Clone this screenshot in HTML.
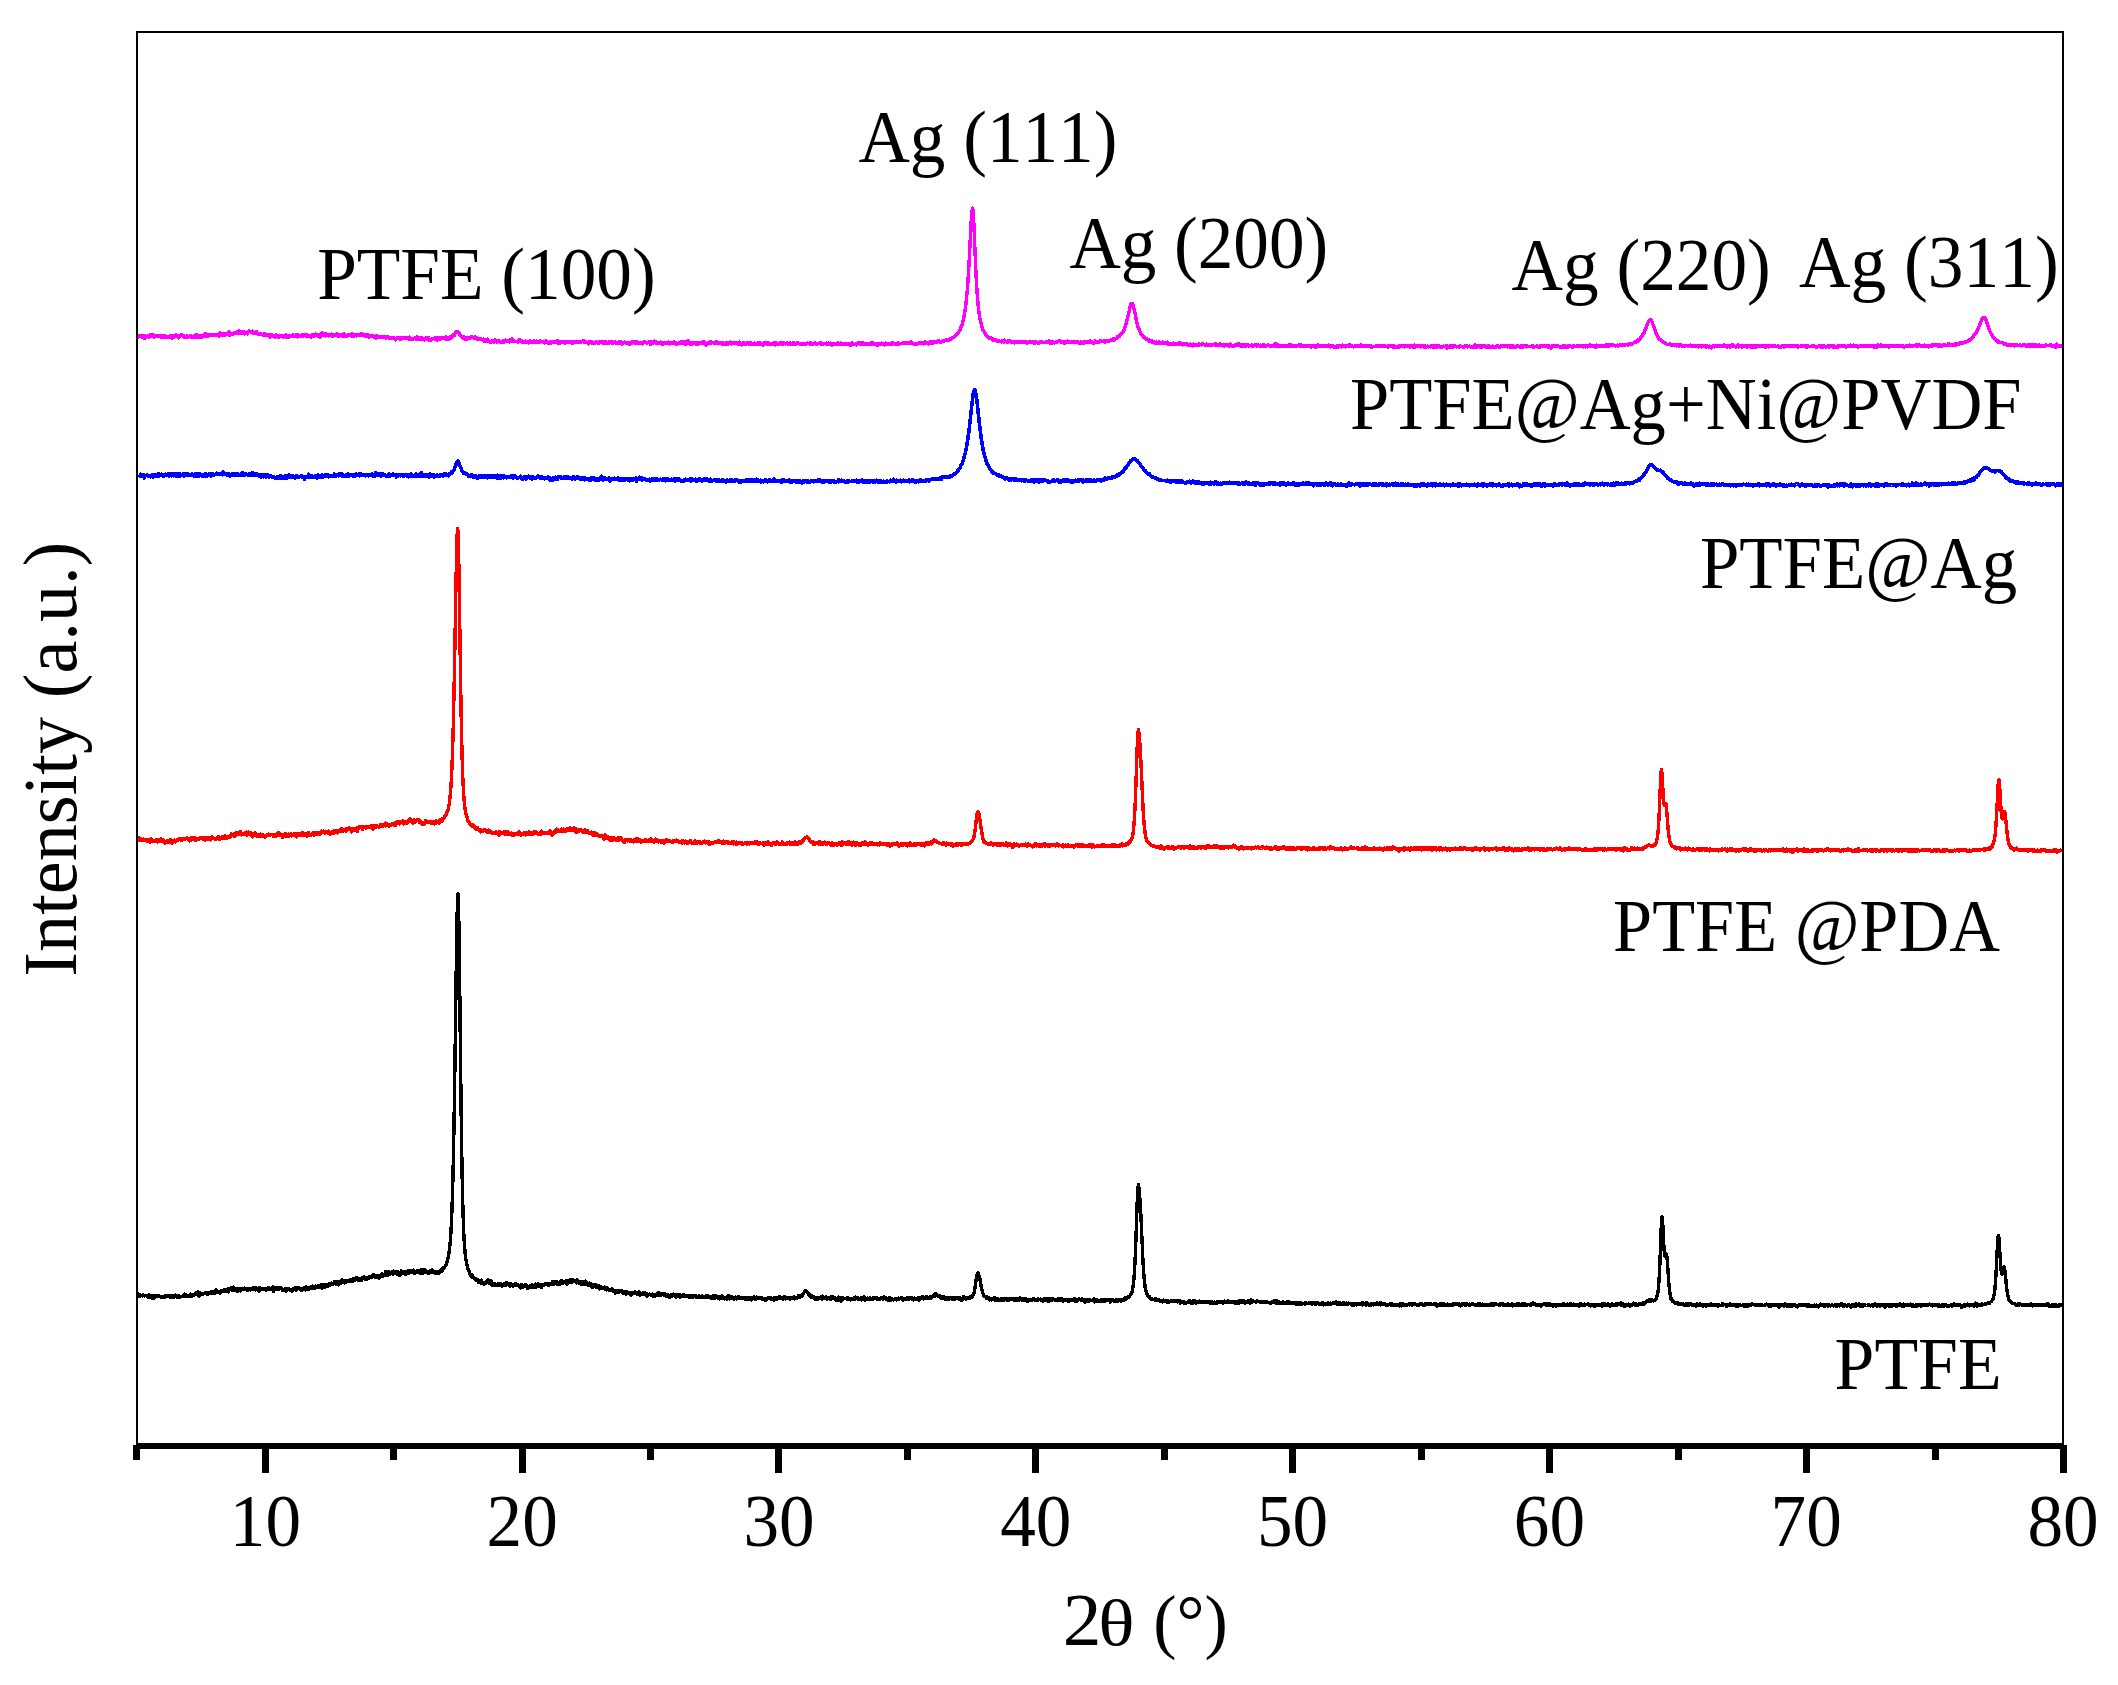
<!DOCTYPE html>
<html lang="en">
<head>
<meta charset="utf-8">
<title>XRD patterns</title>
<style>
html,body{margin:0;padding:0;background:#ffffff;}
body{width:2118px;height:1685px;overflow:hidden;}
svg{display:block;}
</style>
</head>
<body>
<svg width="2118" height="1685" viewBox="0 0 2118 1685">
<rect x="0" y="0" width="2118" height="1685" fill="#ffffff"/>
<polyline fill="none" stroke="#000000" stroke-width="3.4" stroke-linejoin="round" shape-rendering="crispEdges" stroke-linecap="butt" points="137.0,1295.6 137.5,1295.9 138.0,1295.6 138.5,1294.2 139.0,1295.9 139.5,1295.4 140.0,1295.0 140.5,1295.9 141.0,1295.6 141.5,1295.7 142.0,1295.6 142.5,1295.9 143.0,1295.0 143.5,1295.5 144.0,1295.2 144.5,1295.9 145.0,1295.6 145.5,1295.4 146.0,1295.3 146.5,1295.8 147.0,1296.1 147.5,1295.9 148.0,1297.4 148.5,1297.3 149.0,1294.5 149.5,1295.3 150.0,1296.5 150.5,1296.2 151.0,1296.6 151.5,1296.8 152.0,1298.4 152.5,1295.8 153.0,1296.5 153.5,1298.6 154.0,1297.4 154.5,1297.4 155.0,1296.3 155.5,1295.3 156.0,1296.5 156.5,1296.5 157.0,1295.6 157.5,1295.8 158.0,1296.3 158.5,1295.8 159.0,1296.6 159.5,1296.8 160.0,1296.8 160.5,1296.7 161.0,1297.4 161.5,1297.7 162.0,1297.2 162.5,1296.3 163.0,1297.4 163.5,1296.3 164.0,1297.4 164.5,1296.1 165.0,1297.3 165.5,1296.6 166.0,1295.6 166.5,1296.3 167.0,1296.6 167.5,1296.6 168.0,1295.7 168.5,1295.7 169.0,1296.6 169.5,1296.3 170.0,1296.9 170.5,1297.2 171.0,1295.2 171.5,1296.5 172.0,1297.4 172.5,1296.1 173.0,1295.7 173.5,1297.0 174.0,1296.5 174.5,1296.8 175.0,1295.6 175.5,1294.9 176.0,1296.1 176.5,1295.9 177.0,1297.1 177.5,1296.6 178.0,1295.2 178.5,1295.6 179.0,1297.3 179.5,1297.3 180.0,1296.2 180.5,1296.6 181.0,1296.7 181.5,1296.8 182.0,1296.8 182.5,1296.1 183.0,1295.8 183.5,1295.6 184.0,1296.6 184.5,1294.0 185.0,1295.6 185.5,1295.8 186.0,1294.6 186.5,1295.8 187.0,1295.2 187.5,1296.6 188.0,1295.8 188.5,1296.3 189.0,1296.7 189.5,1296.0 190.0,1294.9 190.5,1294.1 191.0,1296.9 191.5,1295.3 192.0,1294.7 192.5,1295.2 193.0,1294.9 193.5,1295.4 194.0,1294.6 194.5,1294.2 195.0,1293.8 195.5,1294.2 196.0,1292.8 196.5,1294.2 197.0,1294.8 197.5,1292.3 198.0,1291.8 198.5,1294.4 199.0,1296.2 199.5,1293.3 200.0,1292.9 200.5,1294.7 201.0,1293.5 201.5,1293.9 202.0,1293.8 202.5,1294.3 203.0,1293.3 203.5,1294.0 204.0,1293.5 204.5,1293.3 205.0,1293.6 205.5,1292.8 206.0,1293.2 206.5,1292.3 207.0,1292.5 207.5,1294.5 208.0,1292.8 208.5,1292.7 209.0,1293.1 209.5,1292.5 210.0,1292.7 210.5,1293.5 211.0,1293.1 211.5,1291.7 212.0,1293.3 212.5,1292.2 213.0,1291.6 213.5,1291.6 214.0,1291.9 214.5,1293.3 215.0,1290.8 215.5,1292.0 216.0,1290.1 216.5,1292.0 217.0,1292.5 217.5,1291.8 218.0,1291.3 218.5,1291.8 219.0,1292.1 219.5,1292.0 220.0,1293.1 220.5,1291.7 221.0,1290.9 221.5,1291.4 222.0,1291.1 222.5,1291.4 223.0,1291.3 223.5,1291.2 224.0,1289.7 224.5,1291.6 225.0,1290.0 225.5,1289.3 226.0,1290.7 226.5,1291.5 227.0,1290.4 227.5,1289.7 228.0,1288.8 228.5,1291.9 229.0,1290.3 229.5,1288.4 230.0,1288.6 230.5,1289.2 231.0,1287.6 231.5,1289.1 232.0,1288.9 232.5,1290.7 233.0,1290.3 233.5,1287.0 234.0,1289.5 234.5,1288.0 235.0,1290.6 235.5,1289.8 236.0,1290.2 236.5,1288.4 237.0,1290.8 237.5,1291.2 238.0,1288.4 238.5,1289.6 239.0,1288.8 239.5,1289.5 240.0,1288.3 240.5,1291.0 241.0,1288.4 241.5,1289.1 242.0,1289.6 242.5,1288.6 243.0,1289.0 243.5,1288.9 244.0,1289.3 244.5,1288.2 245.0,1289.1 245.5,1289.4 246.0,1289.1 246.5,1289.6 247.0,1289.3 247.5,1290.3 248.0,1289.0 248.5,1289.2 249.0,1288.9 249.5,1289.0 250.0,1288.4 250.5,1290.0 251.0,1288.4 251.5,1288.8 252.0,1289.7 252.5,1289.6 253.0,1288.8 253.5,1287.4 254.0,1289.5 254.5,1289.2 255.0,1287.9 255.5,1289.9 256.0,1288.8 256.5,1288.3 257.0,1289.7 257.5,1289.4 258.0,1289.6 258.5,1288.0 259.0,1291.2 259.5,1289.1 260.0,1288.1 260.5,1289.5 261.0,1288.9 261.5,1289.3 262.0,1288.9 262.5,1289.5 263.0,1289.6 263.5,1288.6 264.0,1289.8 264.5,1288.9 265.0,1288.7 265.5,1289.4 266.0,1289.9 266.5,1289.1 267.0,1288.3 267.5,1289.6 268.0,1287.4 268.5,1288.1 269.0,1289.1 269.5,1288.1 270.0,1289.2 270.5,1288.9 271.0,1289.8 271.5,1288.2 272.0,1288.5 272.5,1289.7 273.0,1287.0 273.5,1291.8 274.0,1288.1 274.5,1288.2 275.0,1289.8 275.5,1288.9 276.0,1287.4 276.5,1289.5 277.0,1289.3 277.5,1288.2 278.0,1288.3 278.5,1289.0 279.0,1287.9 279.5,1288.9 280.0,1288.9 280.5,1288.1 281.0,1287.5 281.5,1288.7 282.0,1288.3 282.5,1290.1 283.0,1289.4 283.5,1290.1 284.0,1289.7 284.5,1289.7 285.0,1288.7 285.5,1290.0 286.0,1290.9 286.5,1289.1 287.0,1288.9 287.5,1289.3 288.0,1288.8 288.5,1288.6 289.0,1289.4 289.5,1289.1 290.0,1290.7 290.5,1289.5 291.0,1290.0 291.5,1290.3 292.0,1289.5 292.5,1291.1 293.0,1289.1 293.5,1288.9 294.0,1289.0 294.5,1289.1 295.0,1287.7 295.5,1288.8 296.0,1287.4 296.5,1290.1 297.0,1288.6 297.5,1288.3 298.0,1287.9 298.5,1288.5 299.0,1288.6 299.5,1288.1 300.0,1288.4 300.5,1289.3 301.0,1288.9 301.5,1290.2 302.0,1290.3 302.5,1289.4 303.0,1289.6 303.5,1288.1 304.0,1289.7 304.5,1288.8 305.0,1289.0 305.5,1289.9 306.0,1286.6 306.5,1288.9 307.0,1287.7 307.5,1289.2 308.0,1287.3 308.5,1288.0 309.0,1288.5 309.5,1288.9 310.0,1288.2 310.5,1287.2 311.0,1287.3 311.5,1288.2 312.0,1287.4 312.5,1286.0 313.0,1288.1 313.5,1287.7 314.0,1288.1 314.5,1287.0 315.0,1288.0 315.5,1286.1 316.0,1287.8 316.5,1286.5 317.0,1287.2 317.5,1287.6 318.0,1285.7 318.5,1286.4 319.0,1286.4 319.5,1287.4 320.0,1287.1 320.5,1285.1 321.0,1286.7 321.5,1287.1 322.0,1288.2 322.5,1284.9 323.0,1285.8 323.5,1287.4 324.0,1284.9 324.5,1284.8 325.0,1286.5 325.5,1286.9 326.0,1285.1 326.5,1286.0 327.0,1285.3 327.5,1286.4 328.0,1284.9 328.5,1285.3 329.0,1283.3 329.5,1283.9 330.0,1283.9 330.5,1284.9 331.0,1284.2 331.5,1283.2 332.0,1284.3 332.5,1284.2 333.0,1283.6 333.5,1283.2 334.0,1283.2 334.5,1281.5 335.0,1283.5 335.5,1283.9 336.0,1282.4 336.5,1284.0 337.0,1282.0 337.5,1282.5 338.0,1282.8 338.5,1285.0 339.0,1281.5 339.5,1283.3 340.0,1283.2 340.5,1282.8 341.0,1283.6 341.5,1281.3 342.0,1279.9 342.5,1282.7 343.0,1280.7 343.5,1281.5 344.0,1280.7 344.5,1282.8 345.0,1282.5 345.5,1280.7 346.0,1282.2 346.5,1281.4 347.0,1281.2 347.5,1281.4 348.0,1281.1 348.5,1281.6 349.0,1281.1 349.5,1280.2 350.0,1281.6 350.5,1279.6 351.0,1280.6 351.5,1280.6 352.0,1281.4 352.5,1279.2 353.0,1281.6 353.5,1280.1 354.0,1279.4 354.5,1278.7 355.0,1280.0 355.5,1279.2 356.0,1277.8 356.5,1277.9 357.0,1278.4 357.5,1278.1 358.0,1279.9 358.5,1280.4 359.0,1279.8 359.5,1279.3 360.0,1278.2 360.5,1278.5 361.0,1279.2 361.5,1280.4 362.0,1278.9 362.5,1277.5 363.0,1277.9 363.5,1277.3 364.0,1276.9 364.5,1277.5 365.0,1278.0 365.5,1279.7 366.0,1277.7 366.5,1279.2 367.0,1279.4 367.5,1277.3 368.0,1278.8 368.5,1277.8 369.0,1276.9 369.5,1277.7 370.0,1277.2 370.5,1277.0 371.0,1276.8 371.5,1277.0 372.0,1277.4 372.5,1275.6 373.0,1276.7 373.5,1274.8 374.0,1276.4 374.5,1276.8 375.0,1276.6 375.5,1276.8 376.0,1277.3 376.5,1275.8 377.0,1276.3 377.5,1277.0 378.0,1277.1 378.5,1276.5 379.0,1278.6 379.5,1275.3 380.0,1276.4 380.5,1276.3 381.0,1275.0 381.5,1274.4 382.0,1273.8 382.5,1275.4 383.0,1276.0 383.5,1275.1 384.0,1274.6 384.5,1274.1 385.0,1275.0 385.5,1271.6 386.0,1274.0 386.5,1273.6 387.0,1272.0 387.5,1275.6 388.0,1271.6 388.5,1272.2 389.0,1271.9 389.5,1274.3 390.0,1272.3 390.5,1273.9 391.0,1273.7 391.5,1273.3 392.0,1271.4 392.5,1272.1 393.0,1274.4 393.5,1271.2 394.0,1271.7 394.5,1272.6 395.0,1273.3 395.5,1272.9 396.0,1273.1 396.5,1271.8 397.0,1274.1 397.5,1273.8 398.0,1271.6 398.5,1274.9 399.0,1275.4 399.5,1272.4 400.0,1273.4 400.5,1275.2 401.0,1271.8 401.5,1270.9 402.0,1271.9 402.5,1272.5 403.0,1272.4 403.5,1273.5 404.0,1273.1 404.5,1271.3 405.0,1272.9 405.5,1274.4 406.0,1273.7 406.5,1273.2 407.0,1272.2 407.5,1273.0 408.0,1271.1 408.5,1273.0 409.0,1271.9 409.5,1273.1 410.0,1272.1 410.5,1270.5 411.0,1271.6 411.5,1272.7 412.0,1270.5 412.5,1270.8 413.0,1270.6 413.5,1270.0 414.0,1272.6 414.5,1273.3 415.0,1272.7 415.5,1272.0 416.0,1271.7 416.5,1271.8 417.0,1271.0 417.5,1272.4 418.0,1272.5 418.5,1272.6 419.0,1270.8 419.5,1271.4 420.0,1271.3 420.5,1273.3 421.0,1271.5 421.5,1269.4 422.0,1271.7 422.5,1273.4 423.0,1272.0 423.5,1272.2 424.0,1271.4 424.5,1269.6 425.0,1269.7 425.5,1270.6 426.0,1271.6 426.5,1272.3 427.0,1272.4 427.5,1271.7 428.0,1273.3 428.5,1272.2 429.0,1271.7 429.5,1273.0 430.0,1271.7 430.5,1270.4 431.0,1271.6 431.5,1272.7 432.0,1270.0 432.5,1272.1 433.0,1272.3 433.5,1271.6 434.0,1271.8 434.5,1272.3 435.0,1272.1 435.5,1273.6 436.0,1273.0 436.5,1271.5 437.0,1271.9 437.5,1272.9 438.0,1273.5 438.5,1272.3 439.0,1272.0 439.5,1272.8 440.0,1271.3 440.5,1270.8 441.0,1269.8 441.5,1270.0 442.0,1271.1 442.5,1268.7 443.0,1269.1 443.5,1267.9 444.0,1268.3 444.5,1267.8 445.0,1266.4 445.5,1265.9 446.0,1264.8 446.5,1263.6 447.0,1262.4 447.5,1260.4 448.0,1258.0 448.5,1255.4 449.0,1252.4 449.5,1249.2 450.0,1244.4 450.5,1239.1 451.0,1231.3 451.5,1221.3 452.0,1209.0 452.5,1194.0 453.0,1174.6 453.5,1152.0 454.0,1125.2 454.5,1094.1 455.0,1059.8 455.5,1023.1 456.0,985.8 456.5,950.7 457.0,921.1 457.5,900.8 458.0,893.6 458.5,904.3 459.0,930.2 459.5,968.0 460.0,1012.3 460.5,1057.5 461.0,1099.8 461.5,1136.9 462.0,1167.8 462.5,1192.6 463.0,1211.9 463.5,1226.7 464.0,1237.7 464.5,1245.8 465.0,1251.6 465.5,1256.4 466.0,1260.3 466.5,1262.1 467.0,1265.0 467.5,1266.4 468.0,1269.0 468.5,1270.1 469.0,1270.5 469.5,1272.6 470.0,1274.5 470.5,1274.5 471.0,1276.0 471.5,1275.9 472.0,1275.1 472.5,1277.2 473.0,1277.2 473.5,1277.0 474.0,1278.7 474.5,1278.6 475.0,1278.5 475.5,1279.6 476.0,1278.8 476.5,1280.1 477.0,1279.3 477.5,1280.6 478.0,1279.9 478.5,1282.2 479.0,1281.6 479.5,1282.6 480.0,1281.2 480.5,1281.7 481.0,1282.9 481.5,1280.1 482.0,1281.9 482.5,1283.6 483.0,1283.2 483.5,1284.0 484.0,1283.2 484.5,1283.9 485.0,1282.6 485.5,1282.4 486.0,1282.1 486.5,1282.9 487.0,1282.7 487.5,1282.5 488.0,1280.0 488.5,1281.1 489.0,1282.4 489.5,1283.3 490.0,1282.5 490.5,1282.3 491.0,1281.0 491.5,1285.1 492.0,1282.7 492.5,1285.4 493.0,1285.5 493.5,1284.5 494.0,1283.9 494.5,1284.6 495.0,1283.7 495.5,1285.2 496.0,1284.8 496.5,1285.1 497.0,1285.1 497.5,1285.7 498.0,1284.1 498.5,1285.4 499.0,1283.8 499.5,1283.7 500.0,1284.0 500.5,1283.6 501.0,1285.5 501.5,1285.8 502.0,1286.3 502.5,1285.2 503.0,1285.4 503.5,1284.4 504.0,1283.8 504.5,1285.3 505.0,1285.2 505.5,1283.7 506.0,1285.0 506.5,1282.7 507.0,1284.0 507.5,1283.6 508.0,1283.8 508.5,1283.6 509.0,1285.4 509.5,1285.3 510.0,1286.0 510.5,1285.0 511.0,1284.0 511.5,1285.0 512.0,1284.3 512.5,1285.9 513.0,1286.1 513.5,1285.4 514.0,1284.5 514.5,1284.6 515.0,1285.4 515.5,1283.8 516.0,1285.2 516.5,1285.6 517.0,1284.9 517.5,1285.5 518.0,1285.8 518.5,1284.9 519.0,1285.2 519.5,1286.9 520.0,1286.6 520.5,1287.8 521.0,1285.2 521.5,1284.7 522.0,1287.3 522.5,1287.3 523.0,1285.9 523.5,1285.4 524.0,1286.6 524.5,1285.1 525.0,1286.5 525.5,1284.8 526.0,1286.5 526.5,1285.0 527.0,1287.0 527.5,1288.7 528.0,1287.0 528.5,1287.9 529.0,1286.4 529.5,1286.2 530.0,1285.4 530.5,1287.7 531.0,1286.5 531.5,1287.6 532.0,1284.8 532.5,1285.5 533.0,1285.9 533.5,1287.2 534.0,1287.5 534.5,1285.5 535.0,1284.8 535.5,1284.2 536.0,1287.0 536.5,1285.7 537.0,1285.2 537.5,1285.9 538.0,1283.4 538.5,1284.0 539.0,1286.4 539.5,1286.1 540.0,1285.8 540.5,1284.9 541.0,1286.5 541.5,1287.6 542.0,1284.2 542.5,1285.4 543.0,1285.1 543.5,1285.5 544.0,1284.9 544.5,1284.8 545.0,1284.0 545.5,1284.4 546.0,1283.8 546.5,1284.5 547.0,1284.3 547.5,1284.9 548.0,1283.6 548.5,1283.7 549.0,1284.9 549.5,1283.4 550.0,1283.2 550.5,1284.2 551.0,1283.4 551.5,1283.2 552.0,1283.3 552.5,1281.9 553.0,1283.6 553.5,1284.3 554.0,1283.5 554.5,1281.5 555.0,1283.3 555.5,1282.3 556.0,1282.9 556.5,1283.3 557.0,1282.1 557.5,1284.3 558.0,1283.1 558.5,1284.3 559.0,1284.2 559.5,1284.5 560.0,1284.3 560.5,1281.7 561.0,1283.0 561.5,1280.4 562.0,1282.1 562.5,1283.0 563.0,1282.7 563.5,1282.9 564.0,1281.5 564.5,1281.8 565.0,1281.5 565.5,1282.4 566.0,1282.8 566.5,1280.7 567.0,1284.7 567.5,1280.9 568.0,1280.5 568.5,1281.4 569.0,1281.5 569.5,1281.2 570.0,1280.0 570.5,1282.2 571.0,1281.0 571.5,1282.5 572.0,1282.5 572.5,1279.8 573.0,1280.1 573.5,1280.1 574.0,1281.5 574.5,1281.5 575.0,1281.6 575.5,1280.4 576.0,1281.9 576.5,1282.8 577.0,1279.9 577.5,1281.2 578.0,1281.8 578.5,1281.2 579.0,1281.3 579.5,1283.6 580.0,1283.1 580.5,1282.7 581.0,1281.4 581.5,1284.7 582.0,1282.8 582.5,1281.9 583.0,1282.2 583.5,1282.1 584.0,1284.9 584.5,1283.4 585.0,1283.4 585.5,1281.2 586.0,1284.1 586.5,1282.6 587.0,1282.6 587.5,1284.5 588.0,1283.6 588.5,1285.4 589.0,1285.6 589.5,1283.0 590.0,1284.8 590.5,1283.8 591.0,1285.4 591.5,1286.7 592.0,1284.7 592.5,1287.6 593.0,1285.4 593.5,1284.5 594.0,1285.7 594.5,1286.6 595.0,1284.5 595.5,1286.1 596.0,1284.9 596.5,1287.2 597.0,1286.3 597.5,1286.1 598.0,1287.7 598.5,1285.4 599.0,1286.5 599.5,1288.8 600.0,1287.0 600.5,1288.7 601.0,1287.7 601.5,1287.0 602.0,1287.5 602.5,1288.0 603.0,1287.9 603.5,1287.5 604.0,1287.4 604.5,1287.1 605.0,1288.5 605.5,1289.0 606.0,1289.7 606.5,1287.5 607.0,1289.9 607.5,1289.3 608.0,1288.3 608.5,1289.5 609.0,1290.1 609.5,1289.9 610.0,1290.4 610.5,1290.5 611.0,1290.7 611.5,1290.0 612.0,1288.5 612.5,1289.8 613.0,1291.2 613.5,1290.7 614.0,1291.9 614.5,1292.0 615.0,1291.5 615.5,1293.2 616.0,1290.8 616.5,1292.5 617.0,1291.2 617.5,1290.9 618.0,1292.0 618.5,1291.0 619.0,1292.4 619.5,1290.7 620.0,1291.8 620.5,1291.1 621.0,1291.5 621.5,1291.5 622.0,1291.1 622.5,1292.8 623.0,1291.3 623.5,1291.6 624.0,1293.2 624.5,1293.3 625.0,1293.0 625.5,1292.8 626.0,1294.5 626.5,1291.6 627.0,1292.0 627.5,1292.0 628.0,1293.5 628.5,1293.1 629.0,1293.8 629.5,1293.8 630.0,1293.0 630.5,1292.6 631.0,1292.6 631.5,1295.1 632.0,1294.1 632.5,1293.9 633.0,1293.1 633.5,1293.4 634.0,1293.3 634.5,1293.4 635.0,1291.6 635.5,1293.3 636.0,1293.0 636.5,1293.5 637.0,1293.6 637.5,1294.3 638.0,1293.6 638.5,1294.3 639.0,1291.6 639.5,1292.9 640.0,1295.4 640.5,1293.1 641.0,1293.9 641.5,1294.5 642.0,1293.3 642.5,1294.5 643.0,1292.8 643.5,1292.6 644.0,1293.1 644.5,1292.9 645.0,1294.3 645.5,1294.3 646.0,1295.0 646.5,1293.8 647.0,1296.7 647.5,1294.7 648.0,1294.7 648.5,1295.1 649.0,1294.6 649.5,1294.2 650.0,1294.5 650.5,1295.1 651.0,1294.9 651.5,1295.3 652.0,1294.2 652.5,1294.1 653.0,1296.2 653.5,1294.6 654.0,1295.5 654.5,1296.1 655.0,1296.5 655.5,1294.6 656.0,1295.1 656.5,1295.0 657.0,1295.2 657.5,1293.6 658.0,1295.2 658.5,1292.8 659.0,1295.1 659.5,1295.3 660.0,1295.2 660.5,1293.7 661.0,1295.5 661.5,1294.0 662.0,1293.9 662.5,1294.0 663.0,1294.2 663.5,1294.9 664.0,1295.6 664.5,1293.7 665.0,1294.9 665.5,1296.0 666.0,1295.7 666.5,1295.9 667.0,1294.6 667.5,1296.7 668.0,1294.9 668.5,1296.3 669.0,1296.7 669.5,1297.3 670.0,1296.2 670.5,1296.4 671.0,1295.0 671.5,1294.7 672.0,1296.0 672.5,1295.1 673.0,1295.2 673.5,1294.2 674.0,1295.5 674.5,1295.8 675.0,1294.9 675.5,1295.1 676.0,1297.1 676.5,1296.0 677.0,1295.5 677.5,1294.6 678.0,1295.2 678.5,1295.4 679.0,1296.8 679.5,1295.1 680.0,1297.2 680.5,1295.1 681.0,1295.6 681.5,1296.7 682.0,1295.9 682.5,1295.3 683.0,1295.9 683.5,1296.5 684.0,1294.7 684.5,1295.9 685.0,1295.8 685.5,1295.6 686.0,1296.6 686.5,1295.6 687.0,1295.7 687.5,1296.1 688.0,1296.5 688.5,1295.9 689.0,1297.2 689.5,1295.5 690.0,1297.1 690.5,1295.4 691.0,1295.8 691.5,1296.5 692.0,1297.6 692.5,1296.8 693.0,1295.7 693.5,1297.0 694.0,1295.9 694.5,1295.6 695.0,1296.5 695.5,1296.4 696.0,1297.1 696.5,1295.9 697.0,1296.6 697.5,1297.1 698.0,1297.0 698.5,1296.6 699.0,1295.9 699.5,1297.3 700.0,1296.7 700.5,1297.0 701.0,1296.4 701.5,1296.8 702.0,1296.0 702.5,1296.9 703.0,1297.5 703.5,1297.0 704.0,1297.4 704.5,1296.9 705.0,1297.5 705.5,1296.5 706.0,1295.3 706.5,1296.8 707.0,1296.1 707.5,1295.7 708.0,1297.0 708.5,1297.0 709.0,1297.3 709.5,1296.9 710.0,1297.3 710.5,1297.4 711.0,1298.5 711.5,1296.6 712.0,1297.1 712.5,1297.4 713.0,1295.9 713.5,1295.9 714.0,1298.9 714.5,1295.8 715.0,1297.5 715.5,1296.8 716.0,1297.0 716.5,1296.0 717.0,1296.7 717.5,1298.0 718.0,1296.6 718.5,1297.9 719.0,1297.8 719.5,1298.9 720.0,1296.8 720.5,1298.3 721.0,1297.9 721.5,1297.3 722.0,1296.1 722.5,1298.5 723.0,1296.4 723.5,1297.2 724.0,1298.6 724.5,1298.8 725.0,1297.3 725.5,1298.1 726.0,1297.8 726.5,1298.8 727.0,1299.6 727.5,1296.5 728.0,1298.5 728.5,1295.4 729.0,1297.3 729.5,1296.5 730.0,1298.9 730.5,1297.5 731.0,1296.9 731.5,1297.0 732.0,1297.1 732.5,1297.8 733.0,1297.8 733.5,1298.6 734.0,1299.2 734.5,1298.5 735.0,1297.2 735.5,1296.9 736.0,1297.5 736.5,1298.8 737.0,1297.6 737.5,1297.2 738.0,1297.8 738.5,1296.7 739.0,1296.9 739.5,1298.3 740.0,1297.7 740.5,1297.7 741.0,1298.1 741.5,1297.4 742.0,1297.7 742.5,1298.0 743.0,1298.8 743.5,1298.2 744.0,1297.2 744.5,1297.9 745.0,1298.6 745.5,1299.6 746.0,1297.4 746.5,1298.2 747.0,1297.7 747.5,1298.7 748.0,1298.5 748.5,1299.2 749.0,1298.5 749.5,1297.8 750.0,1297.7 750.5,1298.4 751.0,1298.5 751.5,1299.8 752.0,1299.4 752.5,1297.3 753.0,1298.3 753.5,1297.2 754.0,1297.1 754.5,1298.8 755.0,1298.6 755.5,1297.3 756.0,1299.2 756.5,1297.1 757.0,1297.1 757.5,1298.6 758.0,1298.2 758.5,1297.8 759.0,1297.9 759.5,1298.3 760.0,1298.1 760.5,1298.4 761.0,1297.2 761.5,1297.7 762.0,1299.0 762.5,1298.1 763.0,1299.1 763.5,1299.6 764.0,1298.6 764.5,1299.2 765.0,1300.3 765.5,1299.2 766.0,1299.9 766.5,1299.6 767.0,1299.0 767.5,1298.1 768.0,1297.6 768.5,1297.4 769.0,1298.3 769.5,1298.5 770.0,1298.1 770.5,1298.8 771.0,1297.7 771.5,1298.9 772.0,1298.5 772.5,1298.4 773.0,1298.5 773.5,1298.5 774.0,1300.3 774.5,1297.5 775.0,1298.8 775.5,1299.6 776.0,1299.2 776.5,1298.2 777.0,1299.6 777.5,1297.3 778.0,1297.2 778.5,1298.5 779.0,1297.0 779.5,1296.5 780.0,1298.8 780.5,1298.6 781.0,1298.7 781.5,1297.8 782.0,1298.3 782.5,1297.4 783.0,1299.3 783.5,1298.5 784.0,1298.3 784.5,1296.5 785.0,1298.4 785.5,1298.8 786.0,1298.6 786.5,1298.3 787.0,1297.7 787.5,1297.5 788.0,1298.4 788.5,1298.2 789.0,1298.2 789.5,1297.9 790.0,1299.4 790.5,1297.3 791.0,1298.1 791.5,1297.7 792.0,1298.7 792.5,1298.7 793.0,1298.5 793.5,1298.0 794.0,1296.5 794.5,1299.0 795.0,1298.0 795.5,1297.7 796.0,1297.5 796.5,1297.3 797.0,1298.0 797.5,1297.9 798.0,1297.4 798.5,1295.7 799.0,1297.0 799.5,1297.2 800.0,1296.9 800.5,1296.3 801.0,1296.5 801.5,1296.4 802.0,1295.1 802.5,1295.8 803.0,1293.4 803.5,1293.2 804.0,1292.5 804.5,1291.1 805.0,1291.1 805.5,1291.5 806.0,1291.4 806.5,1291.1 807.0,1292.3 807.5,1292.6 808.0,1293.2 808.5,1294.4 809.0,1294.8 809.5,1296.0 810.0,1295.0 810.5,1296.7 811.0,1296.3 811.5,1297.4 812.0,1295.9 812.5,1296.7 813.0,1297.3 813.5,1298.1 814.0,1296.8 814.5,1298.8 815.0,1298.2 815.5,1297.7 816.0,1299.0 816.5,1298.4 817.0,1299.1 817.5,1299.6 818.0,1298.7 818.5,1297.7 819.0,1297.8 819.5,1298.4 820.0,1298.1 820.5,1297.2 821.0,1297.4 821.5,1298.4 822.0,1299.7 822.5,1296.2 823.0,1298.6 823.5,1297.9 824.0,1298.6 824.5,1298.6 825.0,1298.1 825.5,1297.2 826.0,1297.1 826.5,1297.0 827.0,1299.2 827.5,1298.1 828.0,1297.8 828.5,1298.1 829.0,1297.3 829.5,1298.2 830.0,1299.1 830.5,1299.0 831.0,1297.1 831.5,1298.9 832.0,1297.4 832.5,1296.8 833.0,1297.3 833.5,1297.8 834.0,1298.8 834.5,1298.0 835.0,1297.7 835.5,1298.5 836.0,1300.2 836.5,1298.5 837.0,1299.2 837.5,1298.9 838.0,1300.7 838.5,1297.2 839.0,1299.5 839.5,1297.7 840.0,1298.3 840.5,1298.8 841.0,1301.1 841.5,1298.5 842.0,1297.6 842.5,1299.8 843.0,1298.1 843.5,1298.4 844.0,1298.5 844.5,1298.7 845.0,1298.6 845.5,1298.7 846.0,1298.6 846.5,1299.0 847.0,1298.0 847.5,1298.0 848.0,1297.9 848.5,1299.1 849.0,1298.5 849.5,1299.1 850.0,1299.2 850.5,1300.0 851.0,1299.1 851.5,1299.6 852.0,1298.3 852.5,1298.4 853.0,1298.9 853.5,1298.3 854.0,1299.5 854.5,1298.3 855.0,1299.2 855.5,1297.2 856.0,1298.1 856.5,1298.7 857.0,1298.5 857.5,1297.5 858.0,1298.8 858.5,1299.4 859.0,1299.0 859.5,1298.4 860.0,1298.4 860.5,1298.0 861.0,1299.2 861.5,1299.8 862.0,1298.4 862.5,1297.6 863.0,1298.9 863.5,1299.2 864.0,1296.5 864.5,1298.7 865.0,1300.2 865.5,1299.4 866.0,1299.2 866.5,1299.0 867.0,1299.5 867.5,1298.0 868.0,1298.2 868.5,1299.2 869.0,1298.4 869.5,1298.8 870.0,1297.4 870.5,1299.3 871.0,1299.2 871.5,1298.6 872.0,1298.8 872.5,1299.7 873.0,1297.7 873.5,1297.7 874.0,1297.8 874.5,1298.1 875.0,1297.7 875.5,1298.7 876.0,1298.2 876.5,1297.6 877.0,1297.6 877.5,1299.6 878.0,1298.8 878.5,1298.7 879.0,1298.8 879.5,1298.7 880.0,1299.1 880.5,1299.1 881.0,1298.2 881.5,1297.8 882.0,1297.6 882.5,1297.4 883.0,1299.3 883.5,1297.8 884.0,1297.0 884.5,1298.0 885.0,1298.1 885.5,1298.9 886.0,1298.0 886.5,1299.1 887.0,1299.0 887.5,1299.5 888.0,1300.0 888.5,1300.5 889.0,1299.2 889.5,1297.3 890.0,1298.1 890.5,1298.7 891.0,1300.1 891.5,1299.2 892.0,1299.7 892.5,1299.0 893.0,1299.6 893.5,1299.9 894.0,1299.2 894.5,1299.7 895.0,1299.8 895.5,1298.9 896.0,1299.7 896.5,1300.0 897.0,1298.8 897.5,1298.8 898.0,1298.5 898.5,1298.2 899.0,1299.0 899.5,1298.8 900.0,1298.7 900.5,1298.4 901.0,1297.9 901.5,1298.4 902.0,1299.2 902.5,1298.2 903.0,1298.4 903.5,1300.1 904.0,1299.5 904.5,1298.3 905.0,1299.2 905.5,1298.4 906.0,1299.8 906.5,1298.1 907.0,1298.6 907.5,1299.6 908.0,1297.8 908.5,1299.3 909.0,1297.7 909.5,1298.5 910.0,1297.9 910.5,1298.4 911.0,1298.6 911.5,1298.6 912.0,1297.9 912.5,1299.4 913.0,1299.4 913.5,1299.9 914.0,1299.8 914.5,1298.0 915.0,1299.5 915.5,1299.6 916.0,1298.2 916.5,1299.2 917.0,1299.5 917.5,1298.0 918.0,1297.4 918.5,1298.2 919.0,1300.4 919.5,1298.7 920.0,1297.6 920.5,1298.3 921.0,1297.6 921.5,1298.1 922.0,1298.6 922.5,1296.6 923.0,1298.6 923.5,1299.1 924.0,1297.6 924.5,1297.4 925.0,1298.6 925.5,1297.1 926.0,1297.0 926.5,1296.8 927.0,1297.8 927.5,1298.2 928.0,1297.9 928.5,1298.5 929.0,1298.7 929.5,1298.2 930.0,1297.1 930.5,1297.3 931.0,1298.2 931.5,1296.6 932.0,1296.9 932.5,1296.6 933.0,1296.4 933.5,1295.4 934.0,1294.8 934.5,1296.6 935.0,1295.1 935.5,1293.9 936.0,1294.0 936.5,1294.6 937.0,1294.4 937.5,1295.5 938.0,1295.4 938.5,1296.1 939.0,1296.7 939.5,1296.9 940.0,1296.0 940.5,1297.7 941.0,1298.0 941.5,1298.3 942.0,1297.2 942.5,1298.1 943.0,1297.9 943.5,1296.7 944.0,1296.5 944.5,1298.2 945.0,1297.5 945.5,1298.9 946.0,1299.7 946.5,1297.8 947.0,1297.9 947.5,1298.3 948.0,1298.9 948.5,1297.6 949.0,1299.3 949.5,1299.0 950.0,1298.7 950.5,1297.8 951.0,1298.9 951.5,1298.8 952.0,1297.4 952.5,1299.6 953.0,1297.9 953.5,1298.4 954.0,1297.9 954.5,1298.3 955.0,1298.9 955.5,1297.6 956.0,1297.2 956.5,1298.1 957.0,1297.3 957.5,1297.8 958.0,1298.3 958.5,1298.5 959.0,1299.6 959.5,1297.9 960.0,1299.0 960.5,1298.2 961.0,1299.3 961.5,1300.3 962.0,1298.6 962.5,1299.5 963.0,1297.7 963.5,1296.9 964.0,1297.3 964.5,1297.0 965.0,1297.5 965.5,1298.1 966.0,1298.9 966.5,1298.6 967.0,1298.3 967.5,1297.8 968.0,1297.6 968.5,1298.1 969.0,1298.1 969.5,1297.9 970.0,1297.9 970.5,1297.6 971.0,1296.2 971.5,1296.7 972.0,1296.3 972.5,1297.1 973.0,1295.2 973.5,1294.6 974.0,1293.3 974.5,1290.7 975.0,1287.8 975.5,1284.7 976.0,1280.9 976.5,1277.7 977.0,1275.0 977.5,1273.1 978.0,1272.8 978.5,1273.7 979.0,1275.5 979.5,1276.9 980.0,1279.5 980.5,1282.5 981.0,1285.7 981.5,1287.1 982.0,1290.1 982.5,1292.2 983.0,1293.3 983.5,1295.7 984.0,1296.2 984.5,1296.5 985.0,1296.2 985.5,1296.4 986.0,1296.9 986.5,1298.2 987.0,1297.3 987.5,1297.0 988.0,1297.3 988.5,1298.2 989.0,1299.5 989.5,1300.1 990.0,1298.4 990.5,1299.3 991.0,1299.8 991.5,1300.0 992.0,1299.1 992.5,1298.3 993.0,1298.6 993.5,1297.9 994.0,1299.5 994.5,1299.9 995.0,1298.0 995.5,1299.3 996.0,1299.4 996.5,1300.2 997.0,1300.2 997.5,1300.0 998.0,1298.9 998.5,1299.2 999.0,1300.4 999.5,1299.3 1000.0,1299.3 1000.5,1300.5 1001.0,1299.3 1001.5,1298.5 1002.0,1299.1 1002.5,1299.8 1003.0,1299.0 1003.5,1299.7 1004.0,1300.0 1004.5,1299.0 1005.0,1299.1 1005.5,1299.5 1006.0,1298.7 1006.5,1299.7 1007.0,1299.2 1007.5,1300.1 1008.0,1299.2 1008.5,1298.8 1009.0,1300.6 1009.5,1298.7 1010.0,1298.8 1010.5,1298.6 1011.0,1298.8 1011.5,1298.6 1012.0,1299.1 1012.5,1298.9 1013.0,1299.1 1013.5,1299.6 1014.0,1299.9 1014.5,1299.9 1015.0,1299.1 1015.5,1300.0 1016.0,1299.8 1016.5,1299.8 1017.0,1298.5 1017.5,1300.1 1018.0,1299.3 1018.5,1300.6 1019.0,1299.8 1019.5,1298.4 1020.0,1298.1 1020.5,1299.7 1021.0,1298.3 1021.5,1299.3 1022.0,1298.7 1022.5,1300.4 1023.0,1299.1 1023.5,1300.2 1024.0,1300.3 1024.5,1299.3 1025.0,1299.1 1025.5,1300.5 1026.0,1299.5 1026.5,1299.1 1027.0,1300.6 1027.5,1301.5 1028.0,1299.7 1028.5,1300.7 1029.0,1299.5 1029.5,1300.7 1030.0,1299.6 1030.5,1300.7 1031.0,1299.9 1031.5,1299.5 1032.0,1299.9 1032.5,1299.2 1033.0,1298.9 1033.5,1299.1 1034.0,1299.8 1034.5,1299.0 1035.0,1300.0 1035.5,1300.2 1036.0,1300.2 1036.5,1299.3 1037.0,1299.6 1037.5,1299.6 1038.0,1300.3 1038.5,1298.9 1039.0,1299.3 1039.5,1299.4 1040.0,1299.6 1040.5,1299.2 1041.0,1299.3 1041.5,1300.5 1042.0,1299.3 1042.5,1300.5 1043.0,1301.3 1043.5,1300.8 1044.0,1298.6 1044.5,1300.5 1045.0,1300.2 1045.5,1300.3 1046.0,1298.9 1046.5,1300.6 1047.0,1299.1 1047.5,1300.7 1048.0,1300.6 1048.5,1301.7 1049.0,1299.4 1049.5,1298.6 1050.0,1300.3 1050.5,1300.2 1051.0,1299.3 1051.5,1300.7 1052.0,1300.2 1052.5,1298.8 1053.0,1299.5 1053.5,1299.4 1054.0,1299.7 1054.5,1300.1 1055.0,1299.4 1055.5,1299.7 1056.0,1300.2 1056.5,1299.9 1057.0,1299.7 1057.5,1299.7 1058.0,1300.1 1058.5,1298.8 1059.0,1299.9 1059.5,1299.0 1060.0,1299.7 1060.5,1298.6 1061.0,1300.3 1061.5,1299.7 1062.0,1298.7 1062.5,1299.9 1063.0,1299.2 1063.5,1301.1 1064.0,1300.3 1064.5,1299.3 1065.0,1300.0 1065.5,1299.8 1066.0,1300.8 1066.5,1300.2 1067.0,1300.3 1067.5,1299.3 1068.0,1300.6 1068.5,1301.5 1069.0,1300.8 1069.5,1300.3 1070.0,1300.6 1070.5,1299.8 1071.0,1300.3 1071.5,1299.4 1072.0,1300.1 1072.5,1299.8 1073.0,1299.4 1073.5,1300.3 1074.0,1299.0 1074.5,1300.0 1075.0,1299.1 1075.5,1301.3 1076.0,1301.2 1076.5,1300.5 1077.0,1301.3 1077.5,1300.7 1078.0,1300.5 1078.5,1299.7 1079.0,1299.1 1079.5,1299.7 1080.0,1299.4 1080.5,1299.4 1081.0,1300.2 1081.5,1299.7 1082.0,1298.5 1082.5,1299.7 1083.0,1299.6 1083.5,1300.2 1084.0,1299.7 1084.5,1301.2 1085.0,1302.0 1085.5,1300.2 1086.0,1301.1 1086.5,1301.1 1087.0,1299.7 1087.5,1300.4 1088.0,1301.3 1088.5,1300.8 1089.0,1301.3 1089.5,1299.5 1090.0,1299.7 1090.5,1300.6 1091.0,1300.8 1091.5,1300.7 1092.0,1300.4 1092.5,1300.4 1093.0,1300.3 1093.5,1301.1 1094.0,1298.9 1094.5,1301.8 1095.0,1300.3 1095.5,1299.7 1096.0,1300.9 1096.5,1299.7 1097.0,1300.7 1097.5,1300.3 1098.0,1300.9 1098.5,1301.1 1099.0,1301.4 1099.5,1300.4 1100.0,1300.7 1100.5,1301.1 1101.0,1300.1 1101.5,1301.6 1102.0,1301.1 1102.5,1300.0 1103.0,1301.8 1103.5,1301.6 1104.0,1299.9 1104.5,1301.0 1105.0,1301.3 1105.5,1300.9 1106.0,1299.5 1106.5,1299.4 1107.0,1300.3 1107.5,1300.0 1108.0,1300.3 1108.5,1300.1 1109.0,1300.4 1109.5,1299.5 1110.0,1300.1 1110.5,1302.1 1111.0,1300.1 1111.5,1300.6 1112.0,1300.4 1112.5,1300.5 1113.0,1299.8 1113.5,1300.7 1114.0,1300.5 1114.5,1300.9 1115.0,1301.7 1115.5,1300.4 1116.0,1300.8 1116.5,1299.6 1117.0,1300.2 1117.5,1301.2 1118.0,1300.3 1118.5,1300.0 1119.0,1300.4 1119.5,1300.1 1120.0,1300.2 1120.5,1300.0 1121.0,1301.3 1121.5,1299.5 1122.0,1299.5 1122.5,1299.3 1123.0,1300.2 1123.5,1299.2 1124.0,1299.9 1124.5,1299.1 1125.0,1298.9 1125.5,1297.9 1126.0,1299.2 1126.5,1298.5 1127.0,1298.4 1127.5,1297.9 1128.0,1297.3 1128.5,1296.7 1129.0,1297.3 1129.5,1296.4 1130.0,1295.5 1130.5,1294.7 1131.0,1294.2 1131.5,1293.0 1132.0,1292.3 1132.5,1290.0 1133.0,1286.8 1133.5,1283.0 1134.0,1278.0 1134.5,1270.9 1135.0,1261.9 1135.5,1250.6 1136.0,1237.1 1136.5,1222.1 1137.0,1207.1 1137.5,1194.6 1138.0,1186.6 1138.5,1184.8 1139.0,1188.0 1139.5,1193.9 1140.0,1200.8 1140.5,1208.6 1141.0,1217.7 1141.5,1228.6 1142.0,1239.7 1142.5,1251.0 1143.0,1261.3 1143.5,1269.7 1144.0,1276.6 1144.5,1281.6 1145.0,1286.0 1145.5,1289.8 1146.0,1291.0 1146.5,1293.0 1147.0,1294.0 1147.5,1295.0 1148.0,1295.9 1148.5,1297.0 1149.0,1296.5 1149.5,1296.7 1150.0,1297.8 1150.5,1298.3 1151.0,1299.1 1151.5,1299.0 1152.0,1298.6 1152.5,1299.4 1153.0,1299.8 1153.5,1299.5 1154.0,1299.3 1154.5,1300.0 1155.0,1299.5 1155.5,1298.6 1156.0,1300.4 1156.5,1299.1 1157.0,1299.8 1157.5,1300.0 1158.0,1300.0 1158.5,1300.1 1159.0,1299.6 1159.5,1300.8 1160.0,1300.6 1160.5,1300.7 1161.0,1301.3 1161.5,1301.3 1162.0,1301.3 1162.5,1301.8 1163.0,1301.1 1163.5,1300.0 1164.0,1301.0 1164.5,1300.9 1165.0,1301.2 1165.5,1300.9 1166.0,1300.8 1166.5,1302.0 1167.0,1302.1 1167.5,1300.8 1168.0,1301.9 1168.5,1301.6 1169.0,1301.5 1169.5,1302.0 1170.0,1301.5 1170.5,1301.1 1171.0,1301.4 1171.5,1300.3 1172.0,1301.2 1172.5,1301.2 1173.0,1300.6 1173.5,1301.5 1174.0,1301.5 1174.5,1300.9 1175.0,1301.3 1175.5,1301.7 1176.0,1301.7 1176.5,1300.6 1177.0,1301.2 1177.5,1301.7 1178.0,1301.1 1178.5,1300.9 1179.0,1301.0 1179.5,1301.4 1180.0,1301.0 1180.5,1303.1 1181.0,1301.5 1181.5,1302.2 1182.0,1302.3 1182.5,1302.7 1183.0,1302.0 1183.5,1301.5 1184.0,1303.2 1184.5,1302.4 1185.0,1302.4 1185.5,1302.5 1186.0,1303.1 1186.5,1302.6 1187.0,1302.9 1187.5,1302.6 1188.0,1302.1 1188.5,1302.1 1189.0,1301.5 1189.5,1300.7 1190.0,1301.8 1190.5,1301.3 1191.0,1303.5 1191.5,1302.8 1192.0,1302.7 1192.5,1301.5 1193.0,1303.2 1193.5,1300.8 1194.0,1301.0 1194.5,1301.2 1195.0,1301.1 1195.5,1301.9 1196.0,1302.0 1196.5,1303.1 1197.0,1302.5 1197.5,1302.6 1198.0,1302.2 1198.5,1301.8 1199.0,1301.6 1199.5,1301.1 1200.0,1301.6 1200.5,1301.9 1201.0,1302.7 1201.5,1301.4 1202.0,1301.6 1202.5,1302.5 1203.0,1301.9 1203.5,1302.5 1204.0,1302.0 1204.5,1301.8 1205.0,1301.2 1205.5,1302.0 1206.0,1301.5 1206.5,1301.8 1207.0,1301.9 1207.5,1302.5 1208.0,1302.7 1208.5,1301.5 1209.0,1302.5 1209.5,1302.9 1210.0,1303.2 1210.5,1303.0 1211.0,1302.5 1211.5,1301.7 1212.0,1302.1 1212.5,1303.2 1213.0,1302.2 1213.5,1303.2 1214.0,1303.4 1214.5,1302.0 1215.0,1302.8 1215.5,1302.6 1216.0,1303.8 1216.5,1302.8 1217.0,1301.9 1217.5,1302.5 1218.0,1301.6 1218.5,1302.0 1219.0,1302.4 1219.5,1302.4 1220.0,1302.5 1220.5,1301.8 1221.0,1301.2 1221.5,1302.2 1222.0,1301.9 1222.5,1301.9 1223.0,1303.7 1223.5,1302.9 1224.0,1302.0 1224.5,1301.1 1225.0,1301.1 1225.5,1302.1 1226.0,1302.5 1226.5,1301.7 1227.0,1302.1 1227.5,1302.2 1228.0,1302.8 1228.5,1300.9 1229.0,1302.2 1229.5,1302.5 1230.0,1302.8 1230.5,1302.5 1231.0,1301.6 1231.5,1302.0 1232.0,1301.3 1232.5,1302.4 1233.0,1302.5 1233.5,1302.6 1234.0,1301.6 1234.5,1301.6 1235.0,1303.2 1235.5,1302.4 1236.0,1303.3 1236.5,1302.5 1237.0,1301.4 1237.5,1302.8 1238.0,1303.3 1238.5,1302.1 1239.0,1301.1 1239.5,1302.8 1240.0,1302.2 1240.5,1302.2 1241.0,1300.3 1241.5,1302.2 1242.0,1300.2 1242.5,1301.0 1243.0,1302.4 1243.5,1300.7 1244.0,1300.6 1244.5,1301.5 1245.0,1302.9 1245.5,1302.7 1246.0,1301.4 1246.5,1302.3 1247.0,1302.1 1247.5,1301.6 1248.0,1301.5 1248.5,1300.7 1249.0,1301.8 1249.5,1302.1 1250.0,1303.3 1250.5,1302.1 1251.0,1300.0 1251.5,1300.7 1252.0,1301.9 1252.5,1301.8 1253.0,1300.7 1253.5,1301.5 1254.0,1301.4 1254.5,1301.4 1255.0,1301.3 1255.5,1301.8 1256.0,1302.2 1256.5,1301.7 1257.0,1300.6 1257.5,1300.9 1258.0,1301.3 1258.5,1301.7 1259.0,1301.5 1259.5,1301.6 1260.0,1301.2 1260.5,1302.5 1261.0,1302.5 1261.5,1302.5 1262.0,1301.8 1262.5,1302.1 1263.0,1301.3 1263.5,1301.3 1264.0,1301.7 1264.5,1302.5 1265.0,1302.1 1265.5,1301.4 1266.0,1302.3 1266.5,1302.6 1267.0,1302.4 1267.5,1302.0 1268.0,1302.6 1268.5,1302.4 1269.0,1302.4 1269.5,1302.4 1270.0,1303.0 1270.5,1303.7 1271.0,1303.3 1271.5,1302.8 1272.0,1302.1 1272.5,1301.9 1273.0,1301.8 1273.5,1302.6 1274.0,1300.3 1274.5,1302.2 1275.0,1300.9 1275.5,1302.3 1276.0,1303.1 1276.5,1301.8 1277.0,1301.0 1277.5,1303.4 1278.0,1303.5 1278.5,1303.0 1279.0,1303.3 1279.5,1301.9 1280.0,1303.2 1280.5,1303.5 1281.0,1302.7 1281.5,1302.5 1282.0,1302.9 1282.5,1303.0 1283.0,1301.7 1283.5,1303.3 1284.0,1302.9 1284.5,1302.5 1285.0,1303.1 1285.5,1303.0 1286.0,1302.9 1286.5,1302.3 1287.0,1303.3 1287.5,1302.1 1288.0,1302.6 1288.5,1301.6 1289.0,1301.6 1289.5,1303.1 1290.0,1303.0 1290.5,1303.2 1291.0,1303.4 1291.5,1303.2 1292.0,1302.7 1292.5,1303.2 1293.0,1303.2 1293.5,1302.9 1294.0,1303.1 1294.5,1302.9 1295.0,1302.7 1295.5,1302.9 1296.0,1303.2 1296.5,1304.1 1297.0,1302.5 1297.5,1303.4 1298.0,1302.2 1298.5,1304.2 1299.0,1303.1 1299.5,1303.4 1300.0,1304.3 1300.5,1304.0 1301.0,1302.6 1301.5,1303.9 1302.0,1303.3 1302.5,1303.8 1303.0,1303.5 1303.5,1303.8 1304.0,1303.6 1304.5,1303.4 1305.0,1304.3 1305.5,1302.7 1306.0,1303.5 1306.5,1303.2 1307.0,1303.7 1307.5,1303.5 1308.0,1303.8 1308.5,1303.4 1309.0,1303.3 1309.5,1302.7 1310.0,1303.6 1310.5,1303.7 1311.0,1303.1 1311.5,1302.8 1312.0,1302.8 1312.5,1304.1 1313.0,1303.3 1313.5,1303.4 1314.0,1303.0 1314.5,1302.9 1315.0,1302.7 1315.5,1304.1 1316.0,1302.5 1316.5,1303.9 1317.0,1303.8 1317.5,1303.6 1318.0,1302.8 1318.5,1303.1 1319.0,1304.6 1319.5,1303.4 1320.0,1304.4 1320.5,1304.2 1321.0,1304.1 1321.5,1304.2 1322.0,1303.1 1322.5,1303.4 1323.0,1304.2 1323.5,1302.9 1324.0,1304.9 1324.5,1303.7 1325.0,1304.1 1325.5,1303.4 1326.0,1304.1 1326.5,1303.4 1327.0,1303.7 1327.5,1303.1 1328.0,1304.5 1328.5,1302.9 1329.0,1304.1 1329.5,1303.8 1330.0,1304.0 1330.5,1303.1 1331.0,1304.2 1331.5,1304.1 1332.0,1303.5 1332.5,1303.5 1333.0,1303.1 1333.5,1303.7 1334.0,1302.8 1334.5,1303.5 1335.0,1303.4 1335.5,1302.6 1336.0,1302.0 1336.5,1303.6 1337.0,1303.5 1337.5,1304.4 1338.0,1303.8 1338.5,1303.3 1339.0,1302.9 1339.5,1303.9 1340.0,1303.4 1340.5,1303.0 1341.0,1303.5 1341.5,1304.2 1342.0,1303.9 1342.5,1303.1 1343.0,1304.1 1343.5,1303.2 1344.0,1302.9 1344.5,1304.1 1345.0,1303.4 1345.5,1304.5 1346.0,1303.9 1346.5,1303.1 1347.0,1303.7 1347.5,1304.3 1348.0,1303.4 1348.5,1302.9 1349.0,1303.3 1349.5,1303.5 1350.0,1303.3 1350.5,1303.4 1351.0,1304.6 1351.5,1304.9 1352.0,1304.0 1352.5,1304.9 1353.0,1305.0 1353.5,1305.4 1354.0,1304.1 1354.5,1303.9 1355.0,1304.4 1355.5,1304.2 1356.0,1304.4 1356.5,1304.8 1357.0,1303.9 1357.5,1304.3 1358.0,1303.5 1358.5,1304.2 1359.0,1303.9 1359.5,1303.8 1360.0,1304.2 1360.5,1304.0 1361.0,1304.5 1361.5,1304.5 1362.0,1303.1 1362.5,1304.9 1363.0,1302.8 1363.5,1304.2 1364.0,1304.6 1364.5,1303.7 1365.0,1304.1 1365.5,1303.8 1366.0,1305.0 1366.5,1302.7 1367.0,1303.7 1367.5,1303.1 1368.0,1304.5 1368.5,1305.1 1369.0,1305.0 1369.5,1304.6 1370.0,1304.6 1370.5,1303.9 1371.0,1305.1 1371.5,1304.7 1372.0,1304.0 1372.5,1303.6 1373.0,1303.9 1373.5,1304.8 1374.0,1304.8 1374.5,1304.7 1375.0,1303.2 1375.5,1303.4 1376.0,1304.5 1376.5,1303.8 1377.0,1304.1 1377.5,1302.9 1378.0,1303.5 1378.5,1303.9 1379.0,1303.7 1379.5,1303.6 1380.0,1303.0 1380.5,1304.9 1381.0,1303.9 1381.5,1303.0 1382.0,1304.6 1382.5,1304.0 1383.0,1304.3 1383.5,1304.0 1384.0,1303.8 1384.5,1303.7 1385.0,1304.4 1385.5,1304.8 1386.0,1304.6 1386.5,1304.8 1387.0,1305.1 1387.5,1304.6 1388.0,1305.0 1388.5,1304.9 1389.0,1304.5 1389.5,1304.4 1390.0,1304.1 1390.5,1303.8 1391.0,1303.6 1391.5,1305.2 1392.0,1304.5 1392.5,1304.1 1393.0,1305.5 1393.5,1305.3 1394.0,1304.7 1394.5,1305.3 1395.0,1304.5 1395.5,1304.8 1396.0,1305.7 1396.5,1305.3 1397.0,1304.7 1397.5,1305.1 1398.0,1305.3 1398.5,1304.5 1399.0,1304.3 1399.5,1305.8 1400.0,1304.4 1400.5,1303.7 1401.0,1304.6 1401.5,1305.9 1402.0,1304.9 1402.5,1305.1 1403.0,1303.3 1403.5,1304.4 1404.0,1305.5 1404.5,1304.6 1405.0,1305.7 1405.5,1305.2 1406.0,1305.1 1406.5,1305.7 1407.0,1304.4 1407.5,1304.5 1408.0,1304.6 1408.5,1304.6 1409.0,1303.4 1409.5,1305.0 1410.0,1304.3 1410.5,1304.0 1411.0,1304.5 1411.5,1304.0 1412.0,1304.9 1412.5,1304.3 1413.0,1304.6 1413.5,1303.7 1414.0,1304.1 1414.5,1304.6 1415.0,1303.9 1415.5,1304.0 1416.0,1304.2 1416.5,1305.0 1417.0,1304.6 1417.5,1304.9 1418.0,1304.4 1418.5,1304.7 1419.0,1305.1 1419.5,1304.3 1420.0,1304.5 1420.5,1304.7 1421.0,1303.2 1421.5,1304.5 1422.0,1304.8 1422.5,1304.9 1423.0,1304.4 1423.5,1305.2 1424.0,1304.2 1424.5,1304.5 1425.0,1305.7 1425.5,1303.8 1426.0,1304.6 1426.5,1304.4 1427.0,1304.6 1427.5,1304.1 1428.0,1304.8 1428.5,1304.0 1429.0,1303.8 1429.5,1304.7 1430.0,1303.9 1430.5,1304.7 1431.0,1304.5 1431.5,1304.0 1432.0,1304.2 1432.5,1304.2 1433.0,1304.4 1433.5,1303.9 1434.0,1304.3 1434.5,1303.6 1435.0,1304.3 1435.5,1303.4 1436.0,1304.6 1436.5,1304.6 1437.0,1306.2 1437.5,1305.7 1438.0,1304.8 1438.5,1305.5 1439.0,1305.1 1439.5,1304.5 1440.0,1303.6 1440.5,1305.6 1441.0,1305.1 1441.5,1303.7 1442.0,1305.3 1442.5,1305.4 1443.0,1304.4 1443.5,1305.3 1444.0,1303.7 1444.5,1304.6 1445.0,1304.9 1445.5,1305.3 1446.0,1305.0 1446.5,1304.8 1447.0,1304.8 1447.5,1304.1 1448.0,1305.2 1448.5,1304.3 1449.0,1305.0 1449.5,1304.4 1450.0,1304.3 1450.5,1305.0 1451.0,1304.9 1451.5,1305.4 1452.0,1305.3 1452.5,1304.2 1453.0,1304.9 1453.5,1304.6 1454.0,1304.0 1454.5,1303.8 1455.0,1304.7 1455.5,1304.2 1456.0,1303.8 1456.5,1304.5 1457.0,1304.8 1457.5,1304.6 1458.0,1303.9 1458.5,1304.4 1459.0,1305.5 1459.5,1304.1 1460.0,1304.4 1460.5,1305.9 1461.0,1304.9 1461.5,1304.3 1462.0,1303.5 1462.5,1304.8 1463.0,1303.8 1463.5,1304.5 1464.0,1304.0 1464.5,1303.4 1465.0,1305.5 1465.5,1304.5 1466.0,1305.3 1466.5,1305.1 1467.0,1304.1 1467.5,1304.6 1468.0,1304.4 1468.5,1305.1 1469.0,1304.9 1469.5,1304.3 1470.0,1305.2 1470.5,1304.6 1471.0,1304.6 1471.5,1304.0 1472.0,1304.8 1472.5,1303.7 1473.0,1304.8 1473.5,1304.2 1474.0,1304.9 1474.5,1304.9 1475.0,1305.0 1475.5,1305.2 1476.0,1305.0 1476.5,1305.0 1477.0,1304.2 1477.5,1304.0 1478.0,1305.6 1478.5,1305.1 1479.0,1303.8 1479.5,1305.7 1480.0,1304.1 1480.5,1304.8 1481.0,1304.8 1481.5,1304.7 1482.0,1305.1 1482.5,1304.2 1483.0,1305.1 1483.5,1305.1 1484.0,1305.2 1484.5,1305.0 1485.0,1304.8 1485.5,1304.8 1486.0,1305.6 1486.5,1304.4 1487.0,1305.0 1487.5,1305.0 1488.0,1304.7 1488.5,1305.0 1489.0,1305.2 1489.5,1304.4 1490.0,1304.9 1490.5,1305.7 1491.0,1303.9 1491.5,1304.3 1492.0,1304.1 1492.5,1305.6 1493.0,1303.7 1493.5,1304.4 1494.0,1305.0 1494.5,1303.9 1495.0,1304.4 1495.5,1304.2 1496.0,1304.0 1496.5,1304.4 1497.0,1304.8 1497.5,1304.4 1498.0,1304.6 1498.5,1305.0 1499.0,1305.4 1499.5,1304.0 1500.0,1305.0 1500.5,1304.2 1501.0,1303.6 1501.5,1304.1 1502.0,1304.8 1502.5,1304.8 1503.0,1303.9 1503.5,1305.5 1504.0,1304.9 1504.5,1304.7 1505.0,1304.5 1505.5,1305.1 1506.0,1304.7 1506.5,1305.5 1507.0,1305.1 1507.5,1305.4 1508.0,1304.7 1508.5,1303.9 1509.0,1305.1 1509.5,1304.3 1510.0,1304.8 1510.5,1305.1 1511.0,1304.7 1511.5,1305.6 1512.0,1304.1 1512.5,1305.8 1513.0,1304.8 1513.5,1305.6 1514.0,1305.8 1514.5,1304.5 1515.0,1304.4 1515.5,1305.5 1516.0,1304.9 1516.5,1304.9 1517.0,1303.8 1517.5,1303.8 1518.0,1304.8 1518.5,1305.3 1519.0,1304.1 1519.5,1304.2 1520.0,1304.7 1520.5,1305.0 1521.0,1305.1 1521.5,1304.5 1522.0,1303.7 1522.5,1305.6 1523.0,1304.6 1523.5,1305.6 1524.0,1303.7 1524.5,1304.9 1525.0,1304.5 1525.5,1304.1 1526.0,1305.3 1526.5,1305.5 1527.0,1304.5 1527.5,1305.1 1528.0,1304.2 1528.5,1304.4 1529.0,1304.7 1529.5,1304.4 1530.0,1305.1 1530.5,1304.1 1531.0,1305.3 1531.5,1305.1 1532.0,1304.4 1532.5,1303.7 1533.0,1303.1 1533.5,1304.5 1534.0,1304.3 1534.5,1304.6 1535.0,1304.0 1535.5,1304.8 1536.0,1304.9 1536.5,1305.1 1537.0,1305.4 1537.5,1305.4 1538.0,1305.7 1538.5,1304.8 1539.0,1305.6 1539.5,1305.3 1540.0,1305.0 1540.5,1304.6 1541.0,1305.9 1541.5,1305.1 1542.0,1304.7 1542.5,1304.9 1543.0,1304.6 1543.5,1304.3 1544.0,1303.8 1544.5,1304.6 1545.0,1304.4 1545.5,1304.4 1546.0,1305.1 1546.5,1303.7 1547.0,1304.2 1547.5,1305.0 1548.0,1305.3 1548.5,1305.3 1549.0,1305.4 1549.5,1303.8 1550.0,1305.2 1550.5,1305.3 1551.0,1305.5 1551.5,1304.6 1552.0,1305.3 1552.5,1305.7 1553.0,1306.1 1553.5,1305.2 1554.0,1304.2 1554.5,1305.1 1555.0,1305.3 1555.5,1305.2 1556.0,1305.9 1556.5,1304.8 1557.0,1304.3 1557.5,1304.5 1558.0,1305.3 1558.5,1304.6 1559.0,1304.2 1559.5,1304.5 1560.0,1305.8 1560.5,1305.2 1561.0,1304.7 1561.5,1305.4 1562.0,1305.1 1562.5,1304.1 1563.0,1305.2 1563.5,1305.1 1564.0,1303.8 1564.5,1304.3 1565.0,1304.9 1565.5,1305.2 1566.0,1304.7 1566.5,1304.5 1567.0,1305.3 1567.5,1304.2 1568.0,1305.5 1568.5,1304.9 1569.0,1305.1 1569.5,1304.8 1570.0,1305.6 1570.5,1303.8 1571.0,1304.5 1571.5,1305.2 1572.0,1304.4 1572.5,1305.5 1573.0,1304.9 1573.5,1304.2 1574.0,1305.2 1574.5,1304.5 1575.0,1305.0 1575.5,1304.4 1576.0,1304.5 1576.5,1305.3 1577.0,1305.1 1577.5,1304.7 1578.0,1304.5 1578.5,1305.4 1579.0,1306.1 1579.5,1304.5 1580.0,1305.4 1580.5,1303.3 1581.0,1304.1 1581.5,1305.2 1582.0,1305.6 1582.5,1304.7 1583.0,1305.1 1583.5,1304.9 1584.0,1305.2 1584.5,1304.1 1585.0,1305.0 1585.5,1304.3 1586.0,1304.3 1586.5,1304.6 1587.0,1304.6 1587.5,1304.2 1588.0,1304.5 1588.5,1304.2 1589.0,1305.4 1589.5,1305.0 1590.0,1304.5 1590.5,1305.8 1591.0,1305.4 1591.5,1304.8 1592.0,1304.4 1592.5,1304.8 1593.0,1305.2 1593.5,1305.7 1594.0,1304.9 1594.5,1304.8 1595.0,1306.2 1595.5,1305.8 1596.0,1305.3 1596.5,1304.6 1597.0,1305.4 1597.5,1305.5 1598.0,1305.3 1598.5,1305.2 1599.0,1304.7 1599.5,1305.3 1600.0,1304.5 1600.5,1304.5 1601.0,1304.4 1601.5,1304.3 1602.0,1305.9 1602.5,1303.6 1603.0,1304.6 1603.5,1303.9 1604.0,1303.7 1604.5,1304.5 1605.0,1303.6 1605.5,1304.5 1606.0,1305.8 1606.5,1304.4 1607.0,1304.9 1607.5,1304.2 1608.0,1305.0 1608.5,1303.9 1609.0,1304.8 1609.5,1304.7 1610.0,1306.0 1610.5,1304.7 1611.0,1304.4 1611.5,1304.4 1612.0,1304.1 1612.5,1305.2 1613.0,1305.5 1613.5,1304.6 1614.0,1305.2 1614.5,1304.5 1615.0,1304.9 1615.5,1304.9 1616.0,1303.9 1616.5,1304.2 1617.0,1305.1 1617.5,1303.6 1618.0,1304.6 1618.5,1304.4 1619.0,1304.1 1619.5,1304.6 1620.0,1304.8 1620.5,1304.8 1621.0,1303.0 1621.5,1305.5 1622.0,1304.4 1622.5,1305.3 1623.0,1304.6 1623.5,1304.2 1624.0,1304.6 1624.5,1306.4 1625.0,1305.5 1625.5,1304.6 1626.0,1304.8 1626.5,1305.3 1627.0,1305.1 1627.5,1304.7 1628.0,1304.8 1628.5,1304.3 1629.0,1305.3 1629.5,1305.4 1630.0,1305.9 1630.5,1304.4 1631.0,1304.9 1631.5,1304.5 1632.0,1305.1 1632.5,1304.3 1633.0,1303.9 1633.5,1303.3 1634.0,1304.7 1634.5,1304.4 1635.0,1305.0 1635.5,1304.2 1636.0,1305.7 1636.5,1304.0 1637.0,1304.7 1637.5,1304.6 1638.0,1305.0 1638.5,1304.2 1639.0,1303.8 1639.5,1303.8 1640.0,1304.6 1640.5,1304.2 1641.0,1304.2 1641.5,1303.6 1642.0,1304.1 1642.5,1304.0 1643.0,1304.1 1643.5,1302.7 1644.0,1302.9 1644.5,1303.8 1645.0,1302.6 1645.5,1302.5 1646.0,1302.1 1646.5,1301.2 1647.0,1301.0 1647.5,1301.5 1648.0,1300.8 1648.5,1301.6 1649.0,1299.9 1649.5,1299.6 1650.0,1300.2 1650.5,1299.8 1651.0,1300.9 1651.5,1300.4 1652.0,1300.7 1652.5,1300.0 1653.0,1300.9 1653.5,1300.9 1654.0,1300.9 1654.5,1300.3 1655.0,1299.9 1655.5,1299.3 1656.0,1298.9 1656.5,1297.4 1657.0,1296.5 1657.5,1294.3 1658.0,1291.8 1658.5,1287.2 1659.0,1280.7 1659.5,1271.9 1660.0,1260.8 1660.5,1247.0 1661.0,1233.1 1661.5,1221.7 1662.0,1216.4 1662.5,1219.5 1663.0,1228.5 1663.5,1239.4 1664.0,1248.2 1664.5,1254.1 1665.0,1256.3 1665.5,1255.8 1666.0,1254.3 1666.5,1254.0 1667.0,1257.5 1667.5,1263.9 1668.0,1271.1 1668.5,1278.8 1669.0,1285.2 1669.5,1290.1 1670.0,1293.8 1670.5,1295.6 1671.0,1298.7 1671.5,1299.4 1672.0,1300.3 1672.5,1301.5 1673.0,1300.5 1673.5,1301.8 1674.0,1302.4 1674.5,1302.6 1675.0,1302.9 1675.5,1303.7 1676.0,1303.1 1676.5,1303.5 1677.0,1303.6 1677.5,1302.7 1678.0,1303.3 1678.5,1304.7 1679.0,1303.8 1679.5,1303.9 1680.0,1303.2 1680.5,1303.8 1681.0,1303.5 1681.5,1303.8 1682.0,1304.3 1682.5,1303.5 1683.0,1303.8 1683.5,1304.9 1684.0,1304.6 1684.5,1304.7 1685.0,1305.0 1685.5,1304.1 1686.0,1304.3 1686.5,1303.4 1687.0,1304.9 1687.5,1304.5 1688.0,1304.7 1688.5,1304.2 1689.0,1305.0 1689.5,1305.0 1690.0,1304.8 1690.5,1303.8 1691.0,1304.3 1691.5,1304.8 1692.0,1304.4 1692.5,1304.9 1693.0,1305.2 1693.5,1304.4 1694.0,1304.7 1694.5,1304.3 1695.0,1305.3 1695.5,1305.1 1696.0,1306.1 1696.5,1304.5 1697.0,1304.1 1697.5,1304.9 1698.0,1304.7 1698.5,1305.0 1699.0,1305.6 1699.5,1304.8 1700.0,1305.4 1700.5,1303.9 1701.0,1305.8 1701.5,1305.2 1702.0,1305.1 1702.5,1304.8 1703.0,1306.0 1703.5,1304.7 1704.0,1305.6 1704.5,1304.6 1705.0,1304.9 1705.5,1305.0 1706.0,1305.9 1706.5,1304.9 1707.0,1304.8 1707.5,1304.5 1708.0,1304.7 1708.5,1304.5 1709.0,1305.8 1709.5,1305.7 1710.0,1304.5 1710.5,1305.0 1711.0,1304.1 1711.5,1305.4 1712.0,1305.4 1712.5,1305.1 1713.0,1304.7 1713.5,1305.5 1714.0,1305.4 1714.5,1304.9 1715.0,1305.4 1715.5,1304.3 1716.0,1304.7 1716.5,1304.7 1717.0,1305.2 1717.5,1306.0 1718.0,1305.2 1718.5,1305.8 1719.0,1305.1 1719.5,1304.9 1720.0,1305.7 1720.5,1305.5 1721.0,1305.8 1721.5,1305.5 1722.0,1304.5 1722.5,1303.4 1723.0,1305.0 1723.5,1304.2 1724.0,1304.2 1724.5,1304.3 1725.0,1304.7 1725.5,1304.9 1726.0,1305.2 1726.5,1306.3 1727.0,1304.5 1727.5,1305.2 1728.0,1304.5 1728.5,1304.5 1729.0,1304.9 1729.5,1305.1 1730.0,1304.1 1730.5,1305.4 1731.0,1304.2 1731.5,1305.2 1732.0,1304.7 1732.5,1305.3 1733.0,1305.2 1733.5,1304.8 1734.0,1305.2 1734.5,1304.3 1735.0,1304.5 1735.5,1305.1 1736.0,1306.2 1736.5,1304.8 1737.0,1304.9 1737.5,1306.3 1738.0,1305.4 1738.5,1305.3 1739.0,1304.6 1739.5,1305.1 1740.0,1305.4 1740.5,1305.0 1741.0,1305.6 1741.5,1305.3 1742.0,1305.5 1742.5,1305.5 1743.0,1305.0 1743.5,1305.6 1744.0,1306.1 1744.5,1305.2 1745.0,1304.3 1745.5,1305.1 1746.0,1305.1 1746.5,1306.6 1747.0,1305.5 1747.5,1304.5 1748.0,1305.0 1748.5,1305.9 1749.0,1304.6 1749.5,1304.9 1750.0,1305.1 1750.5,1304.8 1751.0,1304.6 1751.5,1304.9 1752.0,1304.0 1752.5,1304.5 1753.0,1304.5 1753.5,1304.6 1754.0,1304.7 1754.5,1305.0 1755.0,1304.7 1755.5,1304.7 1756.0,1305.4 1756.5,1305.6 1757.0,1305.7 1757.5,1304.6 1758.0,1305.5 1758.5,1305.5 1759.0,1305.0 1759.5,1305.7 1760.0,1305.2 1760.5,1305.6 1761.0,1304.6 1761.5,1305.5 1762.0,1305.1 1762.5,1304.9 1763.0,1305.2 1763.5,1305.7 1764.0,1305.6 1764.5,1305.3 1765.0,1305.4 1765.5,1304.6 1766.0,1304.3 1766.5,1303.9 1767.0,1304.9 1767.5,1304.9 1768.0,1305.3 1768.5,1305.2 1769.0,1305.9 1769.5,1304.8 1770.0,1305.1 1770.5,1306.4 1771.0,1305.8 1771.5,1305.2 1772.0,1304.2 1772.5,1304.9 1773.0,1305.2 1773.5,1305.3 1774.0,1305.5 1774.5,1305.1 1775.0,1305.7 1775.5,1304.5 1776.0,1305.1 1776.5,1304.9 1777.0,1305.6 1777.5,1305.2 1778.0,1305.6 1778.5,1305.2 1779.0,1307.3 1779.5,1305.7 1780.0,1304.7 1780.5,1304.9 1781.0,1304.6 1781.5,1305.2 1782.0,1305.5 1782.5,1305.1 1783.0,1304.7 1783.5,1304.6 1784.0,1305.9 1784.5,1305.7 1785.0,1303.7 1785.5,1305.5 1786.0,1305.1 1786.5,1305.2 1787.0,1306.3 1787.5,1304.8 1788.0,1304.7 1788.5,1306.7 1789.0,1305.1 1789.5,1305.3 1790.0,1306.0 1790.5,1305.0 1791.0,1305.1 1791.5,1305.3 1792.0,1305.9 1792.5,1304.4 1793.0,1304.8 1793.5,1305.2 1794.0,1305.8 1794.5,1304.9 1795.0,1305.4 1795.5,1305.1 1796.0,1305.2 1796.5,1306.2 1797.0,1305.2 1797.5,1307.0 1798.0,1305.4 1798.5,1305.8 1799.0,1305.5 1799.5,1304.3 1800.0,1304.3 1800.5,1305.3 1801.0,1304.4 1801.5,1304.6 1802.0,1304.7 1802.5,1304.5 1803.0,1305.7 1803.5,1305.5 1804.0,1305.1 1804.5,1305.4 1805.0,1304.5 1805.5,1305.4 1806.0,1304.6 1806.5,1306.0 1807.0,1304.7 1807.5,1304.9 1808.0,1306.0 1808.5,1305.6 1809.0,1304.6 1809.5,1305.8 1810.0,1305.6 1810.5,1305.8 1811.0,1306.0 1811.5,1306.1 1812.0,1306.1 1812.5,1305.7 1813.0,1305.8 1813.5,1305.6 1814.0,1306.4 1814.5,1305.0 1815.0,1306.4 1815.5,1306.6 1816.0,1306.6 1816.5,1305.2 1817.0,1306.4 1817.5,1306.0 1818.0,1305.9 1818.5,1307.0 1819.0,1305.4 1819.5,1305.7 1820.0,1304.6 1820.5,1304.0 1821.0,1305.6 1821.5,1305.7 1822.0,1305.7 1822.5,1305.6 1823.0,1304.3 1823.5,1305.6 1824.0,1305.9 1824.5,1306.2 1825.0,1304.9 1825.5,1304.9 1826.0,1305.1 1826.5,1305.1 1827.0,1304.6 1827.5,1305.2 1828.0,1306.5 1828.5,1305.0 1829.0,1304.6 1829.5,1305.5 1830.0,1305.6 1830.5,1306.1 1831.0,1305.4 1831.5,1305.4 1832.0,1304.9 1832.5,1305.0 1833.0,1305.8 1833.5,1305.8 1834.0,1305.5 1834.5,1305.6 1835.0,1304.9 1835.5,1305.4 1836.0,1305.7 1836.5,1306.3 1837.0,1304.5 1837.5,1305.3 1838.0,1305.7 1838.5,1305.1 1839.0,1305.4 1839.5,1305.8 1840.0,1305.5 1840.5,1304.4 1841.0,1304.6 1841.5,1303.6 1842.0,1305.5 1842.5,1305.2 1843.0,1306.0 1843.5,1305.4 1844.0,1304.7 1844.5,1306.1 1845.0,1304.7 1845.5,1305.4 1846.0,1305.3 1846.5,1305.8 1847.0,1306.0 1847.5,1305.2 1848.0,1305.0 1848.5,1305.4 1849.0,1305.0 1849.5,1306.0 1850.0,1305.7 1850.5,1306.4 1851.0,1307.2 1851.5,1305.1 1852.0,1305.1 1852.5,1305.6 1853.0,1305.6 1853.5,1305.1 1854.0,1304.3 1854.5,1306.6 1855.0,1305.0 1855.5,1304.4 1856.0,1303.7 1856.5,1306.1 1857.0,1305.6 1857.5,1305.3 1858.0,1304.8 1858.5,1305.1 1859.0,1304.9 1859.5,1303.9 1860.0,1306.8 1860.5,1305.5 1861.0,1305.0 1861.5,1304.5 1862.0,1304.8 1862.5,1306.5 1863.0,1305.4 1863.5,1304.6 1864.0,1305.8 1864.5,1305.6 1865.0,1305.5 1865.5,1305.1 1866.0,1305.2 1866.5,1305.5 1867.0,1305.5 1867.5,1304.9 1868.0,1305.1 1868.5,1305.6 1869.0,1304.6 1869.5,1305.6 1870.0,1305.5 1870.5,1306.0 1871.0,1305.6 1871.5,1305.1 1872.0,1305.3 1872.5,1305.6 1873.0,1305.9 1873.5,1304.8 1874.0,1304.5 1874.5,1304.9 1875.0,1304.1 1875.5,1304.8 1876.0,1305.8 1876.5,1305.7 1877.0,1306.0 1877.5,1305.2 1878.0,1305.1 1878.5,1304.7 1879.0,1304.9 1879.5,1305.4 1880.0,1306.0 1880.5,1305.7 1881.0,1304.2 1881.5,1305.7 1882.0,1305.4 1882.5,1305.2 1883.0,1305.6 1883.5,1306.0 1884.0,1305.4 1884.5,1304.7 1885.0,1307.0 1885.5,1304.9 1886.0,1305.5 1886.5,1306.1 1887.0,1304.8 1887.5,1305.5 1888.0,1304.8 1888.5,1305.2 1889.0,1304.9 1889.5,1306.3 1890.0,1304.7 1890.5,1305.7 1891.0,1305.4 1891.5,1304.3 1892.0,1306.6 1892.5,1305.1 1893.0,1305.4 1893.5,1305.7 1894.0,1305.1 1894.5,1305.1 1895.0,1305.6 1895.5,1305.1 1896.0,1305.7 1896.5,1306.2 1897.0,1305.0 1897.5,1304.5 1898.0,1305.4 1898.5,1305.5 1899.0,1305.8 1899.5,1304.8 1900.0,1304.0 1900.5,1305.7 1901.0,1305.6 1901.5,1306.0 1902.0,1304.7 1902.5,1305.4 1903.0,1305.9 1903.5,1304.2 1904.0,1305.7 1904.5,1305.9 1905.0,1305.5 1905.5,1305.4 1906.0,1305.5 1906.5,1304.8 1907.0,1304.2 1907.5,1304.4 1908.0,1305.0 1908.5,1304.6 1909.0,1305.7 1909.5,1304.8 1910.0,1305.0 1910.5,1304.2 1911.0,1305.4 1911.5,1304.9 1912.0,1306.2 1912.5,1304.3 1913.0,1305.5 1913.5,1305.1 1914.0,1305.2 1914.5,1306.3 1915.0,1306.1 1915.5,1305.2 1916.0,1306.4 1916.5,1305.3 1917.0,1306.1 1917.5,1304.7 1918.0,1305.5 1918.5,1305.6 1919.0,1305.6 1919.5,1304.9 1920.0,1304.8 1920.5,1305.8 1921.0,1305.9 1921.5,1305.7 1922.0,1305.3 1922.5,1304.6 1923.0,1305.3 1923.5,1305.3 1924.0,1305.0 1924.5,1305.4 1925.0,1305.5 1925.5,1305.7 1926.0,1305.2 1926.5,1304.8 1927.0,1305.2 1927.5,1305.1 1928.0,1304.2 1928.5,1305.0 1929.0,1304.2 1929.5,1304.0 1930.0,1304.5 1930.5,1304.6 1931.0,1305.6 1931.5,1305.0 1932.0,1305.4 1932.5,1305.8 1933.0,1305.0 1933.5,1305.3 1934.0,1304.7 1934.5,1305.6 1935.0,1305.3 1935.5,1305.4 1936.0,1304.6 1936.5,1304.8 1937.0,1305.2 1937.5,1305.6 1938.0,1306.1 1938.5,1304.7 1939.0,1305.4 1939.5,1305.3 1940.0,1306.7 1940.5,1305.4 1941.0,1305.2 1941.5,1305.8 1942.0,1304.8 1942.5,1305.7 1943.0,1304.5 1943.5,1306.4 1944.0,1305.3 1944.5,1305.0 1945.0,1304.5 1945.5,1305.2 1946.0,1305.4 1946.5,1305.1 1947.0,1306.3 1947.5,1305.4 1948.0,1305.6 1948.5,1305.6 1949.0,1306.3 1949.5,1305.3 1950.0,1305.6 1950.5,1305.6 1951.0,1305.7 1951.5,1304.3 1952.0,1305.9 1952.5,1305.2 1953.0,1304.8 1953.5,1305.2 1954.0,1304.0 1954.5,1304.5 1955.0,1305.1 1955.5,1305.6 1956.0,1304.8 1956.5,1304.9 1957.0,1304.6 1957.5,1305.4 1958.0,1304.6 1958.5,1305.2 1959.0,1305.0 1959.5,1304.6 1960.0,1304.7 1960.5,1305.0 1961.0,1306.2 1961.5,1307.3 1962.0,1305.5 1962.5,1305.3 1963.0,1305.8 1963.5,1305.6 1964.0,1305.0 1964.5,1306.3 1965.0,1305.6 1965.5,1305.6 1966.0,1305.1 1966.5,1305.0 1967.0,1305.4 1967.5,1304.2 1968.0,1304.4 1968.5,1304.9 1969.0,1304.2 1969.5,1305.8 1970.0,1304.5 1970.5,1304.5 1971.0,1304.9 1971.5,1305.5 1972.0,1304.6 1972.5,1304.3 1973.0,1304.3 1973.5,1304.7 1974.0,1304.5 1974.5,1306.1 1975.0,1305.4 1975.5,1303.2 1976.0,1304.4 1976.5,1305.1 1977.0,1306.3 1977.5,1303.9 1978.0,1304.9 1978.5,1305.5 1979.0,1304.5 1979.5,1304.9 1980.0,1304.6 1980.5,1305.2 1981.0,1304.3 1981.5,1304.8 1982.0,1303.7 1982.5,1305.0 1983.0,1304.8 1983.5,1304.5 1984.0,1304.5 1984.5,1304.3 1985.0,1304.0 1985.5,1304.0 1986.0,1303.9 1986.5,1303.7 1987.0,1303.3 1987.5,1303.1 1988.0,1302.9 1988.5,1303.2 1989.0,1302.8 1989.5,1303.5 1990.0,1302.4 1990.5,1302.1 1991.0,1301.5 1991.5,1301.4 1992.0,1300.7 1992.5,1299.7 1993.0,1299.1 1993.5,1298.1 1994.0,1295.2 1994.5,1292.1 1995.0,1287.8 1995.5,1281.8 1996.0,1274.2 1996.5,1264.7 1997.0,1254.5 1997.5,1244.7 1998.0,1237.6 1998.5,1235.5 1999.0,1238.8 1999.5,1246.3 2000.0,1255.1 2000.5,1263.0 2001.0,1269.2 2001.5,1273.2 2002.0,1274.2 2002.5,1273.6 2003.0,1270.6 2003.5,1268.3 2004.0,1266.6 2004.5,1267.6 2005.0,1271.1 2005.5,1276.1 2006.0,1281.2 2006.5,1286.5 2007.0,1290.3 2007.5,1294.0 2008.0,1296.5 2008.5,1297.8 2009.0,1300.2 2009.5,1300.6 2010.0,1301.7 2010.5,1301.8 2011.0,1302.5 2011.5,1303.1 2012.0,1303.1 2012.5,1303.1 2013.0,1303.8 2013.5,1303.7 2014.0,1303.5 2014.5,1304.0 2015.0,1304.0 2015.5,1304.0 2016.0,1304.7 2016.5,1305.3 2017.0,1304.3 2017.5,1304.4 2018.0,1303.9 2018.5,1303.6 2019.0,1305.0 2019.5,1304.2 2020.0,1304.8 2020.5,1304.0 2021.0,1304.3 2021.5,1304.8 2022.0,1305.0 2022.5,1304.9 2023.0,1305.1 2023.5,1304.9 2024.0,1305.3 2024.5,1305.7 2025.0,1305.0 2025.5,1304.7 2026.0,1304.3 2026.5,1304.7 2027.0,1304.8 2027.5,1305.7 2028.0,1304.3 2028.5,1304.8 2029.0,1304.6 2029.5,1305.7 2030.0,1305.0 2030.5,1304.5 2031.0,1304.1 2031.5,1305.5 2032.0,1304.5 2032.5,1305.9 2033.0,1305.7 2033.5,1304.7 2034.0,1305.1 2034.5,1305.2 2035.0,1304.4 2035.5,1304.7 2036.0,1305.0 2036.5,1305.4 2037.0,1305.4 2037.5,1304.3 2038.0,1305.3 2038.5,1305.1 2039.0,1305.0 2039.5,1305.0 2040.0,1305.7 2040.5,1305.8 2041.0,1304.6 2041.5,1305.0 2042.0,1304.2 2042.5,1305.0 2043.0,1305.7 2043.5,1305.2 2044.0,1305.4 2044.5,1305.2 2045.0,1305.4 2045.5,1305.6 2046.0,1305.7 2046.5,1304.4 2047.0,1305.0 2047.5,1303.5 2048.0,1305.3 2048.5,1305.0 2049.0,1304.9 2049.5,1306.1 2050.0,1305.4 2050.5,1305.8 2051.0,1305.6 2051.5,1306.2 2052.0,1305.0 2052.5,1304.8 2053.0,1304.9 2053.5,1306.2 2054.0,1304.8 2054.5,1305.2 2055.0,1306.0 2055.5,1305.7 2056.0,1305.1 2056.5,1306.4 2057.0,1305.8 2057.5,1306.4 2058.0,1305.8 2058.5,1305.8 2059.0,1304.9 2059.5,1305.9 2060.0,1304.9 2060.5,1305.2 2061.0,1305.8 2061.5,1304.9 2062.0,1305.3 2062.5,1305.3 2063.0,1305.3"/>
<polyline fill="none" stroke="#ff0000" stroke-width="3.4" stroke-linejoin="round" shape-rendering="crispEdges" stroke-linecap="butt" points="137.0,839.6 137.5,839.1 138.0,839.1 138.5,837.4 139.0,840.9 139.5,840.4 140.0,839.1 140.5,840.3 141.0,839.9 141.5,839.3 142.0,840.5 142.5,839.5 143.0,839.7 143.5,839.2 144.0,840.5 144.5,840.3 145.0,840.5 145.5,839.5 146.0,840.1 146.5,839.4 147.0,841.0 147.5,840.3 148.0,840.5 148.5,840.5 149.0,839.4 149.5,841.1 150.0,842.2 150.5,839.4 151.0,839.1 151.5,839.2 152.0,841.2 152.5,840.7 153.0,841.4 153.5,841.1 154.0,840.5 154.5,840.6 155.0,840.5 155.5,841.4 156.0,839.7 156.5,840.2 157.0,840.6 157.5,842.0 158.0,839.9 158.5,840.0 159.0,840.4 159.5,841.2 160.0,840.2 160.5,841.5 161.0,838.9 161.5,841.4 162.0,841.1 162.5,839.7 163.0,840.8 163.5,841.6 164.0,840.9 164.5,842.1 165.0,843.2 165.5,841.7 166.0,841.4 166.5,841.0 167.0,841.9 167.5,841.1 168.0,841.3 168.5,841.5 169.0,841.9 169.5,840.6 170.0,840.1 170.5,839.5 171.0,842.5 171.5,841.6 172.0,842.9 172.5,841.5 173.0,840.7 173.5,841.6 174.0,841.0 174.5,840.1 175.0,840.2 175.5,841.9 176.0,840.7 176.5,840.5 177.0,839.7 177.5,839.4 178.0,840.4 178.5,839.6 179.0,839.1 179.5,839.3 180.0,838.8 180.5,839.5 181.0,840.1 181.5,838.7 182.0,840.5 182.5,838.8 183.0,839.3 183.5,838.4 184.0,839.1 184.5,839.2 185.0,839.0 185.5,838.7 186.0,838.6 186.5,838.5 187.0,837.9 187.5,838.9 188.0,839.3 188.5,839.6 189.0,839.3 189.5,840.8 190.0,839.1 190.5,838.4 191.0,840.2 191.5,837.6 192.0,839.4 192.5,838.0 193.0,839.0 193.5,837.3 194.0,839.5 194.5,838.8 195.0,838.1 195.5,840.2 196.0,839.7 196.5,839.0 197.0,838.5 197.5,839.0 198.0,838.8 198.5,839.5 199.0,839.4 199.5,838.2 200.0,838.5 200.5,838.3 201.0,837.5 201.5,837.8 202.0,838.3 202.5,839.1 203.0,839.4 203.5,837.7 204.0,838.9 204.5,837.9 205.0,840.1 205.5,838.6 206.0,839.1 206.5,837.8 207.0,838.0 207.5,839.1 208.0,838.6 208.5,839.0 209.0,837.4 209.5,839.0 210.0,837.8 210.5,839.9 211.0,838.1 211.5,839.1 212.0,837.1 212.5,838.7 213.0,837.6 213.5,838.1 214.0,838.4 214.5,838.3 215.0,838.7 215.5,839.5 216.0,839.4 216.5,838.7 217.0,837.5 217.5,837.9 218.0,838.4 218.5,836.8 219.0,839.1 219.5,838.3 220.0,838.0 220.5,838.8 221.0,838.4 221.5,838.0 222.0,837.1 222.5,838.0 223.0,838.0 223.5,836.9 224.0,838.6 224.5,838.1 225.0,836.1 225.5,837.6 226.0,836.2 226.5,838.2 227.0,837.8 227.5,836.3 228.0,836.4 228.5,836.7 229.0,836.3 229.5,837.4 230.0,836.8 230.5,835.9 231.0,836.5 231.5,833.9 232.0,835.5 232.5,835.7 233.0,834.7 233.5,834.1 234.0,835.3 234.5,836.3 235.0,834.7 235.5,833.4 236.0,835.4 236.5,832.3 237.0,834.4 237.5,833.5 238.0,834.8 238.5,832.9 239.0,834.7 239.5,833.6 240.0,831.8 240.5,831.8 241.0,833.4 241.5,834.8 242.0,833.4 242.5,833.3 243.0,833.2 243.5,834.1 244.0,833.7 244.5,833.5 245.0,832.3 245.5,834.3 246.0,834.6 246.5,832.2 247.0,835.5 247.5,834.4 248.0,833.2 248.5,832.1 249.0,834.6 249.5,834.5 250.0,833.4 250.5,832.5 251.0,835.5 251.5,833.9 252.0,833.9 252.5,837.0 253.0,836.3 253.5,835.4 254.0,834.3 254.5,835.4 255.0,832.7 255.5,834.8 256.0,834.4 256.5,834.0 257.0,834.1 257.5,836.2 258.0,835.7 258.5,835.9 259.0,836.6 259.5,835.3 260.0,834.6 260.5,834.1 261.0,835.5 261.5,836.3 262.0,835.4 262.5,836.4 263.0,834.8 263.5,835.7 264.0,835.5 264.5,835.3 265.0,837.7 265.5,836.6 266.0,835.2 266.5,835.2 267.0,835.5 267.5,834.3 268.0,835.6 268.5,834.2 269.0,834.9 269.5,834.6 270.0,835.0 270.5,834.3 271.0,834.2 271.5,834.6 272.0,834.7 272.5,835.0 273.0,835.1 273.5,836.4 274.0,835.9 274.5,834.9 275.0,835.8 275.5,834.4 276.0,836.4 276.5,835.6 277.0,833.9 277.5,835.6 278.0,835.8 278.5,832.8 279.0,834.6 279.5,834.9 280.0,833.6 280.5,834.5 281.0,834.6 281.5,835.9 282.0,835.9 282.5,837.7 283.0,835.0 283.5,836.3 284.0,835.2 284.5,835.4 285.0,834.1 285.5,833.6 286.0,834.7 286.5,836.1 287.0,836.8 287.5,835.7 288.0,835.4 288.5,834.2 289.0,836.2 289.5,835.9 290.0,834.5 290.5,834.7 291.0,833.6 291.5,835.8 292.0,834.9 292.5,834.5 293.0,835.1 293.5,835.3 294.0,834.5 294.5,833.6 295.0,833.7 295.5,833.4 296.0,835.4 296.5,837.0 297.0,833.6 297.5,835.1 298.0,835.2 298.5,833.9 299.0,834.9 299.5,833.6 300.0,835.5 300.5,834.0 301.0,834.4 301.5,834.8 302.0,833.9 302.5,832.7 303.0,834.0 303.5,835.3 304.0,834.3 304.5,834.7 305.0,833.3 305.5,834.3 306.0,835.0 306.5,834.3 307.0,835.9 307.5,833.9 308.0,833.0 308.5,832.7 309.0,835.0 309.5,834.1 310.0,835.0 310.5,834.3 311.0,835.5 311.5,835.1 312.0,833.6 312.5,834.1 313.0,834.6 313.5,832.7 314.0,835.0 314.5,834.9 315.0,834.8 315.5,833.5 316.0,834.1 316.5,832.7 317.0,833.9 317.5,833.4 318.0,833.9 318.5,833.4 319.0,833.8 319.5,834.6 320.0,832.2 320.5,834.1 321.0,831.3 321.5,831.0 322.0,832.8 322.5,832.7 323.0,832.8 323.5,831.0 324.0,832.5 324.5,832.6 325.0,833.5 325.5,832.1 326.0,832.7 326.5,831.3 327.0,832.0 327.5,831.8 328.0,832.9 328.5,831.2 329.0,831.4 329.5,832.9 330.0,834.1 330.5,832.7 331.0,832.4 331.5,832.0 332.0,833.3 332.5,832.7 333.0,833.8 333.5,832.3 334.0,830.8 334.5,831.1 335.0,830.7 335.5,830.5 336.0,832.6 336.5,832.1 337.0,830.3 337.5,832.9 338.0,831.4 338.5,830.3 339.0,831.6 339.5,831.0 340.0,830.3 340.5,829.1 341.0,831.0 341.5,831.1 342.0,828.5 342.5,831.3 343.0,831.6 343.5,830.5 344.0,830.8 344.5,830.2 345.0,829.5 345.5,829.7 346.0,831.0 346.5,828.3 347.0,829.6 347.5,829.2 348.0,828.2 348.5,828.7 349.0,827.9 349.5,828.4 350.0,829.5 350.5,829.7 351.0,828.4 351.5,832.1 352.0,828.8 352.5,829.5 353.0,829.1 353.5,828.5 354.0,830.3 354.5,828.5 355.0,830.2 355.5,830.1 356.0,828.2 356.5,830.1 357.0,828.1 357.5,831.3 358.0,828.4 358.5,827.8 359.0,826.4 359.5,827.1 360.0,827.6 360.5,826.9 361.0,826.4 361.5,827.1 362.0,827.7 362.5,829.4 363.0,826.6 363.5,827.9 364.0,827.2 364.5,826.6 365.0,826.9 365.5,827.0 366.0,828.6 366.5,827.3 367.0,826.7 367.5,827.6 368.0,827.1 368.5,826.6 369.0,827.2 369.5,826.3 370.0,827.7 370.5,827.3 371.0,826.4 371.5,825.7 372.0,828.2 372.5,826.9 373.0,829.7 373.5,825.9 374.0,827.2 374.5,825.9 375.0,826.8 375.5,827.3 376.0,825.5 376.5,826.0 377.0,826.1 377.5,826.3 378.0,826.7 378.5,827.1 379.0,826.9 379.5,826.3 380.0,825.6 380.5,824.8 381.0,825.4 381.5,825.4 382.0,826.6 382.5,825.5 383.0,824.2 383.5,826.1 384.0,824.6 384.5,824.7 385.0,825.2 385.5,825.9 386.0,823.1 386.5,824.2 387.0,825.5 387.5,825.1 388.0,824.8 388.5,824.9 389.0,826.7 389.5,824.8 390.0,825.5 390.5,825.6 391.0,824.2 391.5,825.1 392.0,824.0 392.5,823.5 393.0,823.2 393.5,825.0 394.0,823.7 394.5,823.7 395.0,823.0 395.5,825.6 396.0,824.2 396.5,823.4 397.0,822.9 397.5,821.7 398.0,823.6 398.5,823.5 399.0,821.3 399.5,823.9 400.0,823.6 400.5,821.7 401.0,822.2 401.5,822.0 402.0,822.5 402.5,821.9 403.0,820.5 403.5,823.9 404.0,822.7 404.5,823.6 405.0,823.7 405.5,821.9 406.0,822.6 406.5,822.9 407.0,823.1 407.5,821.9 408.0,821.1 408.5,821.5 409.0,820.7 409.5,820.7 410.0,819.1 410.5,821.0 411.0,820.3 411.5,820.5 412.0,820.8 412.5,821.5 413.0,823.0 413.5,821.5 414.0,820.0 414.5,821.7 415.0,821.0 415.5,821.9 416.0,820.6 416.5,820.6 417.0,820.4 417.5,820.5 418.0,819.2 418.5,820.4 419.0,821.2 419.5,822.5 420.0,821.0 420.5,821.5 421.0,822.5 421.5,823.0 422.0,824.1 422.5,823.3 423.0,822.9 423.5,823.9 424.0,824.0 424.5,822.0 425.0,822.4 425.5,820.6 426.0,821.8 426.5,821.3 427.0,821.9 427.5,821.6 428.0,821.9 428.5,822.0 429.0,822.5 429.5,822.4 430.0,822.0 430.5,821.3 431.0,823.4 431.5,823.6 432.0,822.0 432.5,822.9 433.0,821.3 433.5,821.5 434.0,822.6 434.5,823.8 435.0,822.0 435.5,822.0 436.0,823.6 436.5,820.9 437.0,822.7 437.5,822.4 438.0,821.6 438.5,821.6 439.0,823.2 439.5,820.1 440.0,820.6 440.5,820.7 441.0,820.0 441.5,819.4 442.0,820.9 442.5,819.7 443.0,818.2 443.5,818.2 444.0,818.2 444.5,817.6 445.0,815.8 445.5,815.8 446.0,814.9 446.5,813.9 447.0,812.4 447.5,810.1 448.0,810.0 448.5,807.4 449.0,805.3 449.5,802.3 450.0,797.3 450.5,791.8 451.0,785.5 451.5,776.7 452.0,765.7 452.5,752.1 453.0,735.9 453.5,716.0 454.0,693.2 454.5,667.6 455.0,639.6 455.5,610.7 456.0,582.5 456.5,557.5 457.0,538.6 457.5,528.3 458.0,531.2 458.5,546.9 459.0,573.0 459.5,605.9 460.0,641.2 460.5,675.3 461.0,705.7 461.5,731.7 462.0,752.9 462.5,769.6 463.0,782.5 463.5,791.8 464.0,798.9 464.5,804.3 465.0,808.1 465.5,811.3 466.0,814.0 466.5,815.6 467.0,817.0 467.5,818.3 468.0,820.9 468.5,821.6 469.0,821.5 469.5,822.5 470.0,824.7 470.5,825.0 471.0,824.9 471.5,826.0 472.0,824.8 472.5,826.0 473.0,826.7 473.5,825.2 474.0,826.2 474.5,827.6 475.0,828.2 475.5,827.1 476.0,827.9 476.5,829.2 477.0,828.0 477.5,827.6 478.0,829.1 478.5,829.0 479.0,830.5 479.5,829.7 480.0,829.2 480.5,831.9 481.0,829.9 481.5,830.5 482.0,830.9 482.5,831.0 483.0,830.7 483.5,831.0 484.0,830.5 484.5,829.4 485.0,830.5 485.5,830.7 486.0,831.1 486.5,831.4 487.0,830.7 487.5,832.3 488.0,832.8 488.5,830.1 489.0,832.2 489.5,831.8 490.0,830.2 490.5,832.5 491.0,831.6 491.5,832.1 492.0,832.1 492.5,833.5 493.0,833.7 493.5,832.8 494.0,833.1 494.5,832.5 495.0,832.9 495.5,832.3 496.0,832.8 496.5,832.3 497.0,833.3 497.5,833.5 498.0,833.2 498.5,833.9 499.0,835.3 499.5,831.6 500.0,833.3 500.5,833.0 501.0,833.1 501.5,832.5 502.0,833.7 502.5,833.3 503.0,833.1 503.5,833.4 504.0,832.9 504.5,831.6 505.0,834.3 505.5,833.1 506.0,832.6 506.5,833.8 507.0,833.1 507.5,831.8 508.0,834.5 508.5,832.1 509.0,833.1 509.5,833.6 510.0,834.8 510.5,834.4 511.0,833.6 511.5,832.9 512.0,833.3 512.5,834.8 513.0,835.7 513.5,834.8 514.0,833.6 514.5,835.1 515.0,833.9 515.5,833.6 516.0,833.8 516.5,834.6 517.0,834.2 517.5,834.7 518.0,834.8 518.5,834.0 519.0,831.4 519.5,832.3 520.0,834.0 520.5,833.7 521.0,835.5 521.5,833.6 522.0,833.2 522.5,834.6 523.0,834.8 523.5,833.5 524.0,833.9 524.5,832.6 525.0,832.8 525.5,834.8 526.0,832.3 526.5,834.5 527.0,834.1 527.5,834.1 528.0,834.7 528.5,834.2 529.0,831.8 529.5,832.7 530.0,832.8 530.5,834.3 531.0,832.6 531.5,832.8 532.0,833.1 532.5,834.3 533.0,832.2 533.5,832.2 534.0,833.9 534.5,831.6 535.0,833.5 535.5,832.8 536.0,832.0 536.5,833.2 537.0,832.7 537.5,833.5 538.0,833.5 538.5,834.6 539.0,833.4 539.5,833.4 540.0,832.8 540.5,833.2 541.0,833.9 541.5,831.1 542.0,833.5 542.5,832.6 543.0,833.1 543.5,833.0 544.0,833.8 544.5,833.0 545.0,832.6 545.5,833.4 546.0,833.3 546.5,832.8 547.0,833.1 547.5,833.5 548.0,833.1 548.5,832.9 549.0,831.7 549.5,832.5 550.0,830.8 550.5,833.1 551.0,831.9 551.5,833.9 552.0,835.6 552.5,832.3 553.0,833.9 553.5,832.7 554.0,831.7 554.5,831.2 555.0,832.4 555.5,832.4 556.0,831.0 556.5,829.0 557.0,829.3 557.5,829.8 558.0,831.4 558.5,830.4 559.0,830.6 559.5,831.5 560.0,830.5 560.5,830.9 561.0,830.8 561.5,829.0 562.0,831.2 562.5,831.3 563.0,831.7 563.5,829.2 564.0,829.4 564.5,831.2 565.0,830.5 565.5,831.5 566.0,829.3 566.5,830.0 567.0,829.1 567.5,829.9 568.0,829.4 568.5,830.2 569.0,830.4 569.5,830.0 570.0,827.5 570.5,830.3 571.0,829.9 571.5,828.2 572.0,828.2 572.5,829.1 573.0,829.9 573.5,829.0 574.0,828.0 574.5,829.9 575.0,829.7 575.5,831.9 576.0,828.4 576.5,832.4 577.0,831.9 577.5,830.3 578.0,831.7 578.5,830.0 579.0,831.0 579.5,829.6 580.0,830.5 580.5,829.8 581.0,829.3 581.5,830.5 582.0,830.5 582.5,831.5 583.0,832.5 583.5,831.2 584.0,831.6 584.5,831.9 585.0,830.1 585.5,832.2 586.0,832.2 586.5,832.0 587.0,831.2 587.5,830.4 588.0,832.2 588.5,832.5 589.0,833.4 589.5,833.3 590.0,833.5 590.5,832.4 591.0,833.3 591.5,832.1 592.0,833.3 592.5,833.8 593.0,835.7 593.5,833.7 594.0,832.5 594.5,835.0 595.0,833.1 595.5,834.0 596.0,834.3 596.5,833.8 597.0,835.8 597.5,835.3 598.0,834.6 598.5,835.5 599.0,835.3 599.5,836.4 600.0,835.7 600.5,835.4 601.0,835.5 601.5,835.8 602.0,836.7 602.5,836.0 603.0,836.6 603.5,837.2 604.0,839.1 604.5,838.0 605.0,835.0 605.5,837.1 606.0,837.2 606.5,837.8 607.0,838.8 607.5,838.6 608.0,836.6 608.5,838.5 609.0,838.5 609.5,838.8 610.0,840.0 610.5,838.2 611.0,840.2 611.5,837.8 612.0,839.2 612.5,839.2 613.0,840.8 613.5,838.5 614.0,837.7 614.5,839.4 615.0,838.4 615.5,840.0 616.0,838.5 616.5,838.3 617.0,840.0 617.5,839.2 618.0,839.7 618.5,837.7 619.0,840.2 619.5,838.5 620.0,839.7 620.5,838.3 621.0,838.0 621.5,839.1 622.0,839.6 622.5,841.0 623.0,840.3 623.5,840.5 624.0,840.5 624.5,842.5 625.0,839.2 625.5,840.9 626.0,839.9 626.5,840.4 627.0,839.7 627.5,841.0 628.0,839.2 628.5,839.3 629.0,840.2 629.5,839.7 630.0,841.4 630.5,841.6 631.0,840.1 631.5,841.3 632.0,840.2 632.5,840.6 633.0,840.7 633.5,842.0 634.0,840.5 634.5,839.5 635.0,839.3 635.5,841.2 636.0,838.9 636.5,840.0 637.0,840.0 637.5,838.4 638.0,840.0 638.5,841.2 639.0,840.6 639.5,839.8 640.0,840.9 640.5,841.1 641.0,842.2 641.5,840.5 642.0,840.9 642.5,841.2 643.0,841.1 643.5,841.3 644.0,841.4 644.5,841.0 645.0,840.1 645.5,840.8 646.0,840.0 646.5,840.5 647.0,840.8 647.5,841.4 648.0,841.6 648.5,840.1 649.0,841.2 649.5,841.6 650.0,841.1 650.5,839.8 651.0,839.0 651.5,841.3 652.0,841.5 652.5,841.1 653.0,840.2 653.5,841.9 654.0,842.0 654.5,840.8 655.0,840.7 655.5,839.2 656.0,841.2 656.5,839.5 657.0,841.2 657.5,841.0 658.0,840.9 658.5,842.0 659.0,840.5 659.5,841.1 660.0,841.4 660.5,840.9 661.0,840.7 661.5,842.2 662.0,841.7 662.5,840.9 663.0,840.8 663.5,841.3 664.0,843.0 664.5,841.5 665.0,841.4 665.5,840.7 666.0,840.4 666.5,839.8 667.0,841.5 667.5,841.4 668.0,840.5 668.5,840.3 669.0,841.0 669.5,840.9 670.0,840.3 670.5,841.6 671.0,841.4 671.5,841.3 672.0,841.9 672.5,841.0 673.0,842.4 673.5,840.7 674.0,841.7 674.5,841.6 675.0,840.8 675.5,841.3 676.0,840.2 676.5,840.0 677.0,840.9 677.5,840.7 678.0,841.7 678.5,841.3 679.0,842.1 679.5,841.8 680.0,841.8 680.5,841.8 681.0,841.4 681.5,841.4 682.0,843.2 682.5,840.4 683.0,841.8 683.5,842.5 684.0,842.3 684.5,843.0 685.0,842.5 685.5,841.2 686.0,842.0 686.5,841.4 687.0,843.0 687.5,843.3 688.0,841.9 688.5,842.5 689.0,842.0 689.5,841.0 690.0,841.7 690.5,840.8 691.0,841.5 691.5,842.2 692.0,842.7 692.5,843.3 693.0,842.4 693.5,842.7 694.0,843.1 694.5,843.2 695.0,840.6 695.5,842.3 696.0,843.3 696.5,841.8 697.0,842.8 697.5,843.1 698.0,841.2 698.5,842.4 699.0,842.7 699.5,842.8 700.0,841.7 700.5,843.1 701.0,842.4 701.5,843.2 702.0,842.9 702.5,842.1 703.0,842.5 703.5,841.8 704.0,841.8 704.5,841.1 705.0,842.1 705.5,842.9 706.0,842.5 706.5,842.5 707.0,841.8 707.5,842.0 708.0,843.2 708.5,841.4 709.0,844.0 709.5,842.5 710.0,844.2 710.5,843.4 711.0,842.2 711.5,843.1 712.0,842.9 712.5,843.0 713.0,843.3 713.5,842.3 714.0,842.2 714.5,842.3 715.0,841.5 715.5,842.2 716.0,842.7 716.5,842.4 717.0,842.3 717.5,841.7 718.0,842.5 718.5,840.4 719.0,841.6 719.5,841.7 720.0,842.7 720.5,842.5 721.0,842.8 721.5,842.2 722.0,843.0 722.5,841.6 723.0,842.5 723.5,841.0 724.0,843.8 724.5,843.6 725.0,842.1 725.5,842.0 726.0,841.2 726.5,841.6 727.0,842.9 727.5,842.8 728.0,841.7 728.5,842.5 729.0,842.7 729.5,843.5 730.0,843.7 730.5,842.9 731.0,843.4 731.5,843.4 732.0,841.7 732.5,843.5 733.0,843.2 733.5,843.7 734.0,841.8 734.5,843.7 735.0,842.8 735.5,843.3 736.0,844.0 736.5,842.1 737.0,842.2 737.5,843.8 738.0,842.3 738.5,842.4 739.0,843.4 739.5,842.7 740.0,843.5 740.5,843.1 741.0,842.9 741.5,843.5 742.0,844.4 742.5,842.9 743.0,844.3 743.5,844.1 744.0,843.3 744.5,843.6 745.0,842.8 745.5,843.1 746.0,843.8 746.5,843.7 747.0,844.5 747.5,842.5 748.0,843.3 748.5,843.0 749.0,843.5 749.5,844.0 750.0,842.3 750.5,843.6 751.0,842.4 751.5,842.6 752.0,843.6 752.5,842.7 753.0,843.4 753.5,842.9 754.0,842.9 754.5,842.7 755.0,841.7 755.5,842.6 756.0,843.3 756.5,843.3 757.0,842.1 757.5,843.9 758.0,843.6 758.5,842.3 759.0,842.7 759.5,844.1 760.0,842.4 760.5,843.0 761.0,843.5 761.5,843.3 762.0,843.3 762.5,843.8 763.0,842.9 763.5,843.1 764.0,845.0 764.5,842.4 765.0,843.4 765.5,843.9 766.0,843.4 766.5,844.7 767.0,843.7 767.5,844.3 768.0,841.9 768.5,844.5 769.0,844.4 769.5,843.1 770.0,844.6 770.5,844.0 771.0,844.5 771.5,845.2 772.0,843.8 772.5,843.0 773.0,843.6 773.5,842.8 774.0,843.0 774.5,843.0 775.0,843.0 775.5,844.3 776.0,843.9 776.5,842.5 777.0,843.7 777.5,841.9 778.0,842.8 778.5,843.1 779.0,844.0 779.5,843.5 780.0,843.5 780.5,844.2 781.0,843.8 781.5,844.5 782.0,842.7 782.5,841.9 783.0,842.9 783.5,843.9 784.0,843.6 784.5,844.0 785.0,844.1 785.5,844.0 786.0,844.0 786.5,843.0 787.0,844.1 787.5,842.5 788.0,843.1 788.5,842.3 789.0,843.8 789.5,842.1 790.0,844.2 790.5,842.5 791.0,843.5 791.5,843.4 792.0,843.0 792.5,844.4 793.0,843.1 793.5,844.5 794.0,842.7 794.5,843.0 795.0,842.0 795.5,843.7 796.0,844.1 796.5,843.6 797.0,843.3 797.5,842.7 798.0,844.7 798.5,843.8 799.0,841.7 799.5,842.7 800.0,841.2 800.5,843.6 801.0,843.6 801.5,842.9 802.0,841.8 802.5,841.1 803.0,840.1 803.5,840.7 804.0,839.5 804.5,838.8 805.0,838.0 805.5,837.3 806.0,837.3 806.5,837.5 807.0,837.0 807.5,837.5 808.0,837.7 808.5,838.2 809.0,839.2 809.5,840.8 810.0,841.2 810.5,842.1 811.0,842.2 811.5,841.9 812.0,841.6 812.5,842.4 813.0,842.0 813.5,844.2 814.0,843.1 814.5,842.7 815.0,844.4 815.5,842.8 816.0,843.4 816.5,843.0 817.0,843.3 817.5,842.8 818.0,843.4 818.5,844.1 819.0,842.3 819.5,841.5 820.0,844.1 820.5,843.3 821.0,843.7 821.5,842.9 822.0,844.3 822.5,844.5 823.0,842.5 823.5,843.8 824.0,842.8 824.5,842.3 825.0,843.3 825.5,844.0 826.0,842.7 826.5,842.7 827.0,844.5 827.5,843.5 828.0,843.8 828.5,842.9 829.0,843.0 829.5,843.7 830.0,843.7 830.5,843.9 831.0,845.0 831.5,844.1 832.0,843.1 832.5,843.5 833.0,844.3 833.5,845.5 834.0,843.9 834.5,844.2 835.0,844.1 835.5,843.6 836.0,843.5 836.5,843.9 837.0,844.9 837.5,844.3 838.0,843.6 838.5,844.0 839.0,842.8 839.5,844.5 840.0,844.4 840.5,844.3 841.0,842.7 841.5,845.3 842.0,841.7 842.5,843.1 843.0,843.2 843.5,844.1 844.0,842.7 844.5,843.6 845.0,843.1 845.5,843.1 846.0,843.9 846.5,844.3 847.0,843.5 847.5,843.2 848.0,841.9 848.5,844.3 849.0,843.2 849.5,842.1 850.0,843.7 850.5,844.7 851.0,843.5 851.5,842.8 852.0,845.0 852.5,843.9 853.0,843.9 853.5,844.4 854.0,842.1 854.5,843.5 855.0,843.4 855.5,845.2 856.0,843.3 856.5,843.3 857.0,842.9 857.5,843.2 858.0,843.9 858.5,844.2 859.0,843.8 859.5,845.4 860.0,844.3 860.5,844.4 861.0,844.9 861.5,844.1 862.0,843.2 862.5,842.3 863.0,843.6 863.5,842.8 864.0,844.4 864.5,842.9 865.0,841.8 865.5,843.5 866.0,844.2 866.5,843.4 867.0,843.8 867.5,843.7 868.0,844.9 868.5,844.0 869.0,843.6 869.5,843.2 870.0,842.5 870.5,844.7 871.0,844.5 871.5,842.8 872.0,844.1 872.5,844.0 873.0,843.4 873.5,843.7 874.0,844.5 874.5,843.4 875.0,844.0 875.5,844.3 876.0,844.3 876.5,844.1 877.0,844.5 877.5,844.9 878.0,843.8 878.5,844.2 879.0,843.5 879.5,845.0 880.0,843.0 880.5,844.0 881.0,844.7 881.5,843.9 882.0,843.9 882.5,843.7 883.0,844.5 883.5,843.6 884.0,844.4 884.5,844.5 885.0,843.5 885.5,844.7 886.0,844.1 886.5,844.7 887.0,845.1 887.5,844.9 888.0,843.8 888.5,844.8 889.0,843.6 889.5,844.1 890.0,845.9 890.5,844.6 891.0,845.8 891.5,844.4 892.0,844.4 892.5,843.4 893.0,844.8 893.5,843.8 894.0,844.4 894.5,844.3 895.0,844.6 895.5,844.3 896.0,844.1 896.5,844.2 897.0,843.9 897.5,842.9 898.0,844.6 898.5,846.0 899.0,845.2 899.5,846.1 900.0,845.0 900.5,844.0 901.0,843.9 901.5,845.0 902.0,844.8 902.5,844.5 903.0,844.9 903.5,843.6 904.0,844.6 904.5,843.9 905.0,844.2 905.5,844.9 906.0,844.0 906.5,845.0 907.0,845.1 907.5,843.6 908.0,845.9 908.5,843.5 909.0,844.5 909.5,845.1 910.0,843.1 910.5,845.6 911.0,845.5 911.5,844.7 912.0,845.0 912.5,844.8 913.0,844.4 913.5,845.2 914.0,844.1 914.5,844.4 915.0,844.5 915.5,845.0 916.0,845.3 916.5,843.4 917.0,843.2 917.5,844.4 918.0,844.3 918.5,843.5 919.0,844.2 919.5,844.6 920.0,844.1 920.5,844.9 921.0,843.3 921.5,844.1 922.0,845.4 922.5,844.6 923.0,843.3 923.5,844.3 924.0,845.0 924.5,845.8 925.0,844.7 925.5,844.8 926.0,843.1 926.5,843.7 927.0,844.7 927.5,843.4 928.0,843.8 928.5,842.3 929.0,844.3 929.5,843.2 930.0,843.4 930.5,842.1 931.0,842.0 931.5,843.8 932.0,842.0 932.5,841.7 933.0,842.1 933.5,842.0 934.0,840.1 934.5,840.4 935.0,840.6 935.5,840.6 936.0,841.0 936.5,841.1 937.0,841.5 937.5,842.3 938.0,842.2 938.5,842.5 939.0,843.0 939.5,843.6 940.0,843.6 940.5,843.5 941.0,843.7 941.5,843.9 942.0,844.1 942.5,844.1 943.0,842.9 943.5,844.5 944.0,842.8 944.5,844.4 945.0,843.5 945.5,844.5 946.0,844.9 946.5,843.0 947.0,844.7 947.5,844.5 948.0,843.9 948.5,844.5 949.0,844.1 949.5,844.5 950.0,843.7 950.5,845.0 951.0,844.8 951.5,845.0 952.0,844.1 952.5,845.8 953.0,846.0 953.5,844.4 954.0,844.3 954.5,844.3 955.0,845.1 955.5,845.3 956.0,844.1 956.5,843.4 957.0,845.2 957.5,844.6 958.0,844.8 958.5,844.9 959.0,843.6 959.5,844.3 960.0,844.0 960.5,844.3 961.0,844.9 961.5,844.0 962.0,843.7 962.5,845.1 963.0,844.7 963.5,844.2 964.0,843.2 964.5,844.0 965.0,844.7 965.5,844.8 966.0,844.1 966.5,844.5 967.0,843.6 967.5,843.5 968.0,844.0 968.5,843.5 969.0,843.4 969.5,843.6 970.0,843.4 970.5,842.0 971.0,842.0 971.5,841.1 972.0,840.8 972.5,841.1 973.0,839.6 973.5,837.7 974.0,836.8 974.5,833.7 975.0,830.6 975.5,826.8 976.0,822.3 976.5,817.8 977.0,813.7 977.5,812.0 978.0,811.5 978.5,812.4 979.0,814.2 979.5,817.4 980.0,820.2 980.5,823.7 981.0,827.5 981.5,830.8 982.0,833.5 982.5,836.7 983.0,838.8 983.5,840.1 984.0,841.7 984.5,842.7 985.0,841.7 985.5,842.3 986.0,843.4 986.5,843.0 987.0,843.2 987.5,843.9 988.0,844.1 988.5,843.7 989.0,844.3 989.5,843.9 990.0,844.2 990.5,843.6 991.0,843.1 991.5,844.2 992.0,844.1 992.5,845.1 993.0,845.4 993.5,844.1 994.0,844.2 994.5,843.7 995.0,843.6 995.5,844.0 996.0,844.1 996.5,844.5 997.0,844.4 997.5,845.3 998.0,844.3 998.5,843.5 999.0,844.7 999.5,844.1 1000.0,844.7 1000.5,845.2 1001.0,843.9 1001.5,844.0 1002.0,844.7 1002.5,843.6 1003.0,844.3 1003.5,844.7 1004.0,844.9 1004.5,845.1 1005.0,844.9 1005.5,844.8 1006.0,843.9 1006.5,842.9 1007.0,844.2 1007.5,845.9 1008.0,845.1 1008.5,843.6 1009.0,844.9 1009.5,845.4 1010.0,843.9 1010.5,845.6 1011.0,844.6 1011.5,846.0 1012.0,845.3 1012.5,847.2 1013.0,844.2 1013.5,845.2 1014.0,844.1 1014.5,845.9 1015.0,845.2 1015.5,845.6 1016.0,845.1 1016.5,844.2 1017.0,844.6 1017.5,844.3 1018.0,844.6 1018.5,845.4 1019.0,846.0 1019.5,845.8 1020.0,845.5 1020.5,844.9 1021.0,845.6 1021.5,844.7 1022.0,845.3 1022.5,845.5 1023.0,844.9 1023.5,844.8 1024.0,844.7 1024.5,845.6 1025.0,844.8 1025.5,844.1 1026.0,844.7 1026.5,844.4 1027.0,846.1 1027.5,845.0 1028.0,844.1 1028.5,845.3 1029.0,845.6 1029.5,845.3 1030.0,844.9 1030.5,845.6 1031.0,845.6 1031.5,846.0 1032.0,845.6 1032.5,846.8 1033.0,845.2 1033.5,846.2 1034.0,845.3 1034.5,844.0 1035.0,844.2 1035.5,843.8 1036.0,844.0 1036.5,846.0 1037.0,844.7 1037.5,845.5 1038.0,844.6 1038.5,845.3 1039.0,844.7 1039.5,846.1 1040.0,845.1 1040.5,845.1 1041.0,845.0 1041.5,846.6 1042.0,845.4 1042.5,845.6 1043.0,844.4 1043.5,844.7 1044.0,845.2 1044.5,843.8 1045.0,846.0 1045.5,845.5 1046.0,845.3 1046.5,845.2 1047.0,845.0 1047.5,844.7 1048.0,846.1 1048.5,845.6 1049.0,846.1 1049.5,844.9 1050.0,844.4 1050.5,846.0 1051.0,844.2 1051.5,844.6 1052.0,845.4 1052.5,845.6 1053.0,844.2 1053.5,844.8 1054.0,845.3 1054.5,845.2 1055.0,844.6 1055.5,845.9 1056.0,845.3 1056.5,845.4 1057.0,844.0 1057.5,845.4 1058.0,844.3 1058.5,846.0 1059.0,845.7 1059.5,845.2 1060.0,845.6 1060.5,845.6 1061.0,845.7 1061.5,846.0 1062.0,845.6 1062.5,845.3 1063.0,845.1 1063.5,846.8 1064.0,845.7 1064.5,845.5 1065.0,845.9 1065.5,845.0 1066.0,845.2 1066.5,846.1 1067.0,846.4 1067.5,846.1 1068.0,844.8 1068.5,846.2 1069.0,846.1 1069.5,846.4 1070.0,845.6 1070.5,845.6 1071.0,846.1 1071.5,845.6 1072.0,845.5 1072.5,846.1 1073.0,846.5 1073.5,846.1 1074.0,846.9 1074.5,845.5 1075.0,846.6 1075.5,845.9 1076.0,845.1 1076.5,845.3 1077.0,845.1 1077.5,845.7 1078.0,845.2 1078.5,846.3 1079.0,845.4 1079.5,844.4 1080.0,845.4 1080.5,846.0 1081.0,845.5 1081.5,846.2 1082.0,845.1 1082.5,844.9 1083.0,846.5 1083.5,845.3 1084.0,845.8 1084.5,845.8 1085.0,845.8 1085.5,845.6 1086.0,845.6 1086.5,846.3 1087.0,845.4 1087.5,845.8 1088.0,846.4 1088.5,845.7 1089.0,845.0 1089.5,846.3 1090.0,846.5 1090.5,846.0 1091.0,844.8 1091.5,846.5 1092.0,847.5 1092.5,845.3 1093.0,844.7 1093.5,846.1 1094.0,846.2 1094.5,846.9 1095.0,846.8 1095.5,846.3 1096.0,846.5 1096.5,846.3 1097.0,846.0 1097.5,845.8 1098.0,845.7 1098.5,846.2 1099.0,846.0 1099.5,845.6 1100.0,846.6 1100.5,845.4 1101.0,845.7 1101.5,845.8 1102.0,844.5 1102.5,845.5 1103.0,846.3 1103.5,846.3 1104.0,845.1 1104.5,845.3 1105.0,845.2 1105.5,845.9 1106.0,846.3 1106.5,845.6 1107.0,846.8 1107.5,846.6 1108.0,846.5 1108.5,846.1 1109.0,846.3 1109.5,845.4 1110.0,846.5 1110.5,846.2 1111.0,845.8 1111.5,845.2 1112.0,846.7 1112.5,846.6 1113.0,844.6 1113.5,846.2 1114.0,846.0 1114.5,844.5 1115.0,846.5 1115.5,846.6 1116.0,846.7 1116.5,846.3 1117.0,845.8 1117.5,845.9 1118.0,846.4 1118.5,846.7 1119.0,845.7 1119.5,845.8 1120.0,846.1 1120.5,844.3 1121.0,845.7 1121.5,845.2 1122.0,844.1 1122.5,845.8 1123.0,844.8 1123.5,845.6 1124.0,845.8 1124.5,844.3 1125.0,844.6 1125.5,845.1 1126.0,844.0 1126.5,845.1 1127.0,844.5 1127.5,844.6 1128.0,842.8 1128.5,843.5 1129.0,843.2 1129.5,841.5 1130.0,842.2 1130.5,840.6 1131.0,840.3 1131.5,838.8 1132.0,838.1 1132.5,836.5 1133.0,833.2 1133.5,829.4 1134.0,824.4 1134.5,816.9 1135.0,807.7 1135.5,796.3 1136.0,782.5 1136.5,767.5 1137.0,752.3 1137.5,739.6 1138.0,731.5 1138.5,729.7 1139.0,732.8 1139.5,738.8 1140.0,746.0 1140.5,754.1 1141.0,763.1 1141.5,773.9 1142.0,785.6 1142.5,796.8 1143.0,807.1 1143.5,815.8 1144.0,822.6 1144.5,828.1 1145.0,832.1 1145.5,835.5 1146.0,838.1 1146.5,839.4 1147.0,841.6 1147.5,840.9 1148.0,842.0 1148.5,843.0 1149.0,842.7 1149.5,844.0 1150.0,844.5 1150.5,844.5 1151.0,844.6 1151.5,845.4 1152.0,845.5 1152.5,845.9 1153.0,846.1 1153.5,845.7 1154.0,845.5 1154.5,846.1 1155.0,846.6 1155.5,846.4 1156.0,847.0 1156.5,846.6 1157.0,847.0 1157.5,846.6 1158.0,846.3 1158.5,847.1 1159.0,847.0 1159.5,846.3 1160.0,846.7 1160.5,848.6 1161.0,845.3 1161.5,848.1 1162.0,847.6 1162.5,847.6 1163.0,847.5 1163.5,847.3 1164.0,848.9 1164.5,847.3 1165.0,847.3 1165.5,847.9 1166.0,847.6 1166.5,847.2 1167.0,847.2 1167.5,846.8 1168.0,848.2 1168.5,847.1 1169.0,846.4 1169.5,848.6 1170.0,848.6 1170.5,848.2 1171.0,847.6 1171.5,848.7 1172.0,847.3 1172.5,846.6 1173.0,847.9 1173.5,848.3 1174.0,848.2 1174.5,849.1 1175.0,848.2 1175.5,847.7 1176.0,847.6 1176.5,848.1 1177.0,847.7 1177.5,847.8 1178.0,846.6 1178.5,847.2 1179.0,846.5 1179.5,847.5 1180.0,847.4 1180.5,847.7 1181.0,848.3 1181.5,846.9 1182.0,847.8 1182.5,846.4 1183.0,847.3 1183.5,847.7 1184.0,848.6 1184.5,846.7 1185.0,847.4 1185.5,847.7 1186.0,847.6 1186.5,847.1 1187.0,846.5 1187.5,846.8 1188.0,847.5 1188.5,846.6 1189.0,848.4 1189.5,848.0 1190.0,846.1 1190.5,846.9 1191.0,848.1 1191.5,848.2 1192.0,847.9 1192.5,846.4 1193.0,847.1 1193.5,848.2 1194.0,847.5 1194.5,847.2 1195.0,848.0 1195.5,848.3 1196.0,847.9 1196.5,847.9 1197.0,848.4 1197.5,847.4 1198.0,847.1 1198.5,848.1 1199.0,846.8 1199.5,847.7 1200.0,846.9 1200.5,847.9 1201.0,846.6 1201.5,848.0 1202.0,847.5 1202.5,847.3 1203.0,846.8 1203.5,847.2 1204.0,846.7 1204.5,846.5 1205.0,847.9 1205.5,847.5 1206.0,848.0 1206.5,846.2 1207.0,845.6 1207.5,845.9 1208.0,847.2 1208.5,847.3 1209.0,845.6 1209.5,847.6 1210.0,846.9 1210.5,846.4 1211.0,847.2 1211.5,847.6 1212.0,847.2 1212.5,847.3 1213.0,846.9 1213.5,846.3 1214.0,846.9 1214.5,846.0 1215.0,847.3 1215.5,846.6 1216.0,847.7 1216.5,845.7 1217.0,847.5 1217.5,846.2 1218.0,846.5 1218.5,847.2 1219.0,847.5 1219.5,847.0 1220.0,846.6 1220.5,848.4 1221.0,847.6 1221.5,846.5 1222.0,846.9 1222.5,847.9 1223.0,847.2 1223.5,847.5 1224.0,848.2 1224.5,846.4 1225.0,847.0 1225.5,846.5 1226.0,846.9 1226.5,847.5 1227.0,846.5 1227.5,847.2 1228.0,847.2 1228.5,847.8 1229.0,847.0 1229.5,846.6 1230.0,847.3 1230.5,846.4 1231.0,846.9 1231.5,847.2 1232.0,846.4 1232.5,846.8 1233.0,846.2 1233.5,845.0 1234.0,845.8 1234.5,845.6 1235.0,847.2 1235.5,846.7 1236.0,847.3 1236.5,847.6 1237.0,848.5 1237.5,847.6 1238.0,847.6 1238.5,848.4 1239.0,849.1 1239.5,848.0 1240.0,848.2 1240.5,847.7 1241.0,847.3 1241.5,846.8 1242.0,847.9 1242.5,847.5 1243.0,847.4 1243.5,848.8 1244.0,847.3 1244.5,847.6 1245.0,847.2 1245.5,848.2 1246.0,847.3 1246.5,848.5 1247.0,847.4 1247.5,848.0 1248.0,848.2 1248.5,847.6 1249.0,848.4 1249.5,848.0 1250.0,847.5 1250.5,847.4 1251.0,848.3 1251.5,849.1 1252.0,847.8 1252.5,848.6 1253.0,847.7 1253.5,848.5 1254.0,847.3 1254.5,847.5 1255.0,847.8 1255.5,847.1 1256.0,847.4 1256.5,848.1 1257.0,847.3 1257.5,847.0 1258.0,846.6 1258.5,847.2 1259.0,848.3 1259.5,847.7 1260.0,847.7 1260.5,848.3 1261.0,848.4 1261.5,848.5 1262.0,847.5 1262.5,846.9 1263.0,846.4 1263.5,847.2 1264.0,847.3 1264.5,848.0 1265.0,847.7 1265.5,847.3 1266.0,848.2 1266.5,847.1 1267.0,847.5 1267.5,847.4 1268.0,847.7 1268.5,848.4 1269.0,848.0 1269.5,848.1 1270.0,849.4 1270.5,847.6 1271.0,847.9 1271.5,848.5 1272.0,848.9 1272.5,848.8 1273.0,848.2 1273.5,848.1 1274.0,848.1 1274.5,848.7 1275.0,847.6 1275.5,846.7 1276.0,848.4 1276.5,847.5 1277.0,848.2 1277.5,849.1 1278.0,848.4 1278.5,849.6 1279.0,847.6 1279.5,848.6 1280.0,848.7 1280.5,848.8 1281.0,847.9 1281.5,848.2 1282.0,848.2 1282.5,848.1 1283.0,847.1 1283.5,846.7 1284.0,848.1 1284.5,848.0 1285.0,848.1 1285.5,848.5 1286.0,849.0 1286.5,847.6 1287.0,848.8 1287.5,849.3 1288.0,849.2 1288.5,848.9 1289.0,849.0 1289.5,847.3 1290.0,847.9 1290.5,848.9 1291.0,849.0 1291.5,848.6 1292.0,847.9 1292.5,848.1 1293.0,848.6 1293.5,849.3 1294.0,848.8 1294.5,847.9 1295.0,848.4 1295.5,848.4 1296.0,849.6 1296.5,848.5 1297.0,848.0 1297.5,848.1 1298.0,847.4 1298.5,847.4 1299.0,847.9 1299.5,847.8 1300.0,848.4 1300.5,848.4 1301.0,848.9 1301.5,849.2 1302.0,848.6 1302.5,848.2 1303.0,847.2 1303.5,848.5 1304.0,848.7 1304.5,847.7 1305.0,848.1 1305.5,847.9 1306.0,849.1 1306.5,848.6 1307.0,849.0 1307.5,847.6 1308.0,849.9 1308.5,848.0 1309.0,847.9 1309.5,848.5 1310.0,848.2 1310.5,849.6 1311.0,848.3 1311.5,848.3 1312.0,849.3 1312.5,849.4 1313.0,847.9 1313.5,848.0 1314.0,847.9 1314.5,848.1 1315.0,849.1 1315.5,848.9 1316.0,848.8 1316.5,849.0 1317.0,848.4 1317.5,849.0 1318.0,848.6 1318.5,848.3 1319.0,849.6 1319.5,847.8 1320.0,848.9 1320.5,848.6 1321.0,847.9 1321.5,848.5 1322.0,848.8 1322.5,849.0 1323.0,848.1 1323.5,849.4 1324.0,848.9 1324.5,849.2 1325.0,847.5 1325.5,848.3 1326.0,848.2 1326.5,848.9 1327.0,848.1 1327.5,848.1 1328.0,847.6 1328.5,847.7 1329.0,847.8 1329.5,848.9 1330.0,847.6 1330.5,846.5 1331.0,848.2 1331.5,847.7 1332.0,848.7 1332.5,848.7 1333.0,848.1 1333.5,848.1 1334.0,848.1 1334.5,848.6 1335.0,848.4 1335.5,849.1 1336.0,849.8 1336.5,848.5 1337.0,848.5 1337.5,848.4 1338.0,849.0 1338.5,849.0 1339.0,849.3 1339.5,849.1 1340.0,848.8 1340.5,848.8 1341.0,847.7 1341.5,848.7 1342.0,848.5 1342.5,849.9 1343.0,849.5 1343.5,848.3 1344.0,848.3 1344.5,849.1 1345.0,847.5 1345.5,848.2 1346.0,849.2 1346.5,849.4 1347.0,849.1 1347.5,849.6 1348.0,848.6 1348.5,848.9 1349.0,848.6 1349.5,848.0 1350.0,848.7 1350.5,848.3 1351.0,848.6 1351.5,846.9 1352.0,848.4 1352.5,847.9 1353.0,847.8 1353.5,848.0 1354.0,847.8 1354.5,848.6 1355.0,848.7 1355.5,848.5 1356.0,848.7 1356.5,848.6 1357.0,848.4 1357.5,847.7 1358.0,848.5 1358.5,849.4 1359.0,849.1 1359.5,848.3 1360.0,848.8 1360.5,849.3 1361.0,848.5 1361.5,849.5 1362.0,848.1 1362.5,848.9 1363.0,848.9 1363.5,848.7 1364.0,848.8 1364.5,848.8 1365.0,847.1 1365.5,848.8 1366.0,849.3 1366.5,848.8 1367.0,849.4 1367.5,848.0 1368.0,848.7 1368.5,849.0 1369.0,848.8 1369.5,849.7 1370.0,849.2 1370.5,848.6 1371.0,849.4 1371.5,849.3 1372.0,848.5 1372.5,849.1 1373.0,848.9 1373.5,848.9 1374.0,848.1 1374.5,849.7 1375.0,849.2 1375.5,848.8 1376.0,849.1 1376.5,849.2 1377.0,848.9 1377.5,848.7 1378.0,849.1 1378.5,848.4 1379.0,848.4 1379.5,848.1 1380.0,848.7 1380.5,849.4 1381.0,849.0 1381.5,848.9 1382.0,848.6 1382.5,848.6 1383.0,848.2 1383.5,850.1 1384.0,848.7 1384.5,848.2 1385.0,849.3 1385.5,849.1 1386.0,848.6 1386.5,848.0 1387.0,848.0 1387.5,849.7 1388.0,848.5 1388.5,848.2 1389.0,849.5 1389.5,848.0 1390.0,847.8 1390.5,848.6 1391.0,848.6 1391.5,849.2 1392.0,847.2 1392.5,848.3 1393.0,847.1 1393.5,848.5 1394.0,847.9 1394.5,848.1 1395.0,848.0 1395.5,848.9 1396.0,849.6 1396.5,848.7 1397.0,848.7 1397.5,848.7 1398.0,849.4 1398.5,848.6 1399.0,851.3 1399.5,849.0 1400.0,850.3 1400.5,849.3 1401.0,848.4 1401.5,848.3 1402.0,849.0 1402.5,848.6 1403.0,848.9 1403.5,848.2 1404.0,850.2 1404.5,850.0 1405.0,847.4 1405.5,848.9 1406.0,849.1 1406.5,848.3 1407.0,848.4 1407.5,849.1 1408.0,848.9 1408.5,848.0 1409.0,849.5 1409.5,848.7 1410.0,849.9 1410.5,848.3 1411.0,847.4 1411.5,848.9 1412.0,849.5 1412.5,849.1 1413.0,848.9 1413.5,848.3 1414.0,849.4 1414.5,847.7 1415.0,849.4 1415.5,847.9 1416.0,848.2 1416.5,847.8 1417.0,848.2 1417.5,849.6 1418.0,847.7 1418.5,848.8 1419.0,848.3 1419.5,849.3 1420.0,848.1 1420.5,848.8 1421.0,849.3 1421.5,850.0 1422.0,847.9 1422.5,848.3 1423.0,848.6 1423.5,849.5 1424.0,848.0 1424.5,849.2 1425.0,848.3 1425.5,848.2 1426.0,847.8 1426.5,848.7 1427.0,849.1 1427.5,848.3 1428.0,847.2 1428.5,848.2 1429.0,849.0 1429.5,849.0 1430.0,848.7 1430.5,849.5 1431.0,848.0 1431.5,848.0 1432.0,850.3 1432.5,849.0 1433.0,848.5 1433.5,848.5 1434.0,847.2 1434.5,849.3 1435.0,847.6 1435.5,847.8 1436.0,848.9 1436.5,849.8 1437.0,848.7 1437.5,849.2 1438.0,848.6 1438.5,849.1 1439.0,847.8 1439.5,850.0 1440.0,848.1 1440.5,849.1 1441.0,847.4 1441.5,849.7 1442.0,848.8 1442.5,849.8 1443.0,848.3 1443.5,849.2 1444.0,848.5 1444.5,848.7 1445.0,849.5 1445.5,848.2 1446.0,849.3 1446.5,850.1 1447.0,850.0 1447.5,849.5 1448.0,849.3 1448.5,848.5 1449.0,849.8 1449.5,848.7 1450.0,849.9 1450.5,849.0 1451.0,849.1 1451.5,849.0 1452.0,849.4 1452.5,848.6 1453.0,848.9 1453.5,848.4 1454.0,849.0 1454.5,848.8 1455.0,848.9 1455.5,848.2 1456.0,848.9 1456.5,848.7 1457.0,849.0 1457.5,848.8 1458.0,848.2 1458.5,849.3 1459.0,848.5 1459.5,849.1 1460.0,847.6 1460.5,849.1 1461.0,849.2 1461.5,848.1 1462.0,848.9 1462.5,848.4 1463.0,849.4 1463.5,849.0 1464.0,847.7 1464.5,848.4 1465.0,847.7 1465.5,848.6 1466.0,849.1 1466.5,849.3 1467.0,848.8 1467.5,848.6 1468.0,848.9 1468.5,848.4 1469.0,849.0 1469.5,849.4 1470.0,849.0 1470.5,849.6 1471.0,848.6 1471.5,848.7 1472.0,849.3 1472.5,850.2 1473.0,849.5 1473.5,849.8 1474.0,848.8 1474.5,849.3 1475.0,847.5 1475.5,849.0 1476.0,847.5 1476.5,849.6 1477.0,849.3 1477.5,849.7 1478.0,849.3 1478.5,848.9 1479.0,848.7 1479.5,849.2 1480.0,849.9 1480.5,849.3 1481.0,848.5 1481.5,848.4 1482.0,848.3 1482.5,848.7 1483.0,848.8 1483.5,848.6 1484.0,848.9 1484.5,847.9 1485.0,849.9 1485.5,849.1 1486.0,849.8 1486.5,849.1 1487.0,848.9 1487.5,849.0 1488.0,849.1 1488.5,848.4 1489.0,848.7 1489.5,850.1 1490.0,849.6 1490.5,848.7 1491.0,849.3 1491.5,848.5 1492.0,849.8 1492.5,848.5 1493.0,849.7 1493.5,848.9 1494.0,848.9 1494.5,848.4 1495.0,848.6 1495.5,848.3 1496.0,848.1 1496.5,849.0 1497.0,850.1 1497.5,848.5 1498.0,849.5 1498.5,848.8 1499.0,848.3 1499.5,849.6 1500.0,849.3 1500.5,849.6 1501.0,849.1 1501.5,849.1 1502.0,848.4 1502.5,848.6 1503.0,849.8 1503.5,847.7 1504.0,849.4 1504.5,850.0 1505.0,849.6 1505.5,849.8 1506.0,849.1 1506.5,850.0 1507.0,850.2 1507.5,849.5 1508.0,850.4 1508.5,849.0 1509.0,848.0 1509.5,849.4 1510.0,849.3 1510.5,849.0 1511.0,849.3 1511.5,849.3 1512.0,848.6 1512.5,850.4 1513.0,849.6 1513.5,851.0 1514.0,849.5 1514.5,849.7 1515.0,848.6 1515.5,850.0 1516.0,848.7 1516.5,849.7 1517.0,849.9 1517.5,850.1 1518.0,849.1 1518.5,848.9 1519.0,849.9 1519.5,850.2 1520.0,850.2 1520.5,849.3 1521.0,849.2 1521.5,850.3 1522.0,849.0 1522.5,849.9 1523.0,849.3 1523.5,848.6 1524.0,848.6 1524.5,849.6 1525.0,849.4 1525.5,849.5 1526.0,848.9 1526.5,848.6 1527.0,849.0 1527.5,848.8 1528.0,848.0 1528.5,848.8 1529.0,850.0 1529.5,848.6 1530.0,849.6 1530.5,849.2 1531.0,849.9 1531.5,848.8 1532.0,848.5 1532.5,849.6 1533.0,848.8 1533.5,849.4 1534.0,849.1 1534.5,849.8 1535.0,849.3 1535.5,849.0 1536.0,848.6 1536.5,848.3 1537.0,848.8 1537.5,849.6 1538.0,849.4 1538.5,849.3 1539.0,848.7 1539.5,848.5 1540.0,850.0 1540.5,849.3 1541.0,849.5 1541.5,848.7 1542.0,849.1 1542.5,849.9 1543.0,850.3 1543.5,849.2 1544.0,849.9 1544.5,848.9 1545.0,850.2 1545.5,850.0 1546.0,850.8 1546.5,850.2 1547.0,848.8 1547.5,849.2 1548.0,848.7 1548.5,849.1 1549.0,849.6 1549.5,849.2 1550.0,849.1 1550.5,848.3 1551.0,849.4 1551.5,849.1 1552.0,849.5 1552.5,849.8 1553.0,849.2 1553.5,849.3 1554.0,848.5 1554.5,849.4 1555.0,848.8 1555.5,848.6 1556.0,848.8 1556.5,848.1 1557.0,848.5 1557.5,848.7 1558.0,849.3 1558.5,849.3 1559.0,849.0 1559.5,849.2 1560.0,848.1 1560.5,849.4 1561.0,849.7 1561.5,849.9 1562.0,850.0 1562.5,849.3 1563.0,849.3 1563.5,849.1 1564.0,849.0 1564.5,849.4 1565.0,850.0 1565.5,848.3 1566.0,848.9 1566.5,849.3 1567.0,848.4 1567.5,849.2 1568.0,848.2 1568.5,848.9 1569.0,848.0 1569.5,849.2 1570.0,848.6 1570.5,849.6 1571.0,849.1 1571.5,848.7 1572.0,849.0 1572.5,849.4 1573.0,849.3 1573.5,849.2 1574.0,849.0 1574.5,849.1 1575.0,849.6 1575.5,848.8 1576.0,849.5 1576.5,848.5 1577.0,849.9 1577.5,849.8 1578.0,849.5 1578.5,849.5 1579.0,848.8 1579.5,849.8 1580.0,849.8 1580.5,849.1 1581.0,849.6 1581.5,850.1 1582.0,849.6 1582.5,849.7 1583.0,849.3 1583.5,850.2 1584.0,849.6 1584.5,850.0 1585.0,850.8 1585.5,848.5 1586.0,849.4 1586.5,849.8 1587.0,849.3 1587.5,850.3 1588.0,849.4 1588.5,850.7 1589.0,850.1 1589.5,849.9 1590.0,849.6 1590.5,850.0 1591.0,850.0 1591.5,850.5 1592.0,849.7 1592.5,850.1 1593.0,849.8 1593.5,849.9 1594.0,848.9 1594.5,849.8 1595.0,850.0 1595.5,848.9 1596.0,848.8 1596.5,849.5 1597.0,849.9 1597.5,848.5 1598.0,849.5 1598.5,849.7 1599.0,849.0 1599.5,849.2 1600.0,849.3 1600.5,848.8 1601.0,849.6 1601.5,849.6 1602.0,848.8 1602.5,849.8 1603.0,850.1 1603.5,849.2 1604.0,850.4 1604.5,849.9 1605.0,849.1 1605.5,849.2 1606.0,849.3 1606.5,850.1 1607.0,849.5 1607.5,849.5 1608.0,848.8 1608.5,849.4 1609.0,848.7 1609.5,849.0 1610.0,849.7 1610.5,849.4 1611.0,848.7 1611.5,849.0 1612.0,849.3 1612.5,849.0 1613.0,849.7 1613.5,849.8 1614.0,849.0 1614.5,848.4 1615.0,849.1 1615.5,850.0 1616.0,849.8 1616.5,849.8 1617.0,849.6 1617.5,848.6 1618.0,848.9 1618.5,849.5 1619.0,848.9 1619.5,849.4 1620.0,848.4 1620.5,848.3 1621.0,850.3 1621.5,849.7 1622.0,849.6 1622.5,850.1 1623.0,850.5 1623.5,851.0 1624.0,847.8 1624.5,849.4 1625.0,849.7 1625.5,848.0 1626.0,848.1 1626.5,849.3 1627.0,850.6 1627.5,850.0 1628.0,850.8 1628.5,849.8 1629.0,850.2 1629.5,850.6 1630.0,849.9 1630.5,849.7 1631.0,849.7 1631.5,847.6 1632.0,849.8 1632.5,848.3 1633.0,848.9 1633.5,849.6 1634.0,849.4 1634.5,848.1 1635.0,849.4 1635.5,849.4 1636.0,848.9 1636.5,849.1 1637.0,849.2 1637.5,848.0 1638.0,849.0 1638.5,848.9 1639.0,848.4 1639.5,848.9 1640.0,848.6 1640.5,849.0 1641.0,848.5 1641.5,849.4 1642.0,849.8 1642.5,848.2 1643.0,848.3 1643.5,848.0 1644.0,848.1 1644.5,847.7 1645.0,846.3 1645.5,847.4 1646.0,846.9 1646.5,846.2 1647.0,846.2 1647.5,845.7 1648.0,845.8 1648.5,845.3 1649.0,845.1 1649.5,845.2 1650.0,845.2 1650.5,845.2 1651.0,845.9 1651.5,845.5 1652.0,845.2 1652.5,846.4 1653.0,845.6 1653.5,846.1 1654.0,844.8 1654.5,845.1 1655.0,845.1 1655.5,844.2 1656.0,842.9 1656.5,841.4 1657.0,839.4 1657.5,836.7 1658.0,832.3 1658.5,826.2 1659.0,817.7 1659.5,807.0 1660.0,794.7 1660.5,782.0 1661.0,772.6 1661.5,769.4 1662.0,773.4 1662.5,782.1 1663.0,791.8 1663.5,799.5 1664.0,804.3 1664.5,805.3 1665.0,804.7 1665.5,803.6 1666.0,803.9 1666.5,807.7 1667.0,813.9 1667.5,820.5 1668.0,827.4 1668.5,832.7 1669.0,836.8 1669.5,839.8 1670.0,841.9 1670.5,843.0 1671.0,844.3 1671.5,845.4 1672.0,846.1 1672.5,845.9 1673.0,846.8 1673.5,847.1 1674.0,846.2 1674.5,847.8 1675.0,847.2 1675.5,847.3 1676.0,848.4 1676.5,848.9 1677.0,847.6 1677.5,847.8 1678.0,847.8 1678.5,848.2 1679.0,848.3 1679.5,848.1 1680.0,847.8 1680.5,849.8 1681.0,848.6 1681.5,848.5 1682.0,849.3 1682.5,848.8 1683.0,849.4 1683.5,849.3 1684.0,849.5 1684.5,848.6 1685.0,849.2 1685.5,848.1 1686.0,848.1 1686.5,849.0 1687.0,848.9 1687.5,849.8 1688.0,849.0 1688.5,848.2 1689.0,849.4 1689.5,849.1 1690.0,849.6 1690.5,849.0 1691.0,849.2 1691.5,849.7 1692.0,850.1 1692.5,849.9 1693.0,850.0 1693.5,848.9 1694.0,849.6 1694.5,849.5 1695.0,849.9 1695.5,849.6 1696.0,849.3 1696.5,849.4 1697.0,849.5 1697.5,848.7 1698.0,849.5 1698.5,850.0 1699.0,850.0 1699.5,848.7 1700.0,849.7 1700.5,848.7 1701.0,850.5 1701.5,850.3 1702.0,850.3 1702.5,849.5 1703.0,848.7 1703.5,849.1 1704.0,849.4 1704.5,848.7 1705.0,849.1 1705.5,850.4 1706.0,848.6 1706.5,849.8 1707.0,848.4 1707.5,849.7 1708.0,850.2 1708.5,850.2 1709.0,850.7 1709.5,850.8 1710.0,849.1 1710.5,850.0 1711.0,850.0 1711.5,850.0 1712.0,850.8 1712.5,849.9 1713.0,850.4 1713.5,850.4 1714.0,849.9 1714.5,850.1 1715.0,849.4 1715.5,850.1 1716.0,850.0 1716.5,849.7 1717.0,849.7 1717.5,850.4 1718.0,849.8 1718.5,851.0 1719.0,850.4 1719.5,850.1 1720.0,849.3 1720.5,850.4 1721.0,849.9 1721.5,849.7 1722.0,849.0 1722.5,849.9 1723.0,849.7 1723.5,849.3 1724.0,849.2 1724.5,849.5 1725.0,848.8 1725.5,849.3 1726.0,850.5 1726.5,849.3 1727.0,851.0 1727.5,849.2 1728.0,850.6 1728.5,850.6 1729.0,850.7 1729.5,850.3 1730.0,849.1 1730.5,850.6 1731.0,850.7 1731.5,850.0 1732.0,848.6 1732.5,850.5 1733.0,849.2 1733.5,849.5 1734.0,850.5 1734.5,850.4 1735.0,849.9 1735.5,849.5 1736.0,850.9 1736.5,850.6 1737.0,849.9 1737.5,849.7 1738.0,850.3 1738.5,849.4 1739.0,851.3 1739.5,850.6 1740.0,850.1 1740.5,850.4 1741.0,849.2 1741.5,850.1 1742.0,849.6 1742.5,849.0 1743.0,849.5 1743.5,850.0 1744.0,849.1 1744.5,849.8 1745.0,849.2 1745.5,850.1 1746.0,849.1 1746.5,850.5 1747.0,850.4 1747.5,850.5 1748.0,851.1 1748.5,850.0 1749.0,850.0 1749.5,850.3 1750.0,849.6 1750.5,848.8 1751.0,849.4 1751.5,849.4 1752.0,850.1 1752.5,849.7 1753.0,849.9 1753.5,850.5 1754.0,850.2 1754.5,851.4 1755.0,850.2 1755.5,849.5 1756.0,850.9 1756.5,850.1 1757.0,850.1 1757.5,850.6 1758.0,850.2 1758.5,850.5 1759.0,849.7 1759.5,849.6 1760.0,850.3 1760.5,849.7 1761.0,849.7 1761.5,850.0 1762.0,851.0 1762.5,850.9 1763.0,850.2 1763.5,850.1 1764.0,849.9 1764.5,851.0 1765.0,850.4 1765.5,850.7 1766.0,849.4 1766.5,850.6 1767.0,850.2 1767.5,850.6 1768.0,850.9 1768.5,850.4 1769.0,850.1 1769.5,850.7 1770.0,849.6 1770.5,850.9 1771.0,850.3 1771.5,849.6 1772.0,850.8 1772.5,850.6 1773.0,850.8 1773.5,850.5 1774.0,850.2 1774.5,849.9 1775.0,849.4 1775.5,850.5 1776.0,850.3 1776.5,850.0 1777.0,850.5 1777.5,849.8 1778.0,850.8 1778.5,850.5 1779.0,850.4 1779.5,849.8 1780.0,850.6 1780.5,850.1 1781.0,849.6 1781.5,850.0 1782.0,849.6 1782.5,850.5 1783.0,848.9 1783.5,849.2 1784.0,851.1 1784.5,850.0 1785.0,850.5 1785.5,850.0 1786.0,850.4 1786.5,851.7 1787.0,849.1 1787.5,850.5 1788.0,850.3 1788.5,850.2 1789.0,849.7 1789.5,849.8 1790.0,851.1 1790.5,850.8 1791.0,849.9 1791.5,850.6 1792.0,850.0 1792.5,852.3 1793.0,850.8 1793.5,849.5 1794.0,851.0 1794.5,850.7 1795.0,850.6 1795.5,850.4 1796.0,850.0 1796.5,850.0 1797.0,849.1 1797.5,851.1 1798.0,851.5 1798.5,850.6 1799.0,850.7 1799.5,849.3 1800.0,850.0 1800.5,849.4 1801.0,849.5 1801.5,850.4 1802.0,850.8 1802.5,850.0 1803.0,851.5 1803.5,850.6 1804.0,849.0 1804.5,850.0 1805.0,851.0 1805.5,850.3 1806.0,850.9 1806.5,849.5 1807.0,851.2 1807.5,849.8 1808.0,850.7 1808.5,851.6 1809.0,850.7 1809.5,850.5 1810.0,851.1 1810.5,850.2 1811.0,850.2 1811.5,851.2 1812.0,849.7 1812.5,849.8 1813.0,851.4 1813.5,849.5 1814.0,850.3 1814.5,850.7 1815.0,850.0 1815.5,849.3 1816.0,850.3 1816.5,849.4 1817.0,851.1 1817.5,851.3 1818.0,849.6 1818.5,850.3 1819.0,849.8 1819.5,850.6 1820.0,850.3 1820.5,849.9 1821.0,850.7 1821.5,849.7 1822.0,850.6 1822.5,850.4 1823.0,850.2 1823.5,851.0 1824.0,850.4 1824.5,850.1 1825.0,850.1 1825.5,850.1 1826.0,850.6 1826.5,849.9 1827.0,848.5 1827.5,848.4 1828.0,849.4 1828.5,849.5 1829.0,850.1 1829.5,849.6 1830.0,849.9 1830.5,851.0 1831.0,849.5 1831.5,850.6 1832.0,850.0 1832.5,850.7 1833.0,850.3 1833.5,849.8 1834.0,850.3 1834.5,849.8 1835.0,849.2 1835.5,850.1 1836.0,850.2 1836.5,850.0 1837.0,850.4 1837.5,850.0 1838.0,850.4 1838.5,850.2 1839.0,849.6 1839.5,850.4 1840.0,851.4 1840.5,851.0 1841.0,851.4 1841.5,850.5 1842.0,850.2 1842.5,849.8 1843.0,850.4 1843.5,850.8 1844.0,850.4 1844.5,850.4 1845.0,849.7 1845.5,850.0 1846.0,849.2 1846.5,850.3 1847.0,850.2 1847.5,849.6 1848.0,850.1 1848.5,848.9 1849.0,850.4 1849.5,849.6 1850.0,849.8 1850.5,850.6 1851.0,850.6 1851.5,850.0 1852.0,851.3 1852.5,851.6 1853.0,851.0 1853.5,851.1 1854.0,850.6 1854.5,851.4 1855.0,850.1 1855.5,849.9 1856.0,850.4 1856.5,850.2 1857.0,849.6 1857.5,851.3 1858.0,849.3 1858.5,848.8 1859.0,849.7 1859.5,850.9 1860.0,850.4 1860.5,850.3 1861.0,850.4 1861.5,850.7 1862.0,850.6 1862.5,850.5 1863.0,850.4 1863.5,849.5 1864.0,850.8 1864.5,850.1 1865.0,850.6 1865.5,850.5 1866.0,850.8 1866.5,849.8 1867.0,850.8 1867.5,850.8 1868.0,850.3 1868.5,850.4 1869.0,850.7 1869.5,850.0 1870.0,850.5 1870.5,850.1 1871.0,851.3 1871.5,850.1 1872.0,850.0 1872.5,850.7 1873.0,851.0 1873.5,850.3 1874.0,849.8 1874.5,850.5 1875.0,850.8 1875.5,849.6 1876.0,851.0 1876.5,849.3 1877.0,850.7 1877.5,850.2 1878.0,850.3 1878.5,850.8 1879.0,851.1 1879.5,851.5 1880.0,850.9 1880.5,850.6 1881.0,849.6 1881.5,849.9 1882.0,850.2 1882.5,849.8 1883.0,850.5 1883.5,850.2 1884.0,851.3 1884.5,850.2 1885.0,849.4 1885.5,849.9 1886.0,849.7 1886.5,850.6 1887.0,851.0 1887.5,850.9 1888.0,850.8 1888.5,849.8 1889.0,849.5 1889.5,849.7 1890.0,850.2 1890.5,850.0 1891.0,850.3 1891.5,850.6 1892.0,850.1 1892.5,851.1 1893.0,849.8 1893.5,850.6 1894.0,850.3 1894.5,850.8 1895.0,850.4 1895.5,850.1 1896.0,850.3 1896.5,849.8 1897.0,849.6 1897.5,850.7 1898.0,849.9 1898.5,850.8 1899.0,851.7 1899.5,850.0 1900.0,850.7 1900.5,850.4 1901.0,849.4 1901.5,850.3 1902.0,851.2 1902.5,849.9 1903.0,850.5 1903.5,850.4 1904.0,849.9 1904.5,850.6 1905.0,850.4 1905.5,850.7 1906.0,850.6 1906.5,849.8 1907.0,850.6 1907.5,851.0 1908.0,850.5 1908.5,851.1 1909.0,851.2 1909.5,849.7 1910.0,851.2 1910.5,849.7 1911.0,850.0 1911.5,850.8 1912.0,850.2 1912.5,850.2 1913.0,851.2 1913.5,849.9 1914.0,851.0 1914.5,851.4 1915.0,851.0 1915.5,849.6 1916.0,849.2 1916.5,850.1 1917.0,851.3 1917.5,850.0 1918.0,849.8 1918.5,850.1 1919.0,850.6 1919.5,851.0 1920.0,850.4 1920.5,850.5 1921.0,850.8 1921.5,850.6 1922.0,850.3 1922.5,849.6 1923.0,850.4 1923.5,850.2 1924.0,850.3 1924.5,850.1 1925.0,849.6 1925.5,850.7 1926.0,850.8 1926.5,850.4 1927.0,849.7 1927.5,850.3 1928.0,850.4 1928.5,850.1 1929.0,850.6 1929.5,849.4 1930.0,849.9 1930.5,851.0 1931.0,850.8 1931.5,850.3 1932.0,850.5 1932.5,851.7 1933.0,851.2 1933.5,850.0 1934.0,850.7 1934.5,850.2 1935.0,850.1 1935.5,849.8 1936.0,850.8 1936.5,851.4 1937.0,850.6 1937.5,849.4 1938.0,850.5 1938.5,849.4 1939.0,850.3 1939.5,850.8 1940.0,851.0 1940.5,850.3 1941.0,850.6 1941.5,850.5 1942.0,850.3 1942.5,851.2 1943.0,849.8 1943.5,849.6 1944.0,851.4 1944.5,851.4 1945.0,849.3 1945.5,850.7 1946.0,850.7 1946.5,850.1 1947.0,849.7 1947.5,850.5 1948.0,850.2 1948.5,850.9 1949.0,850.4 1949.5,851.3 1950.0,850.2 1950.5,851.5 1951.0,851.1 1951.5,851.3 1952.0,850.3 1952.5,850.4 1953.0,850.4 1953.5,851.1 1954.0,850.3 1954.5,850.2 1955.0,850.6 1955.5,850.9 1956.0,850.6 1956.5,850.7 1957.0,849.8 1957.5,850.3 1958.0,850.0 1958.5,851.0 1959.0,850.6 1959.5,850.8 1960.0,849.8 1960.5,850.5 1961.0,850.8 1961.5,850.0 1962.0,850.1 1962.5,850.2 1963.0,850.5 1963.5,850.4 1964.0,849.5 1964.5,850.4 1965.0,850.5 1965.5,850.4 1966.0,849.9 1966.5,850.5 1967.0,851.2 1967.5,851.3 1968.0,850.3 1968.5,851.6 1969.0,850.5 1969.5,850.1 1970.0,851.3 1970.5,850.7 1971.0,851.6 1971.5,850.2 1972.0,850.2 1972.5,850.5 1973.0,850.3 1973.5,849.8 1974.0,850.1 1974.5,850.0 1975.0,850.1 1975.5,850.2 1976.0,849.2 1976.5,850.6 1977.0,849.8 1977.5,849.8 1978.0,849.7 1978.5,849.8 1979.0,850.4 1979.5,850.2 1980.0,849.7 1980.5,849.7 1981.0,849.3 1981.5,849.3 1982.0,849.7 1982.5,849.4 1983.0,849.2 1983.5,849.6 1984.0,849.0 1984.5,850.6 1985.0,849.8 1985.5,849.2 1986.0,849.6 1986.5,848.8 1987.0,849.0 1987.5,849.7 1988.0,849.6 1988.5,848.2 1989.0,848.0 1989.5,847.9 1990.0,848.9 1990.5,847.7 1991.0,847.5 1991.5,846.7 1992.0,847.0 1992.5,846.1 1993.0,844.3 1993.5,843.4 1994.0,841.6 1994.5,839.4 1995.0,836.0 1995.5,831.0 1996.0,824.8 1996.5,816.8 1997.0,807.3 1997.5,796.8 1998.0,787.3 1998.5,780.8 1999.0,780.1 1999.5,784.6 2000.0,792.4 2000.5,801.3 2001.0,809.1 2001.5,814.6 2002.0,818.2 2002.5,818.9 2003.0,817.3 2003.5,815.0 2004.0,812.5 2004.5,811.3 2005.0,812.4 2005.5,816.4 2006.0,821.5 2006.5,827.1 2007.0,831.9 2007.5,836.2 2008.0,839.5 2008.5,841.6 2009.0,844.0 2009.5,845.3 2010.0,845.8 2010.5,847.2 2011.0,848.3 2011.5,847.1 2012.0,848.4 2012.5,848.8 2013.0,848.7 2013.5,848.5 2014.0,849.9 2014.5,848.7 2015.0,849.0 2015.5,848.8 2016.0,849.7 2016.5,848.1 2017.0,848.9 2017.5,849.2 2018.0,849.9 2018.5,850.0 2019.0,850.4 2019.5,849.9 2020.0,849.7 2020.5,850.0 2021.0,849.6 2021.5,849.9 2022.0,849.9 2022.5,850.2 2023.0,850.4 2023.5,849.4 2024.0,849.6 2024.5,849.9 2025.0,849.8 2025.5,849.6 2026.0,850.1 2026.5,849.8 2027.0,849.2 2027.5,850.9 2028.0,849.5 2028.5,851.1 2029.0,850.5 2029.5,850.6 2030.0,849.8 2030.5,850.6 2031.0,850.2 2031.5,849.7 2032.0,850.6 2032.5,850.6 2033.0,850.9 2033.5,849.6 2034.0,849.8 2034.5,851.1 2035.0,850.6 2035.5,850.9 2036.0,850.3 2036.5,850.8 2037.0,851.1 2037.5,850.0 2038.0,850.3 2038.5,851.0 2039.0,851.5 2039.5,850.4 2040.0,850.9 2040.5,850.0 2041.0,849.8 2041.5,850.8 2042.0,849.8 2042.5,850.2 2043.0,849.9 2043.5,850.6 2044.0,849.8 2044.5,849.7 2045.0,849.6 2045.5,850.3 2046.0,850.9 2046.5,850.7 2047.0,850.6 2047.5,850.4 2048.0,851.2 2048.5,850.5 2049.0,851.1 2049.5,851.3 2050.0,851.0 2050.5,850.9 2051.0,850.9 2051.5,850.6 2052.0,850.9 2052.5,850.2 2053.0,850.2 2053.5,851.6 2054.0,850.7 2054.5,849.8 2055.0,851.7 2055.5,851.7 2056.0,851.3 2056.5,850.2 2057.0,851.9 2057.5,851.4 2058.0,851.6 2058.5,850.7 2059.0,851.1 2059.5,850.6 2060.0,850.5 2060.5,850.0 2061.0,850.2 2061.5,850.3 2062.0,850.6 2062.5,851.0 2063.0,850.8"/>
<polyline fill="none" stroke="#0000ff" stroke-width="3.6" stroke-linejoin="round" shape-rendering="crispEdges" stroke-linecap="butt" points="140.0,477.6 140.5,474.2 141.0,476.2 141.5,475.4 142.0,475.4 142.5,475.7 143.0,474.4 143.5,475.6 144.0,475.0 144.5,478.0 145.0,475.5 145.5,475.5 146.0,475.6 146.5,475.2 147.0,475.0 147.5,475.6 148.0,476.3 148.5,475.8 149.0,476.7 149.5,475.8 150.0,475.7 150.5,476.7 151.0,476.0 151.5,475.1 152.0,475.2 152.5,475.7 153.0,476.8 153.5,475.1 154.0,475.2 154.5,476.3 155.0,475.1 155.5,475.6 156.0,476.6 156.5,476.4 157.0,476.0 157.5,476.3 158.0,473.7 158.5,476.6 159.0,474.9 159.5,474.2 160.0,475.4 160.5,475.4 161.0,474.6 161.5,474.2 162.0,474.9 162.5,474.9 163.0,475.9 163.5,475.3 164.0,474.9 164.5,475.7 165.0,474.9 165.5,474.2 166.0,475.2 166.5,475.4 167.0,474.7 167.5,474.4 168.0,475.4 168.5,473.4 169.0,475.9 169.5,475.6 170.0,473.6 170.5,475.2 171.0,474.4 171.5,475.8 172.0,473.6 172.5,474.4 173.0,475.6 173.5,475.8 174.0,473.3 174.5,474.7 175.0,475.2 175.5,474.5 176.0,476.1 176.5,474.1 177.0,475.3 177.5,474.2 178.0,476.2 178.5,475.2 179.0,474.6 179.5,473.6 180.0,476.2 180.5,475.3 181.0,475.1 181.5,475.4 182.0,474.9 182.5,474.1 183.0,474.0 183.5,474.3 184.0,476.1 184.5,473.8 185.0,474.4 185.5,474.5 186.0,475.1 186.5,475.3 187.0,473.9 187.5,473.5 188.0,474.7 188.5,475.5 189.0,475.2 189.5,475.1 190.0,474.7 190.5,475.0 191.0,474.6 191.5,475.4 192.0,474.1 192.5,474.7 193.0,474.6 193.5,475.1 194.0,474.6 194.5,476.6 195.0,476.1 195.5,476.3 196.0,473.4 196.5,474.8 197.0,474.6 197.5,475.6 198.0,473.5 198.5,476.3 199.0,476.1 199.5,474.0 200.0,474.1 200.5,474.2 201.0,474.8 201.5,475.4 202.0,476.4 202.5,474.6 203.0,475.3 203.5,474.8 204.0,476.1 204.5,475.4 205.0,476.0 205.5,474.0 206.0,474.8 206.5,474.4 207.0,476.0 207.5,475.3 208.0,474.4 208.5,474.1 209.0,474.7 209.5,473.7 210.0,473.5 210.5,474.5 211.0,476.0 211.5,474.2 212.0,473.9 212.5,473.6 213.0,473.8 213.5,475.1 214.0,475.3 214.5,474.6 215.0,474.7 215.5,474.6 216.0,474.4 216.5,473.2 217.0,473.9 217.5,474.1 218.0,473.5 218.5,473.7 219.0,473.5 219.5,473.8 220.0,474.6 220.5,473.7 221.0,473.7 221.5,474.5 222.0,474.2 222.5,474.9 223.0,472.0 223.5,474.3 224.0,473.4 224.5,473.9 225.0,474.4 225.5,474.7 226.0,474.5 226.5,474.1 227.0,475.4 227.5,473.9 228.0,474.1 228.5,474.8 229.0,473.7 229.5,475.9 230.0,475.1 230.5,476.0 231.0,474.4 231.5,474.0 232.0,474.4 232.5,474.9 233.0,473.7 233.5,474.5 234.0,474.3 234.5,475.6 235.0,473.7 235.5,475.1 236.0,474.0 236.5,473.9 237.0,473.9 237.5,473.8 238.0,474.8 238.5,475.3 239.0,474.7 239.5,475.3 240.0,475.7 240.5,474.4 241.0,474.2 241.5,474.2 242.0,473.1 242.5,474.9 243.0,472.9 243.5,474.7 244.0,473.9 244.5,475.1 245.0,474.2 245.5,473.8 246.0,474.6 246.5,474.0 247.0,474.6 247.5,475.0 248.0,474.8 248.5,474.9 249.0,474.5 249.5,475.0 250.0,473.4 250.5,474.9 251.0,474.0 251.5,475.6 252.0,475.2 252.5,472.8 253.0,474.7 253.5,474.5 254.0,473.9 254.5,475.2 255.0,474.4 255.5,473.5 256.0,474.8 256.5,475.3 257.0,475.5 257.5,474.3 258.0,475.7 258.5,475.8 259.0,474.5 259.5,475.0 260.0,475.5 260.5,475.2 261.0,476.8 261.5,475.5 262.0,474.6 262.5,474.7 263.0,475.3 263.5,476.9 264.0,475.0 264.5,475.2 265.0,475.4 265.5,475.2 266.0,477.2 266.5,475.1 267.0,476.2 267.5,475.8 268.0,476.3 268.5,475.0 269.0,477.3 269.5,475.9 270.0,476.1 270.5,475.4 271.0,475.6 271.5,476.9 272.0,477.3 272.5,477.1 273.0,477.6 273.5,477.4 274.0,477.1 274.5,477.9 275.0,477.7 275.5,477.5 276.0,477.8 276.5,478.1 277.0,477.3 277.5,476.7 278.0,477.3 278.5,478.2 279.0,476.7 279.5,476.8 280.0,476.5 280.5,477.7 281.0,475.4 281.5,477.2 282.0,478.2 282.5,476.9 283.0,478.6 283.5,477.8 284.0,477.0 284.5,477.5 285.0,476.0 285.5,476.8 286.0,478.4 286.5,476.2 287.0,478.1 287.5,476.5 288.0,477.3 288.5,476.7 289.0,475.0 289.5,476.5 290.0,477.0 290.5,476.0 291.0,476.0 291.5,477.1 292.0,476.5 292.5,475.7 293.0,476.5 293.5,477.6 294.0,476.5 294.5,477.5 295.0,477.9 295.5,476.8 296.0,476.0 296.5,475.8 297.0,476.8 297.5,477.4 298.0,476.8 298.5,477.1 299.0,476.4 299.5,477.0 300.0,476.5 300.5,476.6 301.0,476.1 301.5,475.8 302.0,476.8 302.5,476.5 303.0,476.6 303.5,477.7 304.0,477.2 304.5,479.3 305.0,478.0 305.5,476.5 306.0,477.6 306.5,477.1 307.0,476.4 307.5,477.6 308.0,476.2 308.5,474.3 309.0,477.2 309.5,475.9 310.0,477.6 310.5,475.8 311.0,475.4 311.5,477.3 312.0,475.5 312.5,476.5 313.0,477.7 313.5,476.6 314.0,476.5 314.5,476.4 315.0,476.9 315.5,475.8 316.0,476.9 316.5,476.7 317.0,478.0 317.5,475.9 318.0,475.2 318.5,476.6 319.0,476.0 319.5,476.6 320.0,476.3 320.5,477.3 321.0,475.9 321.5,476.4 322.0,474.5 322.5,475.7 323.0,477.3 323.5,475.7 324.0,475.5 324.5,475.1 325.0,476.2 325.5,475.8 326.0,474.6 326.5,476.0 327.0,475.7 327.5,476.1 328.0,475.0 328.5,476.9 329.0,476.1 329.5,475.6 330.0,475.4 330.5,475.6 331.0,476.4 331.5,475.6 332.0,476.7 332.5,476.2 333.0,476.6 333.5,476.0 334.0,475.4 334.5,474.0 335.0,475.7 335.5,476.2 336.0,475.8 336.5,475.8 337.0,475.0 337.5,474.8 338.0,474.3 338.5,475.9 339.0,474.7 339.5,474.3 340.0,473.3 340.5,474.1 341.0,475.6 341.5,474.9 342.0,474.2 342.5,476.1 343.0,476.1 343.5,476.0 344.0,475.7 344.5,476.1 345.0,475.7 345.5,475.7 346.0,474.5 346.5,476.2 347.0,475.2 347.5,476.6 348.0,473.5 348.5,475.6 349.0,475.9 349.5,474.9 350.0,475.4 350.5,475.5 351.0,475.3 351.5,474.5 352.0,474.8 352.5,475.6 353.0,476.0 353.5,474.9 354.0,474.9 354.5,475.1 355.0,476.0 355.5,474.5 356.0,474.2 356.5,475.3 357.0,474.4 357.5,474.6 358.0,475.2 358.5,475.3 359.0,474.2 359.5,475.7 360.0,473.6 360.5,475.3 361.0,473.7 361.5,474.0 362.0,475.6 362.5,474.8 363.0,474.6 363.5,474.9 364.0,475.4 364.5,475.0 365.0,475.0 365.5,475.7 366.0,474.3 366.5,474.4 367.0,474.4 367.5,475.6 368.0,475.4 368.5,475.7 369.0,474.6 369.5,474.5 370.0,475.4 370.5,474.5 371.0,475.4 371.5,475.2 372.0,474.0 372.5,474.4 373.0,474.3 373.5,475.8 374.0,476.6 374.5,474.6 375.0,474.5 375.5,472.7 376.0,474.6 376.5,474.6 377.0,474.0 377.5,475.5 378.0,473.8 378.5,474.9 379.0,475.1 379.5,474.0 380.0,475.7 380.5,476.0 381.0,474.2 381.5,474.0 382.0,475.6 382.5,474.8 383.0,473.9 383.5,474.5 384.0,474.8 384.5,475.0 385.0,475.4 385.5,475.1 386.0,476.1 386.5,475.9 387.0,475.5 387.5,475.7 388.0,476.1 388.5,475.7 389.0,473.9 389.5,475.7 390.0,474.9 390.5,475.8 391.0,474.5 391.5,474.7 392.0,474.4 392.5,475.6 393.0,474.2 393.5,474.1 394.0,474.6 394.5,474.4 395.0,475.1 395.5,475.3 396.0,475.5 396.5,477.0 397.0,475.0 397.5,475.3 398.0,475.2 398.5,476.0 399.0,474.5 399.5,475.0 400.0,475.3 400.5,475.7 401.0,475.4 401.5,475.1 402.0,475.0 402.5,476.0 403.0,476.4 403.5,475.4 404.0,475.2 404.5,475.7 405.0,474.7 405.5,475.2 406.0,475.3 406.5,475.9 407.0,475.8 407.5,474.9 408.0,476.5 408.5,477.0 409.0,475.3 409.5,475.6 410.0,475.6 410.5,475.9 411.0,474.1 411.5,476.3 412.0,474.9 412.5,476.4 413.0,475.5 413.5,475.4 414.0,475.7 414.5,476.4 415.0,474.9 415.5,475.3 416.0,475.2 416.5,474.0 417.0,476.1 417.5,475.5 418.0,475.1 418.5,476.1 419.0,474.3 419.5,474.9 420.0,476.4 420.5,475.8 421.0,473.4 421.5,472.8 422.0,474.6 422.5,476.1 423.0,474.9 423.5,475.2 424.0,476.1 424.5,474.6 425.0,475.5 425.5,476.1 426.0,475.9 426.5,475.8 427.0,474.8 427.5,475.7 428.0,475.1 428.5,476.2 429.0,477.1 429.5,474.6 430.0,473.5 430.5,474.9 431.0,475.7 431.5,476.4 432.0,476.3 432.5,474.9 433.0,475.1 433.5,476.8 434.0,475.0 434.5,476.8 435.0,475.5 435.5,476.2 436.0,476.1 436.5,476.1 437.0,476.3 437.5,475.0 438.0,475.8 438.5,475.6 439.0,475.7 439.5,476.3 440.0,475.2 440.5,474.7 441.0,474.7 441.5,474.8 442.0,475.4 442.5,474.4 443.0,476.1 443.5,475.3 444.0,474.9 444.5,473.9 445.0,475.0 445.5,475.4 446.0,473.6 446.5,475.5 447.0,475.6 447.5,474.4 448.0,474.4 448.5,475.7 449.0,475.0 449.5,473.4 450.0,473.9 450.5,473.6 451.0,473.4 451.5,471.7 452.0,473.1 452.5,471.9 453.0,471.5 453.5,470.6 454.0,470.0 454.5,468.2 455.0,466.7 455.5,465.8 456.0,464.7 456.5,462.7 457.0,462.0 457.5,461.1 458.0,460.9 458.5,462.4 459.0,462.8 459.5,465.1 460.0,466.0 460.5,467.8 461.0,468.3 461.5,469.7 462.0,471.5 462.5,471.8 463.0,472.4 463.5,472.7 464.0,473.6 464.5,472.8 465.0,473.3 465.5,473.9 466.0,473.6 466.5,473.7 467.0,474.3 467.5,474.4 468.0,474.5 468.5,476.1 469.0,476.0 469.5,476.2 470.0,475.5 470.5,475.4 471.0,474.9 471.5,475.8 472.0,474.8 472.5,475.7 473.0,476.6 473.5,477.3 474.0,477.0 474.5,475.7 475.0,476.7 475.5,475.9 476.0,476.9 476.5,476.2 477.0,477.0 477.5,478.2 478.0,476.8 478.5,477.8 479.0,476.2 479.5,475.9 480.0,476.9 480.5,477.3 481.0,475.7 481.5,476.2 482.0,475.3 482.5,476.3 483.0,477.2 483.5,476.5 484.0,476.1 484.5,475.6 485.0,476.8 485.5,477.2 486.0,477.1 486.5,476.8 487.0,475.7 487.5,477.9 488.0,476.6 488.5,476.7 489.0,477.4 489.5,475.4 490.0,476.9 490.5,476.7 491.0,477.0 491.5,477.6 492.0,477.1 492.5,475.6 493.0,476.6 493.5,477.0 494.0,476.9 494.5,475.8 495.0,475.7 495.5,477.4 496.0,477.3 496.5,477.0 497.0,475.7 497.5,478.3 498.0,475.2 498.5,476.8 499.0,478.7 499.5,476.9 500.0,477.0 500.5,476.1 501.0,478.1 501.5,476.0 502.0,477.0 502.5,477.0 503.0,476.2 503.5,477.7 504.0,476.1 504.5,476.8 505.0,477.1 505.5,476.7 506.0,477.5 506.5,477.9 507.0,476.9 507.5,476.7 508.0,476.8 508.5,476.9 509.0,477.6 509.5,476.8 510.0,477.1 510.5,476.7 511.0,476.2 511.5,477.4 512.0,476.0 512.5,476.8 513.0,478.1 513.5,476.2 514.0,477.1 514.5,475.9 515.0,476.7 515.5,476.0 516.0,477.1 516.5,477.0 517.0,477.4 517.5,478.3 518.0,477.5 518.5,477.7 519.0,477.5 519.5,477.5 520.0,477.0 520.5,476.2 521.0,477.7 521.5,478.9 522.0,478.1 522.5,477.4 523.0,479.0 523.5,477.6 524.0,477.3 524.5,477.0 525.0,477.1 525.5,477.4 526.0,478.9 526.5,477.5 527.0,476.9 527.5,477.1 528.0,477.3 528.5,476.2 529.0,477.6 529.5,478.0 530.0,477.8 530.5,478.0 531.0,476.9 531.5,476.6 532.0,478.9 532.5,478.8 533.0,476.8 533.5,478.1 534.0,478.0 534.5,478.4 535.0,478.3 535.5,477.4 536.0,478.0 536.5,477.8 537.0,477.6 537.5,476.5 538.0,475.5 538.5,477.0 539.0,476.4 539.5,477.7 540.0,478.0 540.5,477.5 541.0,477.2 541.5,477.6 542.0,478.3 542.5,477.0 543.0,478.3 543.5,478.3 544.0,478.0 544.5,478.8 545.0,477.5 545.5,478.5 546.0,477.3 546.5,477.4 547.0,477.3 547.5,478.3 548.0,477.2 548.5,478.0 549.0,477.4 549.5,479.1 550.0,479.8 550.5,478.6 551.0,479.9 551.5,479.2 552.0,480.3 552.5,478.8 553.0,477.8 553.5,480.0 554.0,478.8 554.5,478.1 555.0,478.3 555.5,477.3 556.0,478.3 556.5,477.7 557.0,479.6 557.5,478.7 558.0,477.0 558.5,476.9 559.0,477.4 559.5,476.4 560.0,477.8 560.5,477.9 561.0,477.1 561.5,477.1 562.0,478.1 562.5,478.5 563.0,478.6 563.5,477.7 564.0,478.4 564.5,477.1 565.0,477.7 565.5,477.0 566.0,478.3 566.5,476.9 567.0,477.3 567.5,478.1 568.0,478.7 568.5,477.2 569.0,477.9 569.5,478.5 570.0,478.7 570.5,477.7 571.0,478.4 571.5,478.0 572.0,479.4 572.5,478.6 573.0,477.5 573.5,476.9 574.0,478.5 574.5,479.0 575.0,478.4 575.5,478.9 576.0,477.8 576.5,477.1 577.0,478.6 577.5,478.2 578.0,478.6 578.5,477.0 579.0,478.4 579.5,477.9 580.0,479.1 580.5,478.3 581.0,478.1 581.5,478.2 582.0,479.4 582.5,478.7 583.0,478.2 583.5,477.9 584.0,477.9 584.5,479.7 585.0,477.5 585.5,478.2 586.0,479.1 586.5,479.4 587.0,478.6 587.5,479.2 588.0,479.5 588.5,479.9 589.0,478.9 589.5,479.9 590.0,479.1 590.5,480.1 591.0,478.1 591.5,479.4 592.0,478.0 592.5,477.7 593.0,478.9 593.5,478.2 594.0,479.2 594.5,478.3 595.0,480.3 595.5,479.4 596.0,478.7 596.5,479.6 597.0,480.0 597.5,478.6 598.0,479.6 598.5,480.3 599.0,479.4 599.5,478.6 600.0,478.2 600.5,478.9 601.0,477.3 601.5,476.2 602.0,478.0 602.5,477.8 603.0,480.0 603.5,478.8 604.0,478.3 604.5,478.0 605.0,479.1 605.5,478.2 606.0,478.5 606.5,478.9 607.0,478.9 607.5,478.9 608.0,478.9 608.5,479.8 609.0,480.2 609.5,478.0 610.0,480.9 610.5,479.1 611.0,479.8 611.5,478.4 612.0,479.2 612.5,479.2 613.0,479.1 613.5,479.5 614.0,479.3 614.5,478.2 615.0,478.9 615.5,479.5 616.0,479.5 616.5,478.8 617.0,478.9 617.5,478.9 618.0,478.2 618.5,478.3 619.0,480.3 619.5,478.9 620.0,479.2 620.5,478.7 621.0,479.9 621.5,480.4 622.0,479.1 622.5,479.6 623.0,478.7 623.5,480.4 624.0,479.7 624.5,478.7 625.0,480.1 625.5,479.7 626.0,479.6 626.5,479.4 627.0,479.0 627.5,479.0 628.0,479.9 628.5,479.6 629.0,478.8 629.5,480.8 630.0,479.1 630.5,479.1 631.0,479.2 631.5,479.9 632.0,480.2 632.5,479.9 633.0,480.2 633.5,478.7 634.0,479.5 634.5,479.4 635.0,479.6 635.5,479.8 636.0,478.2 636.5,481.6 637.0,478.6 637.5,479.4 638.0,479.6 638.5,479.7 639.0,479.3 639.5,477.2 640.0,478.3 640.5,479.5 641.0,478.3 641.5,478.4 642.0,477.5 642.5,480.0 643.0,479.4 643.5,478.5 644.0,478.9 644.5,479.1 645.0,478.6 645.5,479.2 646.0,479.6 646.5,480.0 647.0,480.5 647.5,479.8 648.0,479.6 648.5,480.1 649.0,479.4 649.5,479.1 650.0,480.8 650.5,479.7 651.0,480.0 651.5,480.2 652.0,479.2 652.5,480.4 653.0,480.4 653.5,479.9 654.0,480.0 654.5,479.3 655.0,478.3 655.5,479.4 656.0,479.2 656.5,480.3 657.0,479.8 657.5,479.2 658.0,479.6 658.5,480.6 659.0,480.4 659.5,479.8 660.0,479.8 660.5,479.3 661.0,479.4 661.5,480.0 662.0,479.4 662.5,479.8 663.0,478.9 663.5,478.5 664.0,478.5 664.5,479.7 665.0,480.8 665.5,480.7 666.0,479.2 666.5,478.8 667.0,480.5 667.5,480.2 668.0,479.0 668.5,480.6 669.0,479.8 669.5,480.6 670.0,480.0 670.5,480.3 671.0,480.1 671.5,479.2 672.0,479.7 672.5,479.6 673.0,480.7 673.5,479.5 674.0,479.0 674.5,480.6 675.0,480.8 675.5,480.8 676.0,480.6 676.5,478.8 677.0,479.3 677.5,479.5 678.0,479.8 678.5,478.6 679.0,480.0 679.5,480.5 680.0,479.7 680.5,480.6 681.0,481.4 681.5,480.5 682.0,481.0 682.5,480.9 683.0,480.3 683.5,480.3 684.0,479.8 684.5,481.0 685.0,479.6 685.5,479.3 686.0,480.4 686.5,479.4 687.0,480.1 687.5,480.4 688.0,479.6 688.5,479.8 689.0,480.2 689.5,480.3 690.0,479.0 690.5,479.0 691.0,480.8 691.5,480.3 692.0,479.0 692.5,479.4 693.0,480.0 693.5,479.5 694.0,480.3 694.5,480.0 695.0,480.4 695.5,479.3 696.0,480.5 696.5,481.3 697.0,479.5 697.5,481.0 698.0,480.4 698.5,480.3 699.0,479.7 699.5,479.0 700.0,479.2 700.5,480.2 701.0,480.6 701.5,480.8 702.0,480.7 702.5,480.7 703.0,479.9 703.5,479.4 704.0,480.2 704.5,480.3 705.0,480.0 705.5,478.8 706.0,479.3 706.5,478.9 707.0,479.9 707.5,479.3 708.0,479.9 708.5,480.4 709.0,480.5 709.5,481.3 710.0,479.8 710.5,479.3 711.0,481.2 711.5,481.5 712.0,481.4 712.5,480.5 713.0,480.7 713.5,480.3 714.0,479.6 714.5,480.0 715.0,480.6 715.5,479.9 716.0,481.5 716.5,479.4 717.0,480.2 717.5,481.2 718.0,480.1 718.5,479.7 719.0,479.6 719.5,480.2 720.0,481.7 720.5,480.9 721.0,480.9 721.5,480.2 722.0,481.0 722.5,480.6 723.0,480.0 723.5,480.3 724.0,480.6 724.5,481.3 725.0,480.6 725.5,481.1 726.0,482.1 726.5,480.2 727.0,479.8 727.5,481.2 728.0,480.7 728.5,480.4 729.0,480.6 729.5,480.3 730.0,480.8 730.5,480.2 731.0,481.1 731.5,479.9 732.0,480.1 732.5,480.8 733.0,480.4 733.5,481.2 734.0,480.5 734.5,480.3 735.0,480.9 735.5,480.3 736.0,479.6 736.5,479.9 737.0,480.2 737.5,480.3 738.0,480.8 738.5,481.5 739.0,481.2 739.5,482.1 740.0,481.8 740.5,480.7 741.0,481.9 741.5,481.8 742.0,480.6 742.5,480.9 743.0,481.4 743.5,480.8 744.0,481.2 744.5,480.5 745.0,480.9 745.5,480.3 746.0,480.8 746.5,480.3 747.0,481.0 747.5,479.5 748.0,480.8 748.5,481.4 749.0,481.2 749.5,480.7 750.0,481.0 750.5,480.0 751.0,480.2 751.5,480.3 752.0,480.7 752.5,481.3 753.0,480.2 753.5,481.3 754.0,479.8 754.5,480.2 755.0,480.7 755.5,481.3 756.0,480.3 756.5,479.2 757.0,480.8 757.5,480.6 758.0,480.1 758.5,480.1 759.0,480.4 759.5,480.9 760.0,481.5 760.5,480.2 761.0,482.4 761.5,480.9 762.0,480.4 762.5,481.0 763.0,480.5 763.5,481.9 764.0,481.3 764.5,480.1 765.0,480.1 765.5,480.1 766.0,480.2 766.5,481.2 767.0,480.4 767.5,481.9 768.0,480.8 768.5,480.6 769.0,481.4 769.5,479.4 770.0,480.2 770.5,481.1 771.0,480.5 771.5,480.6 772.0,480.8 772.5,480.1 773.0,480.4 773.5,479.6 774.0,479.2 774.5,481.1 775.0,479.9 775.5,480.2 776.0,481.5 776.5,481.5 777.0,480.5 777.5,480.5 778.0,480.9 778.5,480.5 779.0,481.5 779.5,481.3 780.0,481.2 780.5,481.6 781.0,481.4 781.5,482.1 782.0,481.9 782.5,479.7 783.0,481.3 783.5,480.1 784.0,479.9 784.5,481.4 785.0,480.3 785.5,480.7 786.0,481.7 786.5,480.7 787.0,480.6 787.5,481.4 788.0,481.6 788.5,481.3 789.0,479.9 789.5,480.8 790.0,481.3 790.5,482.4 791.0,481.8 791.5,481.6 792.0,481.8 792.5,481.0 793.0,481.6 793.5,481.7 794.0,480.8 794.5,481.3 795.0,481.7 795.5,480.6 796.0,482.0 796.5,482.0 797.0,482.3 797.5,481.0 798.0,481.3 798.5,481.9 799.0,481.7 799.5,480.8 800.0,481.4 800.5,482.1 801.0,481.3 801.5,481.5 802.0,482.9 802.5,481.2 803.0,481.2 803.5,480.4 804.0,480.6 804.5,482.0 805.0,481.1 805.5,480.4 806.0,480.6 806.5,481.1 807.0,481.9 807.5,481.0 808.0,482.1 808.5,481.2 809.0,481.7 809.5,481.8 810.0,481.9 810.5,481.2 811.0,481.3 811.5,481.6 812.0,480.6 812.5,481.4 813.0,481.5 813.5,481.7 814.0,481.0 814.5,480.8 815.0,481.1 815.5,480.7 816.0,481.0 816.5,481.2 817.0,481.1 817.5,480.3 818.0,480.8 818.5,479.6 819.0,481.4 819.5,480.4 820.0,481.0 820.5,480.2 821.0,481.0 821.5,481.4 822.0,482.0 822.5,480.5 823.0,482.1 823.5,481.4 824.0,481.2 824.5,481.9 825.0,481.2 825.5,481.1 826.0,480.8 826.5,481.2 827.0,481.1 827.5,480.9 828.0,480.3 828.5,480.6 829.0,481.2 829.5,482.0 830.0,481.3 830.5,482.1 831.0,481.1 831.5,480.5 832.0,481.5 832.5,480.6 833.0,481.4 833.5,481.8 834.0,480.9 834.5,481.1 835.0,482.7 835.5,481.4 836.0,481.5 836.5,481.9 837.0,481.2 837.5,481.2 838.0,481.4 838.5,479.6 839.0,481.8 839.5,480.3 840.0,480.4 840.5,481.4 841.0,480.9 841.5,480.3 842.0,481.3 842.5,480.5 843.0,481.1 843.5,480.6 844.0,481.2 844.5,481.7 845.0,481.4 845.5,481.6 846.0,481.9 846.5,481.1 847.0,480.7 847.5,481.0 848.0,482.1 848.5,481.0 849.0,481.5 849.5,481.1 850.0,481.4 850.5,481.7 851.0,481.6 851.5,481.4 852.0,480.7 852.5,480.7 853.0,481.5 853.5,481.6 854.0,481.7 854.5,481.1 855.0,480.5 855.5,481.4 856.0,481.4 856.5,480.3 857.0,481.9 857.5,481.7 858.0,482.4 858.5,480.6 859.0,480.6 859.5,481.8 860.0,480.3 860.5,481.0 861.0,480.8 861.5,480.8 862.0,480.2 862.5,481.2 863.0,482.1 863.5,481.7 864.0,481.7 864.5,481.3 865.0,482.4 865.5,481.9 866.0,482.3 866.5,480.7 867.0,481.8 867.5,480.8 868.0,481.8 868.5,481.7 869.0,480.8 869.5,481.7 870.0,482.2 870.5,481.6 871.0,481.7 871.5,480.9 872.0,481.0 872.5,480.8 873.0,481.6 873.5,482.1 874.0,481.5 874.5,481.3 875.0,480.8 875.5,481.7 876.0,481.3 876.5,480.3 877.0,480.4 877.5,481.1 878.0,480.8 878.5,482.3 879.0,481.3 879.5,480.5 880.0,481.0 880.5,482.3 881.0,480.8 881.5,481.8 882.0,481.7 882.5,482.4 883.0,481.8 883.5,481.3 884.0,481.8 884.5,481.5 885.0,482.1 885.5,481.5 886.0,482.7 886.5,481.3 887.0,481.6 887.5,481.0 888.0,481.5 888.5,481.4 889.0,481.4 889.5,481.8 890.0,480.8 890.5,480.4 891.0,481.7 891.5,480.7 892.0,480.4 892.5,481.3 893.0,481.2 893.5,479.1 894.0,480.4 894.5,481.3 895.0,481.3 895.5,480.5 896.0,481.8 896.5,480.3 897.0,480.6 897.5,480.9 898.0,480.8 898.5,481.2 899.0,481.3 899.5,480.6 900.0,481.5 900.5,480.3 901.0,480.6 901.5,481.8 902.0,480.8 902.5,481.3 903.0,480.4 903.5,480.3 904.0,480.6 904.5,480.8 905.0,480.5 905.5,480.8 906.0,481.1 906.5,481.5 907.0,480.7 907.5,481.1 908.0,481.4 908.5,480.2 909.0,479.9 909.5,481.8 910.0,481.7 910.5,481.1 911.0,481.1 911.5,480.4 912.0,480.2 912.5,481.1 913.0,480.1 913.5,481.3 914.0,480.5 914.5,481.0 915.0,482.0 915.5,482.0 916.0,480.8 916.5,481.5 917.0,480.3 917.5,480.4 918.0,481.1 918.5,481.6 919.0,480.3 919.5,480.8 920.0,480.6 920.5,479.9 921.0,480.5 921.5,481.6 922.0,480.7 922.5,480.9 923.0,481.1 923.5,480.4 924.0,481.4 924.5,481.5 925.0,481.5 925.5,481.2 926.0,480.0 926.5,480.0 927.0,480.0 927.5,480.0 928.0,479.9 928.5,480.6 929.0,480.8 929.5,479.7 930.0,480.4 930.5,479.4 931.0,479.7 931.5,479.2 932.0,478.6 932.5,479.4 933.0,479.5 933.5,479.3 934.0,479.1 934.5,478.8 935.0,479.1 935.5,478.9 936.0,479.2 936.5,478.5 937.0,479.2 937.5,479.3 938.0,479.5 938.5,479.4 939.0,478.8 939.5,478.4 940.0,477.7 940.5,478.6 941.0,479.1 941.5,479.2 942.0,477.0 942.5,477.7 943.0,477.7 943.5,477.3 944.0,477.7 944.5,477.5 945.0,477.1 945.5,477.2 946.0,476.5 946.5,476.7 947.0,476.7 947.5,477.5 948.0,476.3 948.5,476.8 949.0,477.1 949.5,476.6 950.0,476.8 950.5,475.9 951.0,476.1 951.5,476.0 952.0,476.2 952.5,475.3 953.0,475.2 953.5,474.4 954.0,474.1 954.5,474.2 955.0,473.4 955.5,473.3 956.0,472.6 956.5,472.6 957.0,472.2 957.5,470.6 958.0,470.9 958.5,469.9 959.0,469.2 959.5,468.3 960.0,467.7 960.5,466.3 961.0,465.5 961.5,464.4 962.0,463.6 962.5,462.5 963.0,461.1 963.5,459.5 964.0,457.7 964.5,455.7 965.0,454.2 965.5,452.0 966.0,449.7 966.5,447.4 967.0,444.3 967.5,441.2 968.0,437.6 968.5,434.4 969.0,430.4 969.5,426.2 970.0,421.9 970.5,417.1 971.0,412.5 971.5,408.0 972.0,403.3 972.5,399.1 973.0,395.5 973.5,392.6 974.0,390.7 974.5,390.0 975.0,390.2 975.5,391.7 976.0,394.1 976.5,397.5 977.0,401.3 977.5,405.8 978.0,410.7 978.5,415.5 979.0,419.9 979.5,424.5 980.0,428.9 980.5,432.7 981.0,436.8 981.5,439.9 982.0,443.0 982.5,445.7 983.0,449.1 983.5,451.2 984.0,453.7 984.5,455.2 985.0,457.2 985.5,458.8 986.0,460.4 986.5,462.2 987.0,463.5 987.5,464.3 988.0,465.0 988.5,466.3 989.0,467.5 989.5,468.1 990.0,468.9 990.5,469.6 991.0,470.0 991.5,470.9 992.0,472.0 992.5,471.6 993.0,472.5 993.5,473.2 994.0,472.7 994.5,473.5 995.0,473.3 995.5,474.0 996.0,474.0 996.5,474.5 997.0,474.9 997.5,475.1 998.0,475.2 998.5,474.7 999.0,476.5 999.5,475.8 1000.0,475.5 1000.5,475.9 1001.0,476.5 1001.5,476.2 1002.0,476.7 1002.5,477.0 1003.0,477.6 1003.5,477.3 1004.0,478.0 1004.5,478.0 1005.0,478.1 1005.5,479.0 1006.0,478.4 1006.5,477.9 1007.0,478.8 1007.5,478.8 1008.0,478.7 1008.5,478.9 1009.0,480.2 1009.5,479.1 1010.0,479.1 1010.5,478.8 1011.0,479.8 1011.5,479.0 1012.0,478.7 1012.5,478.6 1013.0,479.7 1013.5,479.8 1014.0,478.7 1014.5,479.3 1015.0,480.1 1015.5,480.2 1016.0,479.1 1016.5,479.7 1017.0,480.4 1017.5,479.6 1018.0,479.8 1018.5,479.9 1019.0,479.5 1019.5,480.1 1020.0,480.4 1020.5,479.5 1021.0,480.4 1021.5,480.9 1022.0,480.4 1022.5,480.6 1023.0,479.6 1023.5,480.8 1024.0,479.9 1024.5,481.4 1025.0,480.1 1025.5,479.9 1026.0,480.1 1026.5,480.5 1027.0,480.7 1027.5,480.6 1028.0,480.7 1028.5,481.1 1029.0,481.4 1029.5,480.7 1030.0,481.6 1030.5,480.2 1031.0,480.1 1031.5,480.2 1032.0,481.1 1032.5,480.0 1033.0,480.0 1033.5,481.5 1034.0,481.8 1034.5,481.5 1035.0,479.9 1035.5,480.8 1036.0,481.3 1036.5,481.0 1037.0,480.0 1037.5,480.7 1038.0,479.8 1038.5,479.9 1039.0,481.9 1039.5,481.1 1040.0,479.9 1040.5,479.9 1041.0,480.9 1041.5,480.2 1042.0,481.0 1042.5,480.3 1043.0,480.5 1043.5,480.8 1044.0,480.1 1044.5,479.4 1045.0,479.8 1045.5,480.3 1046.0,480.6 1046.5,480.7 1047.0,480.8 1047.5,481.3 1048.0,480.7 1048.5,482.0 1049.0,482.5 1049.5,481.6 1050.0,481.4 1050.5,482.0 1051.0,481.6 1051.5,481.3 1052.0,481.1 1052.5,480.5 1053.0,480.2 1053.5,481.1 1054.0,481.4 1054.5,480.1 1055.0,480.6 1055.5,481.0 1056.0,480.6 1056.5,480.3 1057.0,480.6 1057.5,479.7 1058.0,480.8 1058.5,480.9 1059.0,482.2 1059.5,481.6 1060.0,480.7 1060.5,481.0 1061.0,482.1 1061.5,482.0 1062.0,481.2 1062.5,480.9 1063.0,480.0 1063.5,480.8 1064.0,480.7 1064.5,480.4 1065.0,481.7 1065.5,479.5 1066.0,480.5 1066.5,480.8 1067.0,480.7 1067.5,481.3 1068.0,479.6 1068.5,480.1 1069.0,480.7 1069.5,480.9 1070.0,480.8 1070.5,480.8 1071.0,482.0 1071.5,480.9 1072.0,481.2 1072.5,482.2 1073.0,482.4 1073.5,481.8 1074.0,480.7 1074.5,480.7 1075.0,480.4 1075.5,480.2 1076.0,480.5 1076.5,481.5 1077.0,480.8 1077.5,480.2 1078.0,480.1 1078.5,480.0 1079.0,481.2 1079.5,479.5 1080.0,480.7 1080.5,479.7 1081.0,480.1 1081.5,479.9 1082.0,481.3 1082.5,480.8 1083.0,482.2 1083.5,480.2 1084.0,480.2 1084.5,481.3 1085.0,481.2 1085.5,480.6 1086.0,479.5 1086.5,481.3 1087.0,480.7 1087.5,480.6 1088.0,480.0 1088.5,480.7 1089.0,480.0 1089.5,480.3 1090.0,480.2 1090.5,481.2 1091.0,480.2 1091.5,480.3 1092.0,481.2 1092.5,480.6 1093.0,480.5 1093.5,480.3 1094.0,481.0 1094.5,480.1 1095.0,480.7 1095.5,481.4 1096.0,480.7 1096.5,480.0 1097.0,479.8 1097.5,480.4 1098.0,479.7 1098.5,479.5 1099.0,479.8 1099.5,479.7 1100.0,480.7 1100.5,479.4 1101.0,480.9 1101.5,479.7 1102.0,480.1 1102.5,480.3 1103.0,479.9 1103.5,480.1 1104.0,479.1 1104.5,478.2 1105.0,479.2 1105.5,478.2 1106.0,478.7 1106.5,479.4 1107.0,478.7 1107.5,478.5 1108.0,478.1 1108.5,478.4 1109.0,478.4 1109.5,477.7 1110.0,478.5 1110.5,477.7 1111.0,478.0 1111.5,477.4 1112.0,477.9 1112.5,477.6 1113.0,477.2 1113.5,477.0 1114.0,477.0 1114.5,477.2 1115.0,476.8 1115.5,476.2 1116.0,476.2 1116.5,476.4 1117.0,475.0 1117.5,475.5 1118.0,474.6 1118.5,475.1 1119.0,474.2 1119.5,474.1 1120.0,473.3 1120.5,473.3 1121.0,473.2 1121.5,473.0 1122.0,471.6 1122.5,471.3 1123.0,472.2 1123.5,470.6 1124.0,469.8 1124.5,469.4 1125.0,468.0 1125.5,468.5 1126.0,467.6 1126.5,466.5 1127.0,466.6 1127.5,465.4 1128.0,464.6 1128.5,464.3 1129.0,463.5 1129.5,462.7 1130.0,462.1 1130.5,461.2 1131.0,460.5 1131.5,460.5 1132.0,460.2 1132.5,459.7 1133.0,459.3 1133.5,459.0 1134.0,459.0 1134.5,458.8 1135.0,459.5 1135.5,459.3 1136.0,459.8 1136.5,460.1 1137.0,460.3 1137.5,461.5 1138.0,461.6 1138.5,462.1 1139.0,463.0 1139.5,463.3 1140.0,464.3 1140.5,464.8 1141.0,465.8 1141.5,466.3 1142.0,466.7 1142.5,467.9 1143.0,468.3 1143.5,468.6 1144.0,469.7 1144.5,470.2 1145.0,471.3 1145.5,471.0 1146.0,472.1 1146.5,472.4 1147.0,473.0 1147.5,473.1 1148.0,473.7 1148.5,474.3 1149.0,474.0 1149.5,474.0 1150.0,475.2 1150.5,475.5 1151.0,475.8 1151.5,476.4 1152.0,476.4 1152.5,477.1 1153.0,476.9 1153.5,477.1 1154.0,477.7 1154.5,477.7 1155.0,477.6 1155.5,477.9 1156.0,477.8 1156.5,478.0 1157.0,478.6 1157.5,479.1 1158.0,478.8 1158.5,479.6 1159.0,480.4 1159.5,480.5 1160.0,479.7 1160.5,480.2 1161.0,480.1 1161.5,480.2 1162.0,480.5 1162.5,480.5 1163.0,480.6 1163.5,480.4 1164.0,480.3 1164.5,480.5 1165.0,480.6 1165.5,481.0 1166.0,480.8 1166.5,481.0 1167.0,481.3 1167.5,480.3 1168.0,480.5 1168.5,481.0 1169.0,480.9 1169.5,480.7 1170.0,481.8 1170.5,481.1 1171.0,480.5 1171.5,482.0 1172.0,480.4 1172.5,481.2 1173.0,480.8 1173.5,481.2 1174.0,481.3 1174.5,480.7 1175.0,481.2 1175.5,481.3 1176.0,481.0 1176.5,482.1 1177.0,481.6 1177.5,481.5 1178.0,481.1 1178.5,481.5 1179.0,481.8 1179.5,481.5 1180.0,482.5 1180.5,480.4 1181.0,480.6 1181.5,481.7 1182.0,480.9 1182.5,482.1 1183.0,481.8 1183.5,482.5 1184.0,482.4 1184.5,482.8 1185.0,482.6 1185.5,482.9 1186.0,482.6 1186.5,482.9 1187.0,482.6 1187.5,481.9 1188.0,481.5 1188.5,481.6 1189.0,482.7 1189.5,481.2 1190.0,482.6 1190.5,482.1 1191.0,482.8 1191.5,482.5 1192.0,482.1 1192.5,482.4 1193.0,481.2 1193.5,482.5 1194.0,482.7 1194.5,481.5 1195.0,483.0 1195.5,482.4 1196.0,482.4 1196.5,481.5 1197.0,482.8 1197.5,482.6 1198.0,482.3 1198.5,481.9 1199.0,482.8 1199.5,483.4 1200.0,483.0 1200.5,483.5 1201.0,482.7 1201.5,483.1 1202.0,483.4 1202.5,483.2 1203.0,484.7 1203.5,483.4 1204.0,482.5 1204.5,483.4 1205.0,482.5 1205.5,483.4 1206.0,483.6 1206.5,482.9 1207.0,483.0 1207.5,482.6 1208.0,483.3 1208.5,482.7 1209.0,483.9 1209.5,483.3 1210.0,482.8 1210.5,482.2 1211.0,484.0 1211.5,483.5 1212.0,483.1 1212.5,482.9 1213.0,483.0 1213.5,482.6 1214.0,483.9 1214.5,482.9 1215.0,481.9 1215.5,482.6 1216.0,481.5 1216.5,483.2 1217.0,483.4 1217.5,484.1 1218.0,484.4 1218.5,483.0 1219.0,483.6 1219.5,484.0 1220.0,483.7 1220.5,483.1 1221.0,484.1 1221.5,483.9 1222.0,484.4 1222.5,483.3 1223.0,483.1 1223.5,483.1 1224.0,483.2 1224.5,483.0 1225.0,483.1 1225.5,483.5 1226.0,483.4 1226.5,483.6 1227.0,483.7 1227.5,483.5 1228.0,482.4 1228.5,483.2 1229.0,483.6 1229.5,482.1 1230.0,482.3 1230.5,482.5 1231.0,482.4 1231.5,482.8 1232.0,482.5 1232.5,483.3 1233.0,482.5 1233.5,483.1 1234.0,482.9 1234.5,482.7 1235.0,483.7 1235.5,483.3 1236.0,483.7 1236.5,483.2 1237.0,483.8 1237.5,483.8 1238.0,483.4 1238.5,482.6 1239.0,484.0 1239.5,484.0 1240.0,483.7 1240.5,483.7 1241.0,483.5 1241.5,483.6 1242.0,483.0 1242.5,483.6 1243.0,483.9 1243.5,483.3 1244.0,483.1 1244.5,484.6 1245.0,484.0 1245.5,483.5 1246.0,483.3 1246.5,482.1 1247.0,482.6 1247.5,483.2 1248.0,484.2 1248.5,482.4 1249.0,483.2 1249.5,484.5 1250.0,483.9 1250.5,483.8 1251.0,484.2 1251.5,483.7 1252.0,483.5 1252.5,483.8 1253.0,483.9 1253.5,482.8 1254.0,484.1 1254.5,482.4 1255.0,483.0 1255.5,485.1 1256.0,483.0 1256.5,483.9 1257.0,482.9 1257.5,483.3 1258.0,483.1 1258.5,483.7 1259.0,484.3 1259.5,484.9 1260.0,484.5 1260.5,485.0 1261.0,483.8 1261.5,485.2 1262.0,484.5 1262.5,485.0 1263.0,483.7 1263.5,484.0 1264.0,484.9 1264.5,484.3 1265.0,484.0 1265.5,483.4 1266.0,483.7 1266.5,484.1 1267.0,484.1 1267.5,483.4 1268.0,483.5 1268.5,483.9 1269.0,483.0 1269.5,484.2 1270.0,483.9 1270.5,483.7 1271.0,482.6 1271.5,483.0 1272.0,483.4 1272.5,483.5 1273.0,483.2 1273.5,484.2 1274.0,484.0 1274.5,483.7 1275.0,482.7 1275.5,484.6 1276.0,483.6 1276.5,484.3 1277.0,483.4 1277.5,484.0 1278.0,484.1 1278.5,483.7 1279.0,484.1 1279.5,483.6 1280.0,484.8 1280.5,482.7 1281.0,483.3 1281.5,484.4 1282.0,483.6 1282.5,483.5 1283.0,482.9 1283.5,484.6 1284.0,482.8 1284.5,484.2 1285.0,483.9 1285.5,484.4 1286.0,484.8 1286.5,483.6 1287.0,483.6 1287.5,483.9 1288.0,483.1 1288.5,484.6 1289.0,483.9 1289.5,484.3 1290.0,483.6 1290.5,483.9 1291.0,483.8 1291.5,484.2 1292.0,483.5 1292.5,484.6 1293.0,483.6 1293.5,482.6 1294.0,484.4 1294.5,483.9 1295.0,483.7 1295.5,485.6 1296.0,484.2 1296.5,483.5 1297.0,484.1 1297.5,484.6 1298.0,484.1 1298.5,485.0 1299.0,484.8 1299.5,483.7 1300.0,484.0 1300.5,484.4 1301.0,483.9 1301.5,483.7 1302.0,484.5 1302.5,484.3 1303.0,483.2 1303.5,483.7 1304.0,483.7 1304.5,483.7 1305.0,483.3 1305.5,484.3 1306.0,483.0 1306.5,483.1 1307.0,483.9 1307.5,482.5 1308.0,483.2 1308.5,484.1 1309.0,483.1 1309.5,483.4 1310.0,484.7 1310.5,484.4 1311.0,484.0 1311.5,484.1 1312.0,483.7 1312.5,484.3 1313.0,484.1 1313.5,485.9 1314.0,484.7 1314.5,484.1 1315.0,484.1 1315.5,484.4 1316.0,483.6 1316.5,483.7 1317.0,485.0 1317.5,483.4 1318.0,483.6 1318.5,484.4 1319.0,484.8 1319.5,483.5 1320.0,484.6 1320.5,483.6 1321.0,484.9 1321.5,484.2 1322.0,483.7 1322.5,484.4 1323.0,484.4 1323.5,483.7 1324.0,485.4 1324.5,484.2 1325.0,485.0 1325.5,484.0 1326.0,483.2 1326.5,483.6 1327.0,484.2 1327.5,484.6 1328.0,485.1 1328.5,484.2 1329.0,483.8 1329.5,483.3 1330.0,484.1 1330.5,484.4 1331.0,483.0 1331.5,485.1 1332.0,485.1 1332.5,485.8 1333.0,483.9 1333.5,484.5 1334.0,484.4 1334.5,483.7 1335.0,484.2 1335.5,484.3 1336.0,484.9 1336.5,484.7 1337.0,485.2 1337.5,484.3 1338.0,483.9 1338.5,485.1 1339.0,484.9 1339.5,484.8 1340.0,485.2 1340.5,484.2 1341.0,485.1 1341.5,484.1 1342.0,484.8 1342.5,485.1 1343.0,484.7 1343.5,484.9 1344.0,484.3 1344.5,484.6 1345.0,485.1 1345.5,484.4 1346.0,484.6 1346.5,486.2 1347.0,485.0 1347.5,484.3 1348.0,484.2 1348.5,485.4 1349.0,483.1 1349.5,484.3 1350.0,485.0 1350.5,484.3 1351.0,484.8 1351.5,483.9 1352.0,484.4 1352.5,484.5 1353.0,484.5 1353.5,484.7 1354.0,484.6 1354.5,485.0 1355.0,484.2 1355.5,484.2 1356.0,484.4 1356.5,484.5 1357.0,483.9 1357.5,483.7 1358.0,483.8 1358.5,484.6 1359.0,484.1 1359.5,484.3 1360.0,485.9 1360.5,484.9 1361.0,484.2 1361.5,483.9 1362.0,485.1 1362.5,483.9 1363.0,485.1 1363.5,484.7 1364.0,485.2 1364.5,484.1 1365.0,485.2 1365.5,483.6 1366.0,484.5 1366.5,485.2 1367.0,485.1 1367.5,483.7 1368.0,485.1 1368.5,484.8 1369.0,484.5 1369.5,484.0 1370.0,484.2 1370.5,484.0 1371.0,484.7 1371.5,484.4 1372.0,484.8 1372.5,484.7 1373.0,483.7 1373.5,484.5 1374.0,485.6 1374.5,483.8 1375.0,484.6 1375.5,484.2 1376.0,484.1 1376.5,484.8 1377.0,485.0 1377.5,484.8 1378.0,484.6 1378.5,485.0 1379.0,483.5 1379.5,484.8 1380.0,484.7 1380.5,484.4 1381.0,484.4 1381.5,483.9 1382.0,485.1 1382.5,484.2 1383.0,483.7 1383.5,484.7 1384.0,484.3 1384.5,484.4 1385.0,485.2 1385.5,484.3 1386.0,484.5 1386.5,485.7 1387.0,483.6 1387.5,484.7 1388.0,484.9 1388.5,485.2 1389.0,485.6 1389.5,484.1 1390.0,484.8 1390.5,484.5 1391.0,484.3 1391.5,484.1 1392.0,483.8 1392.5,484.8 1393.0,485.1 1393.5,484.1 1394.0,485.1 1394.5,484.4 1395.0,484.2 1395.5,483.2 1396.0,485.5 1396.5,485.2 1397.0,484.5 1397.5,484.5 1398.0,484.0 1398.5,485.1 1399.0,484.8 1399.5,485.2 1400.0,485.0 1400.5,484.1 1401.0,484.0 1401.5,485.2 1402.0,484.0 1402.5,484.9 1403.0,485.3 1403.5,484.1 1404.0,485.1 1404.5,484.7 1405.0,484.9 1405.5,484.3 1406.0,484.7 1406.5,484.9 1407.0,485.7 1407.5,485.0 1408.0,484.9 1408.5,484.0 1409.0,484.9 1409.5,484.5 1410.0,484.7 1410.5,484.9 1411.0,485.3 1411.5,485.2 1412.0,485.0 1412.5,484.8 1413.0,485.6 1413.5,484.4 1414.0,485.1 1414.5,486.0 1415.0,485.1 1415.5,485.7 1416.0,485.8 1416.5,486.4 1417.0,486.0 1417.5,484.4 1418.0,485.2 1418.5,485.2 1419.0,485.4 1419.5,485.1 1420.0,486.0 1420.5,485.4 1421.0,484.1 1421.5,484.4 1422.0,483.6 1422.5,485.7 1423.0,484.8 1423.5,484.8 1424.0,483.9 1424.5,484.5 1425.0,485.0 1425.5,484.5 1426.0,484.5 1426.5,484.5 1427.0,485.9 1427.5,484.7 1428.0,484.1 1428.5,484.8 1429.0,485.0 1429.5,485.0 1430.0,484.9 1430.5,484.4 1431.0,484.9 1431.5,485.3 1432.0,484.0 1432.5,485.8 1433.0,485.5 1433.5,483.6 1434.0,484.6 1434.5,485.4 1435.0,485.5 1435.5,485.7 1436.0,483.6 1436.5,484.2 1437.0,484.7 1437.5,485.3 1438.0,484.3 1438.5,485.0 1439.0,485.0 1439.5,485.1 1440.0,484.1 1440.5,484.8 1441.0,484.7 1441.5,484.4 1442.0,485.2 1442.5,484.4 1443.0,485.4 1443.5,484.3 1444.0,485.7 1444.5,485.7 1445.0,484.5 1445.5,485.0 1446.0,484.9 1446.5,484.2 1447.0,485.1 1447.5,485.0 1448.0,484.3 1448.5,484.6 1449.0,485.1 1449.5,484.5 1450.0,484.4 1450.5,485.8 1451.0,484.3 1451.5,485.1 1452.0,485.7 1452.5,485.4 1453.0,484.1 1453.5,484.9 1454.0,485.0 1454.5,484.9 1455.0,485.5 1455.5,485.5 1456.0,485.2 1456.5,485.1 1457.0,485.7 1457.5,485.8 1458.0,484.1 1458.5,486.3 1459.0,484.6 1459.5,485.2 1460.0,484.0 1460.5,484.8 1461.0,484.6 1461.5,485.7 1462.0,485.4 1462.5,484.9 1463.0,484.9 1463.5,485.4 1464.0,484.6 1464.5,484.7 1465.0,484.5 1465.5,485.3 1466.0,485.0 1466.5,484.3 1467.0,485.2 1467.5,485.2 1468.0,485.5 1468.5,484.5 1469.0,484.9 1469.5,485.8 1470.0,484.4 1470.5,484.4 1471.0,484.9 1471.5,484.4 1472.0,484.7 1472.5,484.6 1473.0,484.3 1473.5,485.2 1474.0,484.6 1474.5,484.1 1475.0,484.6 1475.5,484.7 1476.0,484.8 1476.5,485.3 1477.0,485.8 1477.5,484.2 1478.0,484.8 1478.5,484.0 1479.0,485.4 1479.5,485.5 1480.0,484.8 1480.5,484.9 1481.0,484.8 1481.5,484.4 1482.0,485.5 1482.5,486.0 1483.0,484.2 1483.5,485.7 1484.0,484.7 1484.5,484.0 1485.0,485.0 1485.5,485.1 1486.0,485.0 1486.5,484.7 1487.0,485.9 1487.5,484.9 1488.0,485.3 1488.5,485.4 1489.0,484.6 1489.5,484.0 1490.0,484.2 1490.5,485.0 1491.0,485.3 1491.5,484.1 1492.0,484.7 1492.5,485.9 1493.0,484.1 1493.5,485.4 1494.0,485.4 1494.5,485.6 1495.0,484.3 1495.5,485.3 1496.0,484.3 1496.5,485.7 1497.0,484.6 1497.5,485.2 1498.0,484.6 1498.5,485.2 1499.0,484.2 1499.5,485.1 1500.0,485.4 1500.5,485.3 1501.0,486.2 1501.5,485.4 1502.0,485.7 1502.5,485.6 1503.0,486.1 1503.5,484.6 1504.0,484.8 1504.5,484.7 1505.0,485.0 1505.5,484.9 1506.0,485.4 1506.5,484.9 1507.0,484.4 1507.5,484.7 1508.0,485.0 1508.5,483.7 1509.0,485.9 1509.5,484.9 1510.0,484.8 1510.5,485.1 1511.0,484.8 1511.5,484.1 1512.0,484.8 1512.5,485.8 1513.0,485.4 1513.5,485.5 1514.0,484.5 1514.5,484.7 1515.0,485.4 1515.5,485.5 1516.0,484.6 1516.5,484.1 1517.0,483.6 1517.5,485.7 1518.0,484.2 1518.5,485.3 1519.0,485.6 1519.5,486.9 1520.0,485.1 1520.5,485.1 1521.0,485.4 1521.5,485.4 1522.0,485.9 1522.5,485.4 1523.0,484.7 1523.5,483.9 1524.0,485.1 1524.5,484.7 1525.0,485.7 1525.5,484.1 1526.0,485.0 1526.5,484.4 1527.0,484.2 1527.5,485.5 1528.0,484.8 1528.5,484.7 1529.0,485.2 1529.5,484.5 1530.0,484.8 1530.5,484.7 1531.0,486.1 1531.5,485.2 1532.0,485.5 1532.5,485.7 1533.0,485.0 1533.5,485.1 1534.0,484.2 1534.5,485.4 1535.0,485.1 1535.5,484.6 1536.0,485.4 1536.5,483.5 1537.0,484.8 1537.5,483.7 1538.0,483.8 1538.5,484.2 1539.0,485.0 1539.5,483.7 1540.0,483.9 1540.5,484.1 1541.0,486.0 1541.5,485.1 1542.0,485.1 1542.5,486.0 1543.0,485.0 1543.5,483.7 1544.0,484.7 1544.5,484.2 1545.0,485.8 1545.5,484.0 1546.0,485.0 1546.5,484.6 1547.0,484.6 1547.5,484.9 1548.0,484.9 1548.5,484.6 1549.0,484.4 1549.5,484.7 1550.0,484.3 1550.5,484.4 1551.0,484.8 1551.5,484.8 1552.0,485.2 1552.5,484.7 1553.0,485.8 1553.5,484.3 1554.0,484.1 1554.5,485.2 1555.0,484.2 1555.5,484.7 1556.0,485.3 1556.5,484.6 1557.0,484.6 1557.5,485.3 1558.0,485.0 1558.5,484.5 1559.0,484.2 1559.5,484.8 1560.0,484.1 1560.5,484.3 1561.0,484.1 1561.5,484.9 1562.0,485.1 1562.5,484.3 1563.0,484.4 1563.5,484.0 1564.0,483.7 1564.5,484.2 1565.0,484.9 1565.5,484.7 1566.0,484.9 1566.5,484.2 1567.0,482.9 1567.5,485.0 1568.0,485.3 1568.5,485.2 1569.0,485.2 1569.5,485.3 1570.0,486.2 1570.5,484.8 1571.0,485.7 1571.5,485.3 1572.0,485.4 1572.5,484.9 1573.0,484.7 1573.5,484.2 1574.0,485.1 1574.5,484.6 1575.0,484.0 1575.5,484.2 1576.0,483.9 1576.5,485.3 1577.0,484.3 1577.5,484.4 1578.0,483.6 1578.5,483.6 1579.0,484.8 1579.5,484.2 1580.0,484.4 1580.5,485.2 1581.0,485.4 1581.5,484.6 1582.0,484.6 1582.5,484.4 1583.0,484.2 1583.5,485.5 1584.0,483.6 1584.5,484.2 1585.0,483.2 1585.5,483.4 1586.0,484.4 1586.5,484.5 1587.0,484.3 1587.5,484.0 1588.0,483.8 1588.5,483.9 1589.0,483.9 1589.5,484.8 1590.0,485.2 1590.5,484.6 1591.0,484.1 1591.5,484.1 1592.0,484.7 1592.5,484.4 1593.0,483.5 1593.5,485.2 1594.0,484.3 1594.5,484.1 1595.0,483.7 1595.5,483.8 1596.0,484.7 1596.5,483.7 1597.0,484.3 1597.5,484.6 1598.0,485.5 1598.5,484.8 1599.0,484.6 1599.5,484.3 1600.0,484.8 1600.5,484.8 1601.0,484.0 1601.5,484.5 1602.0,484.2 1602.5,483.2 1603.0,483.6 1603.5,484.6 1604.0,485.0 1604.5,484.7 1605.0,484.1 1605.5,483.9 1606.0,484.6 1606.5,484.5 1607.0,483.5 1607.5,484.7 1608.0,483.9 1608.5,484.6 1609.0,484.6 1609.5,484.8 1610.0,485.0 1610.5,484.8 1611.0,483.7 1611.5,483.7 1612.0,484.9 1612.5,484.5 1613.0,483.5 1613.5,483.2 1614.0,484.8 1614.5,485.4 1615.0,484.7 1615.5,484.1 1616.0,484.4 1616.5,482.8 1617.0,483.7 1617.5,484.7 1618.0,484.6 1618.5,483.0 1619.0,484.7 1619.5,484.3 1620.0,484.5 1620.5,483.9 1621.0,483.9 1621.5,483.4 1622.0,484.1 1622.5,484.4 1623.0,483.3 1623.5,484.0 1624.0,483.6 1624.5,484.3 1625.0,484.2 1625.5,482.5 1626.0,483.8 1626.5,483.9 1627.0,482.9 1627.5,483.1 1628.0,483.1 1628.5,482.6 1629.0,483.0 1629.5,483.8 1630.0,483.2 1630.5,483.6 1631.0,483.2 1631.5,483.2 1632.0,482.5 1632.5,482.6 1633.0,483.1 1633.5,482.8 1634.0,482.1 1634.5,481.5 1635.0,481.3 1635.5,481.6 1636.0,481.5 1636.5,480.4 1637.0,481.0 1637.5,480.8 1638.0,480.6 1638.5,479.8 1639.0,480.7 1639.5,479.7 1640.0,478.4 1640.5,478.4 1641.0,478.4 1641.5,477.9 1642.0,477.2 1642.5,476.5 1643.0,475.9 1643.5,475.2 1644.0,474.4 1644.5,474.2 1645.0,472.5 1645.5,472.3 1646.0,472.0 1646.5,470.6 1647.0,469.5 1647.5,469.4 1648.0,468.2 1648.5,467.2 1649.0,466.4 1649.5,465.8 1650.0,465.3 1650.5,465.0 1651.0,464.6 1651.5,465.0 1652.0,464.9 1652.5,465.0 1653.0,465.6 1653.5,466.4 1654.0,466.7 1654.5,467.0 1655.0,468.4 1655.5,468.7 1656.0,469.0 1656.5,469.4 1657.0,470.0 1657.5,470.4 1658.0,470.0 1658.5,470.6 1659.0,470.3 1659.5,470.6 1660.0,470.3 1660.5,470.2 1661.0,470.9 1661.5,471.0 1662.0,471.6 1662.5,471.6 1663.0,472.6 1663.5,472.9 1664.0,473.9 1664.5,474.1 1665.0,475.3 1665.5,475.3 1666.0,476.0 1666.5,476.8 1667.0,476.5 1667.5,477.2 1668.0,478.7 1668.5,478.0 1669.0,478.7 1669.5,479.5 1670.0,480.3 1670.5,479.9 1671.0,480.5 1671.5,480.2 1672.0,480.8 1672.5,481.7 1673.0,481.6 1673.5,481.6 1674.0,482.0 1674.5,482.0 1675.0,482.2 1675.5,482.2 1676.0,482.0 1676.5,482.9 1677.0,482.0 1677.5,483.2 1678.0,483.9 1678.5,483.7 1679.0,484.2 1679.5,482.7 1680.0,483.4 1680.5,482.9 1681.0,483.0 1681.5,482.5 1682.0,482.8 1682.5,483.9 1683.0,483.9 1683.5,484.2 1684.0,484.0 1684.5,483.9 1685.0,483.2 1685.5,483.5 1686.0,483.9 1686.5,484.2 1687.0,483.5 1687.5,483.5 1688.0,483.5 1688.5,484.6 1689.0,484.1 1689.5,483.5 1690.0,483.5 1690.5,484.3 1691.0,483.1 1691.5,483.9 1692.0,483.7 1692.5,483.9 1693.0,484.4 1693.5,484.5 1694.0,486.0 1694.5,484.4 1695.0,484.8 1695.5,484.1 1696.0,483.7 1696.5,485.2 1697.0,485.7 1697.5,484.1 1698.0,484.6 1698.5,485.3 1699.0,484.6 1699.5,483.2 1700.0,484.9 1700.5,484.2 1701.0,484.6 1701.5,483.6 1702.0,484.6 1702.5,484.7 1703.0,483.6 1703.5,484.4 1704.0,483.9 1704.5,483.9 1705.0,483.8 1705.5,484.0 1706.0,484.0 1706.5,485.0 1707.0,484.3 1707.5,483.9 1708.0,485.3 1708.5,484.6 1709.0,484.9 1709.5,484.4 1710.0,484.8 1710.5,484.4 1711.0,484.1 1711.5,484.7 1712.0,484.7 1712.5,484.6 1713.0,485.1 1713.5,483.7 1714.0,484.8 1714.5,484.1 1715.0,484.4 1715.5,484.7 1716.0,484.5 1716.5,484.1 1717.0,485.0 1717.5,484.5 1718.0,485.1 1718.5,485.3 1719.0,484.6 1719.5,484.1 1720.0,484.8 1720.5,485.1 1721.0,484.9 1721.5,484.0 1722.0,483.8 1722.5,484.2 1723.0,484.1 1723.5,484.8 1724.0,484.6 1724.5,485.1 1725.0,484.5 1725.5,485.5 1726.0,484.6 1726.5,485.0 1727.0,484.6 1727.5,485.1 1728.0,485.4 1728.5,485.3 1729.0,485.5 1729.5,484.6 1730.0,485.1 1730.5,485.8 1731.0,484.9 1731.5,484.7 1732.0,484.7 1732.5,484.7 1733.0,485.0 1733.5,485.8 1734.0,485.3 1734.5,485.1 1735.0,484.7 1735.5,484.6 1736.0,486.5 1736.5,484.9 1737.0,485.2 1737.5,484.8 1738.0,485.0 1738.5,484.5 1739.0,484.8 1739.5,485.6 1740.0,484.4 1740.5,485.1 1741.0,484.8 1741.5,485.1 1742.0,484.4 1742.5,485.0 1743.0,484.4 1743.5,484.0 1744.0,484.4 1744.5,484.5 1745.0,484.4 1745.5,484.7 1746.0,485.5 1746.5,484.1 1747.0,485.1 1747.5,484.9 1748.0,484.4 1748.5,484.1 1749.0,484.9 1749.5,485.0 1750.0,484.6 1750.5,484.9 1751.0,485.1 1751.5,484.5 1752.0,485.2 1752.5,485.3 1753.0,486.2 1753.5,484.5 1754.0,484.7 1754.5,485.3 1755.0,484.9 1755.5,485.0 1756.0,485.1 1756.5,484.9 1757.0,485.0 1757.5,485.3 1758.0,483.9 1758.5,485.2 1759.0,483.8 1759.5,485.8 1760.0,485.2 1760.5,484.5 1761.0,485.3 1761.5,484.7 1762.0,485.0 1762.5,485.3 1763.0,485.0 1763.5,484.7 1764.0,485.0 1764.5,484.6 1765.0,484.4 1765.5,484.2 1766.0,483.8 1766.5,485.8 1767.0,485.4 1767.5,484.2 1768.0,485.3 1768.5,485.2 1769.0,483.9 1769.5,484.6 1770.0,484.9 1770.5,485.9 1771.0,485.4 1771.5,485.3 1772.0,484.7 1772.5,485.2 1773.0,484.2 1773.5,485.2 1774.0,485.4 1774.5,484.3 1775.0,485.0 1775.5,485.8 1776.0,486.0 1776.5,485.7 1777.0,484.4 1777.5,484.7 1778.0,484.6 1778.5,485.4 1779.0,484.5 1779.5,484.4 1780.0,484.0 1780.5,485.1 1781.0,485.3 1781.5,484.9 1782.0,484.8 1782.5,485.1 1783.0,486.1 1783.5,484.4 1784.0,485.3 1784.5,485.5 1785.0,485.6 1785.5,486.3 1786.0,485.9 1786.5,485.4 1787.0,486.1 1787.5,485.8 1788.0,485.4 1788.5,485.4 1789.0,484.6 1789.5,485.2 1790.0,484.5 1790.5,484.4 1791.0,484.9 1791.5,484.1 1792.0,484.5 1792.5,484.8 1793.0,485.2 1793.5,484.7 1794.0,485.1 1794.5,485.8 1795.0,485.3 1795.5,484.4 1796.0,484.0 1796.5,484.5 1797.0,484.5 1797.5,483.8 1798.0,484.0 1798.5,484.1 1799.0,484.8 1799.5,486.0 1800.0,486.1 1800.5,484.4 1801.0,484.8 1801.5,484.3 1802.0,484.2 1802.5,485.0 1803.0,485.0 1803.5,484.6 1804.0,485.2 1804.5,484.8 1805.0,485.8 1805.5,485.0 1806.0,485.8 1806.5,485.1 1807.0,485.3 1807.5,485.6 1808.0,484.5 1808.5,484.9 1809.0,485.2 1809.5,485.0 1810.0,485.4 1810.5,484.9 1811.0,484.7 1811.5,485.5 1812.0,485.6 1812.5,485.0 1813.0,486.2 1813.5,485.9 1814.0,486.1 1814.5,485.8 1815.0,484.8 1815.5,486.4 1816.0,484.8 1816.5,485.5 1817.0,485.8 1817.5,485.6 1818.0,485.6 1818.5,484.8 1819.0,485.1 1819.5,485.6 1820.0,486.5 1820.5,485.4 1821.0,486.0 1821.5,485.8 1822.0,485.5 1822.5,485.2 1823.0,485.3 1823.5,484.5 1824.0,485.3 1824.5,485.4 1825.0,485.0 1825.5,485.4 1826.0,485.4 1826.5,484.8 1827.0,485.7 1827.5,485.0 1828.0,486.8 1828.5,484.9 1829.0,485.1 1829.5,485.2 1830.0,485.8 1830.5,486.1 1831.0,485.6 1831.5,485.4 1832.0,486.6 1832.5,486.1 1833.0,485.4 1833.5,485.4 1834.0,484.7 1834.5,485.5 1835.0,486.5 1835.5,484.9 1836.0,484.8 1836.5,485.5 1837.0,484.0 1837.5,485.9 1838.0,484.4 1838.5,484.8 1839.0,485.2 1839.5,485.9 1840.0,485.4 1840.5,484.1 1841.0,484.3 1841.5,485.3 1842.0,484.2 1842.5,485.2 1843.0,484.8 1843.5,485.9 1844.0,486.0 1844.5,483.9 1845.0,485.5 1845.5,485.6 1846.0,484.9 1846.5,485.1 1847.0,484.6 1847.5,485.2 1848.0,485.4 1848.5,486.0 1849.0,486.1 1849.5,485.1 1850.0,484.9 1850.5,486.0 1851.0,483.8 1851.5,484.7 1852.0,485.9 1852.5,486.7 1853.0,485.1 1853.5,485.6 1854.0,485.0 1854.5,485.6 1855.0,485.4 1855.5,485.2 1856.0,485.9 1856.5,485.4 1857.0,485.9 1857.5,485.4 1858.0,484.9 1858.5,485.7 1859.0,485.9 1859.5,485.1 1860.0,486.2 1860.5,485.6 1861.0,485.1 1861.5,485.2 1862.0,484.9 1862.5,484.6 1863.0,485.5 1863.5,485.8 1864.0,484.9 1864.5,484.8 1865.0,484.9 1865.5,485.3 1866.0,485.8 1866.5,484.6 1867.0,485.1 1867.5,485.0 1868.0,485.2 1868.5,485.8 1869.0,484.6 1869.5,483.8 1870.0,484.9 1870.5,484.3 1871.0,486.1 1871.5,484.9 1872.0,485.1 1872.5,485.3 1873.0,485.3 1873.5,485.0 1874.0,485.1 1874.5,485.5 1875.0,484.8 1875.5,486.1 1876.0,485.3 1876.5,483.8 1877.0,485.6 1877.5,483.9 1878.0,485.2 1878.5,486.4 1879.0,485.8 1879.5,484.5 1880.0,484.6 1880.5,485.0 1881.0,485.6 1881.5,484.5 1882.0,485.7 1882.5,485.1 1883.0,484.8 1883.5,484.8 1884.0,485.8 1884.5,484.1 1885.0,484.3 1885.5,485.5 1886.0,485.4 1886.5,484.1 1887.0,484.4 1887.5,484.3 1888.0,485.4 1888.5,484.6 1889.0,485.7 1889.5,485.4 1890.0,485.1 1890.5,485.1 1891.0,485.3 1891.5,485.5 1892.0,485.0 1892.5,485.0 1893.0,485.4 1893.5,485.1 1894.0,485.6 1894.5,485.0 1895.0,484.7 1895.5,485.3 1896.0,486.1 1896.5,485.9 1897.0,484.3 1897.5,485.3 1898.0,484.8 1898.5,484.7 1899.0,484.5 1899.5,484.5 1900.0,484.3 1900.5,484.4 1901.0,484.9 1901.5,484.0 1902.0,483.8 1902.5,484.1 1903.0,484.2 1903.5,485.2 1904.0,484.3 1904.5,485.1 1905.0,485.1 1905.5,485.3 1906.0,485.1 1906.5,485.8 1907.0,485.1 1907.5,485.2 1908.0,485.5 1908.5,484.3 1909.0,485.1 1909.5,485.6 1910.0,484.7 1910.5,484.4 1911.0,485.4 1911.5,484.4 1912.0,484.9 1912.5,483.0 1913.0,484.3 1913.5,484.2 1914.0,484.6 1914.5,485.1 1915.0,484.4 1915.5,484.4 1916.0,483.0 1916.5,485.0 1917.0,485.2 1917.5,484.6 1918.0,484.2 1918.5,484.7 1919.0,485.1 1919.5,484.9 1920.0,485.7 1920.5,484.4 1921.0,484.0 1921.5,485.1 1922.0,485.4 1922.5,484.4 1923.0,484.7 1923.5,484.3 1924.0,483.9 1924.5,484.1 1925.0,483.2 1925.5,484.4 1926.0,484.5 1926.5,484.7 1927.0,483.8 1927.5,483.9 1928.0,483.4 1928.5,483.6 1929.0,484.9 1929.5,485.9 1930.0,483.8 1930.5,484.1 1931.0,484.8 1931.5,484.0 1932.0,484.6 1932.5,484.2 1933.0,484.1 1933.5,484.7 1934.0,484.2 1934.5,483.7 1935.0,484.9 1935.5,484.6 1936.0,484.2 1936.5,484.1 1937.0,484.8 1937.5,484.1 1938.0,484.6 1938.5,485.0 1939.0,484.2 1939.5,484.9 1940.0,483.5 1940.5,484.4 1941.0,484.3 1941.5,484.9 1942.0,483.9 1942.5,484.4 1943.0,483.9 1943.5,483.5 1944.0,483.6 1944.5,483.6 1945.0,484.4 1945.5,483.8 1946.0,484.2 1946.5,484.6 1947.0,484.6 1947.5,484.4 1948.0,484.6 1948.5,483.2 1949.0,483.6 1949.5,484.1 1950.0,484.3 1950.5,484.1 1951.0,483.4 1951.5,483.4 1952.0,482.7 1952.5,483.9 1953.0,482.7 1953.5,483.7 1954.0,484.1 1954.5,484.1 1955.0,482.7 1955.5,483.7 1956.0,483.5 1956.5,483.5 1957.0,484.5 1957.5,483.5 1958.0,482.6 1958.5,482.8 1959.0,483.6 1959.5,483.3 1960.0,482.6 1960.5,482.4 1961.0,482.9 1961.5,482.7 1962.0,483.3 1962.5,482.6 1963.0,483.0 1963.5,483.2 1964.0,481.9 1964.5,482.1 1965.0,482.9 1965.5,481.8 1966.0,481.9 1966.5,482.3 1967.0,481.4 1967.5,481.6 1968.0,480.8 1968.5,481.5 1969.0,481.0 1969.5,481.0 1970.0,480.0 1970.5,481.2 1971.0,480.9 1971.5,480.1 1972.0,480.7 1972.5,478.9 1973.0,479.6 1973.5,478.7 1974.0,480.0 1974.5,477.8 1975.0,477.9 1975.5,477.6 1976.0,477.6 1976.5,477.1 1977.0,476.4 1977.5,475.7 1978.0,475.8 1978.5,474.4 1979.0,474.0 1979.5,473.7 1980.0,472.2 1980.5,471.7 1981.0,471.5 1981.5,470.7 1982.0,469.6 1982.5,469.4 1983.0,469.3 1983.5,468.4 1984.0,468.2 1984.5,467.8 1985.0,467.4 1985.5,467.9 1986.0,467.9 1986.5,468.0 1987.0,467.9 1987.5,468.3 1988.0,468.6 1988.5,469.0 1989.0,469.2 1989.5,469.5 1990.0,470.3 1990.5,470.0 1991.0,470.5 1991.5,470.7 1992.0,471.0 1992.5,470.9 1993.0,471.2 1993.5,471.6 1994.0,471.4 1994.5,471.3 1995.0,471.8 1995.5,470.9 1996.0,471.3 1996.5,471.0 1997.0,470.5 1997.5,470.6 1998.0,470.6 1998.5,471.0 1999.0,470.9 1999.5,470.8 2000.0,470.8 2000.5,471.0 2001.0,471.7 2001.5,471.9 2002.0,472.8 2002.5,473.3 2003.0,474.1 2003.5,474.9 2004.0,475.2 2004.5,475.9 2005.0,476.3 2005.5,477.2 2006.0,477.5 2006.5,478.3 2007.0,478.6 2007.5,478.2 2008.0,478.3 2008.5,479.5 2009.0,480.0 2009.5,479.6 2010.0,480.9 2010.5,480.6 2011.0,480.8 2011.5,481.3 2012.0,480.8 2012.5,480.9 2013.0,481.7 2013.5,481.4 2014.0,482.1 2014.5,482.3 2015.0,481.3 2015.5,482.1 2016.0,482.8 2016.5,481.6 2017.0,482.7 2017.5,482.2 2018.0,482.1 2018.5,483.4 2019.0,483.4 2019.5,482.7 2020.0,482.7 2020.5,483.6 2021.0,483.5 2021.5,483.0 2022.0,483.5 2022.5,483.1 2023.0,483.1 2023.5,483.6 2024.0,483.1 2024.5,483.7 2025.0,483.5 2025.5,483.5 2026.0,483.3 2026.5,483.8 2027.0,484.1 2027.5,483.6 2028.0,483.0 2028.5,483.9 2029.0,483.2 2029.5,483.1 2030.0,483.6 2030.5,484.2 2031.0,484.2 2031.5,484.3 2032.0,484.9 2032.5,484.6 2033.0,483.9 2033.5,484.6 2034.0,483.9 2034.5,484.3 2035.0,484.5 2035.5,484.1 2036.0,483.2 2036.5,483.9 2037.0,484.0 2037.5,484.1 2038.0,484.0 2038.5,483.7 2039.0,483.3 2039.5,484.5 2040.0,484.6 2040.5,484.5 2041.0,484.4 2041.5,485.3 2042.0,484.4 2042.5,484.1 2043.0,484.6 2043.5,484.2 2044.0,484.5 2044.5,484.4 2045.0,484.4 2045.5,484.1 2046.0,483.9 2046.5,484.6 2047.0,484.8 2047.5,483.7 2048.0,484.0 2048.5,483.9 2049.0,484.9 2049.5,484.2 2050.0,484.8 2050.5,483.8 2051.0,484.6 2051.5,483.8 2052.0,483.9 2052.5,484.4 2053.0,483.8 2053.5,483.7 2054.0,484.6 2054.5,484.2 2055.0,485.1 2055.5,485.9 2056.0,484.3 2056.5,484.4 2057.0,483.8 2057.5,483.9 2058.0,484.9 2058.5,484.8 2059.0,484.8 2059.5,484.7 2060.0,484.0 2060.5,483.6 2061.0,485.1 2061.5,484.6 2062.0,485.1 2062.5,484.5 2063.0,484.9"/>
<polyline fill="none" stroke="#ff00ff" stroke-width="3.4" stroke-linejoin="round" shape-rendering="crispEdges" stroke-linecap="butt" points="137.0,335.9 137.5,336.4 138.0,337.6 138.5,337.0 139.0,335.5 139.5,336.7 140.0,336.0 140.5,336.6 141.0,335.2 141.5,336.6 142.0,336.4 142.5,337.5 143.0,336.6 143.5,336.8 144.0,335.5 144.5,338.3 145.0,335.3 145.5,337.5 146.0,336.4 146.5,336.2 147.0,336.2 147.5,336.1 148.0,336.6 148.5,336.2 149.0,337.3 149.5,335.0 150.0,336.2 150.5,335.6 151.0,336.7 151.5,334.6 152.0,335.6 152.5,336.1 153.0,334.8 153.5,336.8 154.0,336.0 154.5,336.8 155.0,336.8 155.5,335.3 156.0,335.5 156.5,336.3 157.0,336.8 157.5,336.7 158.0,335.5 158.5,335.8 159.0,335.6 159.5,335.7 160.0,335.9 160.5,335.9 161.0,337.5 161.5,335.9 162.0,336.3 162.5,337.0 163.0,335.9 163.5,336.3 164.0,336.5 164.5,337.2 165.0,335.8 165.5,337.6 166.0,336.3 166.5,336.6 167.0,337.1 167.5,336.9 168.0,337.5 168.5,336.8 169.0,336.6 169.5,336.9 170.0,336.1 170.5,337.7 171.0,336.3 171.5,335.7 172.0,338.0 172.5,336.2 173.0,335.5 173.5,337.6 174.0,336.0 174.5,336.8 175.0,335.4 175.5,335.9 176.0,335.0 176.5,335.0 177.0,335.6 177.5,336.3 178.0,336.9 178.5,338.0 179.0,335.5 179.5,336.7 180.0,335.6 180.5,335.9 181.0,334.9 181.5,335.0 182.0,335.3 182.5,335.1 183.0,335.9 183.5,335.6 184.0,337.2 184.5,336.4 185.0,336.4 185.5,337.4 186.0,336.5 186.5,336.1 187.0,336.1 187.5,336.2 188.0,336.9 188.5,336.6 189.0,336.3 189.5,336.7 190.0,335.4 190.5,336.5 191.0,335.2 191.5,337.2 192.0,336.4 192.5,336.6 193.0,336.7 193.5,336.3 194.0,336.1 194.5,337.2 195.0,336.3 195.5,335.7 196.0,336.5 196.5,334.8 197.0,337.0 197.5,335.8 198.0,335.7 198.5,337.3 199.0,337.1 199.5,335.7 200.0,335.9 200.5,336.4 201.0,337.0 201.5,335.8 202.0,336.0 202.5,336.9 203.0,336.0 203.5,336.3 204.0,336.1 204.5,334.9 205.0,334.9 205.5,333.3 206.0,335.0 206.5,336.2 207.0,334.4 207.5,336.1 208.0,336.0 208.5,335.1 209.0,335.2 209.5,335.4 210.0,334.8 210.5,335.0 211.0,335.1 211.5,335.5 212.0,335.6 212.5,334.6 213.0,335.7 213.5,334.5 214.0,334.9 214.5,335.2 215.0,335.0 215.5,334.8 216.0,335.1 216.5,334.5 217.0,334.4 217.5,334.8 218.0,335.6 218.5,334.7 219.0,336.1 219.5,334.9 220.0,332.7 220.5,334.4 221.0,335.8 221.5,334.5 222.0,334.2 222.5,333.6 223.0,335.3 223.5,335.2 224.0,334.8 224.5,334.4 225.0,335.1 225.5,334.7 226.0,333.2 226.5,334.7 227.0,334.2 227.5,333.7 228.0,334.2 228.5,334.0 229.0,331.8 229.5,335.3 230.0,334.8 230.5,334.1 231.0,333.9 231.5,334.3 232.0,333.2 232.5,334.3 233.0,333.4 233.5,333.3 234.0,332.6 234.5,332.5 235.0,333.7 235.5,333.6 236.0,332.9 236.5,332.3 237.0,331.7 237.5,333.0 238.0,333.7 238.5,331.2 239.0,333.6 239.5,330.9 240.0,332.3 240.5,332.9 241.0,331.7 241.5,331.4 242.0,332.9 242.5,333.1 243.0,332.1 243.5,333.5 244.0,331.9 244.5,333.9 245.0,332.7 245.5,332.6 246.0,332.8 246.5,332.4 247.0,333.8 247.5,333.9 248.0,332.5 248.5,331.9 249.0,331.1 249.5,331.3 250.0,331.8 250.5,332.0 251.0,332.2 251.5,332.2 252.0,332.6 252.5,331.2 253.0,331.8 253.5,333.4 254.0,333.3 254.5,332.5 255.0,333.7 255.5,332.1 256.0,332.5 256.5,331.5 257.0,333.7 257.5,333.0 258.0,334.0 258.5,333.7 259.0,333.4 259.5,333.7 260.0,334.8 260.5,333.8 261.0,333.9 261.5,334.1 262.0,334.6 262.5,334.7 263.0,335.6 263.5,334.0 264.0,335.1 264.5,333.7 265.0,334.7 265.5,334.4 266.0,335.6 266.5,335.0 267.0,334.3 267.5,335.2 268.0,335.2 268.5,334.9 269.0,334.9 269.5,334.5 270.0,337.2 270.5,335.5 271.0,336.1 271.5,334.8 272.0,335.0 272.5,335.8 273.0,335.6 273.5,336.6 274.0,335.3 274.5,336.3 275.0,336.9 275.5,335.0 276.0,336.3 276.5,335.1 277.0,336.1 277.5,336.3 278.0,337.2 278.5,335.5 279.0,336.3 279.5,337.1 280.0,335.6 280.5,336.3 281.0,335.6 281.5,335.5 282.0,336.3 282.5,336.4 283.0,337.7 283.5,336.8 284.0,336.7 284.5,335.7 285.0,335.5 285.5,335.9 286.0,334.3 286.5,337.3 287.0,335.6 287.5,335.4 288.0,335.7 288.5,336.7 289.0,336.9 289.5,335.7 290.0,336.2 290.5,336.1 291.0,335.5 291.5,336.2 292.0,336.0 292.5,335.1 293.0,336.7 293.5,335.0 294.0,336.3 294.5,335.3 295.0,335.2 295.5,335.2 296.0,336.0 296.5,334.7 297.0,335.7 297.5,336.9 298.0,335.1 298.5,335.7 299.0,336.1 299.5,335.5 300.0,336.1 300.5,335.4 301.0,336.4 301.5,335.8 302.0,335.1 302.5,336.6 303.0,335.4 303.5,335.2 304.0,334.6 304.5,335.2 305.0,335.3 305.5,335.4 306.0,336.1 306.5,334.6 307.0,335.5 307.5,336.7 308.0,336.0 308.5,336.1 309.0,336.8 309.5,336.1 310.0,336.2 310.5,335.8 311.0,337.0 311.5,336.5 312.0,335.1 312.5,336.1 313.0,334.8 313.5,336.5 314.0,336.2 314.5,335.5 315.0,335.3 315.5,334.0 316.0,335.8 316.5,335.1 317.0,335.1 317.5,335.9 318.0,334.9 318.5,334.8 319.0,334.9 319.5,334.5 320.0,337.3 320.5,335.4 321.0,335.3 321.5,335.9 322.0,332.8 322.5,334.9 323.0,335.0 323.5,334.1 324.0,335.3 324.5,333.6 325.0,335.0 325.5,335.8 326.0,333.6 326.5,334.3 327.0,335.3 327.5,335.6 328.0,335.2 328.5,335.9 329.0,335.7 329.5,334.7 330.0,335.6 330.5,334.8 331.0,334.3 331.5,334.0 332.0,336.1 332.5,335.3 333.0,336.6 333.5,334.3 334.0,335.0 334.5,335.4 335.0,335.1 335.5,335.4 336.0,335.2 336.5,334.9 337.0,333.6 337.5,334.5 338.0,336.3 338.5,335.7 339.0,336.1 339.5,334.6 340.0,335.0 340.5,334.3 341.0,335.1 341.5,334.9 342.0,335.2 342.5,336.2 343.0,334.3 343.5,335.5 344.0,334.0 344.5,335.9 345.0,335.0 345.5,335.1 346.0,335.4 346.5,336.6 347.0,335.4 347.5,335.0 348.0,334.5 348.5,335.5 349.0,334.7 349.5,334.9 350.0,335.3 350.5,335.6 351.0,334.7 351.5,335.6 352.0,336.4 352.5,333.9 353.0,336.0 353.5,336.4 354.0,334.6 354.5,335.6 355.0,334.4 355.5,335.6 356.0,335.2 356.5,335.7 357.0,334.9 357.5,335.1 358.0,335.7 358.5,335.2 359.0,335.1 359.5,335.3 360.0,334.8 360.5,335.5 361.0,335.8 361.5,333.8 362.0,335.7 362.5,334.9 363.0,334.8 363.5,334.8 364.0,335.2 364.5,335.3 365.0,336.1 365.5,335.0 366.0,336.7 366.5,335.1 367.0,336.4 367.5,336.5 368.0,334.8 368.5,336.3 369.0,337.0 369.5,335.3 370.0,336.1 370.5,335.6 371.0,335.8 371.5,335.3 372.0,335.3 372.5,336.4 373.0,336.7 373.5,336.1 374.0,337.2 374.5,337.1 375.0,336.9 375.5,336.1 376.0,338.2 376.5,337.9 377.0,335.5 377.5,336.2 378.0,336.7 378.5,337.5 379.0,337.8 379.5,336.7 380.0,337.1 380.5,337.5 381.0,336.2 381.5,337.4 382.0,337.0 382.5,337.4 383.0,337.6 383.5,336.6 384.0,336.7 384.5,337.4 385.0,337.4 385.5,337.1 386.0,338.0 386.5,336.9 387.0,336.3 387.5,336.8 388.0,337.0 388.5,337.2 389.0,338.0 389.5,337.7 390.0,338.1 390.5,337.9 391.0,337.3 391.5,338.4 392.0,337.7 392.5,338.1 393.0,337.4 393.5,338.3 394.0,337.9 394.5,338.3 395.0,339.6 395.5,340.0 396.0,339.0 396.5,338.2 397.0,338.6 397.5,338.1 398.0,337.5 398.5,337.9 399.0,338.1 399.5,337.8 400.0,339.1 400.5,337.7 401.0,337.8 401.5,338.8 402.0,338.1 402.5,337.7 403.0,337.9 403.5,338.7 404.0,338.4 404.5,338.5 405.0,338.0 405.5,337.7 406.0,338.8 406.5,337.3 407.0,338.2 407.5,337.6 408.0,338.4 408.5,338.6 409.0,339.5 409.5,337.0 410.0,339.7 410.5,338.3 411.0,339.1 411.5,339.6 412.0,338.5 412.5,338.7 413.0,339.0 413.5,338.6 414.0,338.2 414.5,338.7 415.0,338.6 415.5,337.3 416.0,339.0 416.5,338.3 417.0,336.6 417.5,337.9 418.0,339.4 418.5,339.3 419.0,338.6 419.5,337.4 420.0,338.5 420.5,339.5 421.0,338.8 421.5,338.6 422.0,338.1 422.5,339.3 423.0,338.9 423.5,339.3 424.0,339.2 424.5,339.9 425.0,338.9 425.5,339.1 426.0,337.6 426.5,339.7 427.0,339.5 427.5,338.7 428.0,337.2 428.5,338.4 429.0,338.9 429.5,340.3 430.0,339.4 430.5,339.7 431.0,339.5 431.5,339.9 432.0,338.4 432.5,338.5 433.0,338.3 433.5,338.8 434.0,338.7 434.5,339.0 435.0,338.0 435.5,338.8 436.0,338.0 436.5,339.8 437.0,338.2 437.5,340.1 438.0,339.5 438.5,337.7 439.0,339.0 439.5,339.0 440.0,337.5 440.5,338.8 441.0,338.4 441.5,338.6 442.0,338.0 442.5,338.6 443.0,338.8 443.5,338.6 444.0,338.1 444.5,338.5 445.0,338.0 445.5,338.8 446.0,337.0 446.5,339.5 447.0,338.4 447.5,338.5 448.0,338.6 448.5,337.3 449.0,339.2 449.5,337.1 450.0,337.9 450.5,337.6 451.0,337.9 451.5,336.7 452.0,335.7 452.5,336.4 453.0,334.5 453.5,335.5 454.0,334.7 454.5,335.2 455.0,333.5 455.5,332.7 456.0,331.9 456.5,331.4 457.0,331.4 457.5,332.1 458.0,331.7 458.5,333.0 459.0,333.2 459.5,334.6 460.0,335.3 460.5,335.2 461.0,336.1 461.5,336.7 462.0,337.4 462.5,337.8 463.0,337.5 463.5,337.1 464.0,336.8 464.5,338.3 465.0,338.9 465.5,338.3 466.0,338.9 466.5,337.7 467.0,337.9 467.5,338.9 468.0,337.2 468.5,338.3 469.0,338.2 469.5,337.8 470.0,338.7 470.5,337.1 471.0,337.5 471.5,336.3 472.0,336.9 472.5,337.4 473.0,337.4 473.5,337.6 474.0,338.0 474.5,337.5 475.0,336.9 475.5,338.1 476.0,338.2 476.5,337.3 477.0,337.7 477.5,339.4 478.0,339.1 478.5,339.3 479.0,339.2 479.5,338.8 480.0,338.5 480.5,339.4 481.0,339.0 481.5,338.9 482.0,339.4 482.5,339.4 483.0,340.2 483.5,339.1 484.0,341.5 484.5,339.4 485.0,340.0 485.5,341.1 486.0,340.0 486.5,340.5 487.0,341.0 487.5,339.2 488.0,340.8 488.5,340.4 489.0,341.1 489.5,341.7 490.0,341.8 490.5,342.4 491.0,342.0 491.5,341.8 492.0,341.0 492.5,341.7 493.0,340.5 493.5,341.1 494.0,341.9 494.5,341.5 495.0,340.1 495.5,340.7 496.0,341.7 496.5,341.6 497.0,342.0 497.5,340.4 498.0,340.5 498.5,341.3 499.0,341.0 499.5,341.8 500.0,341.8 500.5,341.9 501.0,341.6 501.5,342.0 502.0,342.1 502.5,341.7 503.0,340.9 503.5,342.3 504.0,341.3 504.5,341.5 505.0,341.2 505.5,340.2 506.0,341.5 506.5,340.7 507.0,340.2 507.5,341.6 508.0,340.7 508.5,341.1 509.0,341.3 509.5,341.9 510.0,339.9 510.5,340.5 511.0,341.3 511.5,340.6 512.0,339.1 512.5,341.0 513.0,341.1 513.5,341.7 514.0,341.3 514.5,341.0 515.0,341.5 515.5,341.5 516.0,341.2 516.5,341.6 517.0,341.8 517.5,341.1 518.0,342.2 518.5,341.9 519.0,341.8 519.5,339.7 520.0,341.4 520.5,341.3 521.0,340.9 521.5,341.8 522.0,340.5 522.5,342.2 523.0,341.8 523.5,341.4 524.0,342.5 524.5,342.0 525.0,342.1 525.5,341.0 526.0,342.2 526.5,342.7 527.0,342.6 527.5,341.3 528.0,342.8 528.5,343.0 529.0,342.7 529.5,341.8 530.0,341.1 530.5,341.5 531.0,341.8 531.5,342.3 532.0,342.4 532.5,341.8 533.0,341.2 533.5,341.7 534.0,341.1 534.5,342.7 535.0,341.2 535.5,342.1 536.0,342.2 536.5,341.2 537.0,342.3 537.5,341.6 538.0,341.3 538.5,341.3 539.0,341.8 539.5,342.4 540.0,340.6 540.5,342.1 541.0,341.6 541.5,341.3 542.0,341.7 542.5,341.8 543.0,341.7 543.5,342.3 544.0,341.3 544.5,343.0 545.0,342.5 545.5,341.8 546.0,340.9 546.5,342.2 547.0,341.9 547.5,342.7 548.0,342.9 548.5,343.7 549.0,342.4 549.5,343.0 550.0,342.0 550.5,341.9 551.0,343.0 551.5,342.0 552.0,342.0 552.5,341.7 553.0,342.1 553.5,342.2 554.0,341.7 554.5,341.3 555.0,342.3 555.5,341.6 556.0,342.0 556.5,342.3 557.0,342.2 557.5,340.6 558.0,343.0 558.5,342.4 559.0,343.0 559.5,343.3 560.0,341.3 560.5,341.6 561.0,342.0 561.5,342.6 562.0,341.6 562.5,341.7 563.0,342.8 563.5,341.7 564.0,342.5 564.5,343.0 565.0,342.2 565.5,342.8 566.0,342.4 566.5,341.5 567.0,342.1 567.5,342.1 568.0,342.0 568.5,342.1 569.0,342.3 569.5,342.1 570.0,342.1 570.5,341.8 571.0,342.2 571.5,342.3 572.0,342.1 572.5,343.2 573.0,341.5 573.5,342.7 574.0,341.7 574.5,342.0 575.0,342.7 575.5,341.8 576.0,342.7 576.5,341.4 577.0,341.8 577.5,341.5 578.0,341.9 578.5,341.6 579.0,341.7 579.5,342.1 580.0,342.7 580.5,342.1 581.0,342.0 581.5,341.8 582.0,341.6 582.5,341.2 583.0,341.5 583.5,342.0 584.0,340.8 584.5,342.3 585.0,341.7 585.5,341.4 586.0,341.8 586.5,342.7 587.0,342.3 587.5,342.3 588.0,343.4 588.5,343.8 589.0,341.7 589.5,343.1 590.0,342.2 590.5,341.7 591.0,342.0 591.5,343.0 592.0,342.3 592.5,342.1 593.0,343.3 593.5,342.8 594.0,342.5 594.5,343.7 595.0,343.0 595.5,342.3 596.0,342.1 596.5,342.4 597.0,342.6 597.5,343.0 598.0,342.9 598.5,342.5 599.0,341.7 599.5,342.8 600.0,342.3 600.5,341.7 601.0,341.6 601.5,342.5 602.0,342.4 602.5,342.7 603.0,341.5 603.5,343.3 604.0,341.3 604.5,342.4 605.0,343.3 605.5,343.3 606.0,342.1 606.5,343.1 607.0,343.4 607.5,343.2 608.0,342.2 608.5,343.7 609.0,341.8 609.5,342.7 610.0,342.1 610.5,342.4 611.0,342.5 611.5,342.9 612.0,341.9 612.5,342.8 613.0,343.4 613.5,342.6 614.0,342.8 614.5,342.7 615.0,342.1 615.5,342.4 616.0,342.8 616.5,342.8 617.0,343.8 617.5,343.5 618.0,342.3 618.5,342.4 619.0,342.1 619.5,341.4 620.0,343.4 620.5,343.0 621.0,341.6 621.5,342.8 622.0,344.3 622.5,343.1 623.0,343.1 623.5,342.7 624.0,342.4 624.5,342.1 625.0,342.3 625.5,343.0 626.0,342.7 626.5,343.2 627.0,343.8 627.5,343.3 628.0,343.6 628.5,342.7 629.0,342.2 629.5,344.3 630.0,343.4 630.5,343.7 631.0,342.7 631.5,342.1 632.0,343.6 632.5,341.6 633.0,342.7 633.5,342.5 634.0,342.7 634.5,343.0 635.0,343.0 635.5,341.3 636.0,343.2 636.5,341.7 637.0,343.2 637.5,342.7 638.0,342.2 638.5,342.7 639.0,342.2 639.5,343.1 640.0,343.7 640.5,343.5 641.0,342.8 641.5,343.3 642.0,342.8 642.5,344.0 643.0,342.9 643.5,342.1 644.0,342.1 644.5,341.8 645.0,342.0 645.5,342.2 646.0,342.9 646.5,342.9 647.0,342.5 647.5,342.8 648.0,342.3 648.5,342.6 649.0,341.5 649.5,342.4 650.0,342.7 650.5,344.4 651.0,342.0 651.5,342.9 652.0,342.6 652.5,341.8 653.0,342.9 653.5,342.6 654.0,341.8 654.5,341.2 655.0,342.5 655.5,341.8 656.0,343.0 656.5,342.6 657.0,343.2 657.5,342.6 658.0,343.8 658.5,343.3 659.0,343.8 659.5,343.0 660.0,342.3 660.5,342.0 661.0,342.5 661.5,343.0 662.0,342.6 662.5,344.4 663.0,343.0 663.5,343.4 664.0,343.3 664.5,342.6 665.0,343.8 665.5,343.6 666.0,343.5 666.5,342.5 667.0,343.0 667.5,343.0 668.0,343.6 668.5,342.2 669.0,343.3 669.5,343.9 670.0,342.8 670.5,342.4 671.0,343.7 671.5,343.2 672.0,343.6 672.5,343.4 673.0,343.6 673.5,342.9 674.0,341.6 674.5,343.4 675.0,342.9 675.5,343.6 676.0,343.0 676.5,344.3 677.0,343.2 677.5,343.7 678.0,343.8 678.5,343.0 679.0,343.2 679.5,342.9 680.0,342.2 680.5,343.6 681.0,342.1 681.5,341.8 682.0,342.5 682.5,343.0 683.0,343.0 683.5,342.8 684.0,342.6 684.5,341.8 685.0,343.4 685.5,344.2 686.0,342.7 686.5,342.0 687.0,343.4 687.5,342.8 688.0,340.5 688.5,342.6 689.0,342.0 689.5,342.2 690.0,344.0 690.5,343.4 691.0,342.8 691.5,343.0 692.0,344.0 692.5,342.4 693.0,343.4 693.5,342.7 694.0,343.4 694.5,343.1 695.0,342.6 695.5,343.7 696.0,343.4 696.5,344.2 697.0,342.8 697.5,343.2 698.0,342.7 698.5,344.0 699.0,342.7 699.5,343.0 700.0,343.7 700.5,343.3 701.0,343.0 701.5,343.1 702.0,343.2 702.5,343.3 703.0,342.6 703.5,341.7 704.0,343.5 704.5,342.2 705.0,343.8 705.5,343.1 706.0,344.9 706.5,343.8 707.0,343.4 707.5,343.8 708.0,342.5 708.5,343.5 709.0,343.1 709.5,343.2 710.0,341.9 710.5,341.7 711.0,343.3 711.5,342.9 712.0,342.6 712.5,342.8 713.0,342.6 713.5,342.5 714.0,343.5 714.5,343.0 715.0,343.5 715.5,342.6 716.0,341.9 716.5,342.7 717.0,342.9 717.5,342.3 718.0,342.8 718.5,342.7 719.0,343.5 719.5,343.5 720.0,343.7 720.5,342.8 721.0,343.4 721.5,344.1 722.0,343.5 722.5,343.5 723.0,343.0 723.5,344.2 724.0,343.6 724.5,344.1 725.0,343.4 725.5,344.6 726.0,343.2 726.5,342.5 727.0,343.4 727.5,343.6 728.0,344.0 728.5,343.1 729.0,342.9 729.5,343.1 730.0,343.0 730.5,342.1 731.0,343.7 731.5,343.9 732.0,342.7 732.5,342.5 733.0,343.1 733.5,342.7 734.0,343.7 734.5,342.9 735.0,343.6 735.5,342.6 736.0,342.6 736.5,342.5 737.0,342.5 737.5,343.5 738.0,343.9 738.5,343.4 739.0,343.5 739.5,342.2 740.0,344.2 740.5,342.9 741.0,344.3 741.5,345.0 742.0,343.7 742.5,344.0 743.0,344.0 743.5,342.8 744.0,342.9 744.5,343.1 745.0,343.6 745.5,344.2 746.0,343.7 746.5,344.1 747.0,343.2 747.5,342.8 748.0,343.7 748.5,343.6 749.0,343.0 749.5,344.3 750.0,343.1 750.5,343.4 751.0,344.0 751.5,343.2 752.0,344.1 752.5,344.0 753.0,343.9 753.5,343.6 754.0,343.4 754.5,343.2 755.0,343.9 755.5,344.6 756.0,344.3 756.5,344.0 757.0,344.1 757.5,344.3 758.0,342.8 758.5,343.6 759.0,344.3 759.5,343.0 760.0,343.1 760.5,343.7 761.0,343.4 761.5,344.4 762.0,343.6 762.5,344.1 763.0,345.1 763.5,344.3 764.0,342.8 764.5,343.0 765.0,342.9 765.5,343.2 766.0,342.4 766.5,343.6 767.0,344.4 767.5,344.3 768.0,343.0 768.5,343.4 769.0,343.3 769.5,343.3 770.0,344.8 770.5,343.5 771.0,343.2 771.5,344.0 772.0,343.9 772.5,344.4 773.0,344.5 773.5,343.7 774.0,342.6 774.5,344.1 775.0,344.1 775.5,344.8 776.0,342.7 776.5,343.0 777.0,344.6 777.5,344.6 778.0,344.4 778.5,343.5 779.0,344.3 779.5,343.1 780.0,342.7 780.5,343.5 781.0,343.5 781.5,343.9 782.0,344.3 782.5,342.7 783.0,344.0 783.5,344.0 784.0,343.0 784.5,343.7 785.0,343.8 785.5,344.0 786.0,343.3 786.5,343.3 787.0,342.9 787.5,343.8 788.0,343.5 788.5,343.4 789.0,344.1 789.5,343.6 790.0,343.0 790.5,344.4 791.0,344.3 791.5,344.1 792.0,343.2 792.5,344.4 793.0,343.4 793.5,342.7 794.0,343.6 794.5,344.5 795.0,343.2 795.5,343.7 796.0,344.1 796.5,343.4 797.0,343.1 797.5,343.4 798.0,343.7 798.5,343.1 799.0,343.7 799.5,344.0 800.0,343.5 800.5,344.2 801.0,344.1 801.5,343.7 802.0,343.7 802.5,343.9 803.0,343.8 803.5,343.9 804.0,343.4 804.5,344.1 805.0,344.3 805.5,344.2 806.0,343.2 806.5,343.9 807.0,343.8 807.5,343.0 808.0,343.7 808.5,343.3 809.0,343.3 809.5,343.8 810.0,343.6 810.5,342.6 811.0,344.1 811.5,343.4 812.0,343.9 812.5,344.2 813.0,343.7 813.5,343.3 814.0,343.6 814.5,343.7 815.0,342.9 815.5,342.9 816.0,343.5 816.5,344.2 817.0,343.4 817.5,344.0 818.0,343.2 818.5,343.6 819.0,343.8 819.5,343.1 820.0,343.9 820.5,344.0 821.0,342.6 821.5,344.0 822.0,344.0 822.5,344.2 823.0,344.2 823.5,343.3 824.0,343.4 824.5,343.6 825.0,343.2 825.5,343.4 826.0,344.3 826.5,343.2 827.0,343.3 827.5,344.5 828.0,343.4 828.5,343.0 829.0,344.0 829.5,343.8 830.0,343.9 830.5,343.0 831.0,344.1 831.5,344.1 832.0,345.1 832.5,344.3 833.0,343.8 833.5,344.1 834.0,344.4 834.5,343.8 835.0,344.0 835.5,344.7 836.0,344.3 836.5,344.2 837.0,343.4 837.5,344.0 838.0,342.7 838.5,344.3 839.0,343.4 839.5,343.8 840.0,344.3 840.5,343.0 841.0,344.1 841.5,343.6 842.0,344.1 842.5,343.4 843.0,343.5 843.5,344.6 844.0,344.2 844.5,344.0 845.0,343.3 845.5,344.7 846.0,343.8 846.5,344.0 847.0,343.7 847.5,344.1 848.0,344.4 848.5,344.0 849.0,343.9 849.5,343.6 850.0,344.9 850.5,345.1 851.0,343.9 851.5,343.5 852.0,343.9 852.5,342.9 853.0,344.0 853.5,344.0 854.0,344.2 854.5,344.7 855.0,344.8 855.5,344.3 856.0,343.9 856.5,344.8 857.0,344.6 857.5,343.2 858.0,343.5 858.5,343.5 859.0,342.9 859.5,343.2 860.0,344.5 860.5,342.9 861.0,344.0 861.5,343.2 862.0,344.1 862.5,343.7 863.0,344.2 863.5,342.9 864.0,343.8 864.5,343.5 865.0,344.2 865.5,344.1 866.0,343.8 866.5,343.8 867.0,343.9 867.5,344.2 868.0,343.7 868.5,343.7 869.0,343.5 869.5,343.3 870.0,344.4 870.5,343.2 871.0,344.6 871.5,344.2 872.0,342.8 872.5,342.8 873.0,343.8 873.5,343.2 874.0,344.1 874.5,344.4 875.0,344.3 875.5,344.0 876.0,344.0 876.5,344.8 877.0,343.8 877.5,345.0 878.0,345.2 878.5,343.8 879.0,344.1 879.5,344.7 880.0,343.3 880.5,343.9 881.0,344.3 881.5,343.1 882.0,343.7 882.5,343.5 883.0,343.2 883.5,344.2 884.0,343.3 884.5,344.8 885.0,343.8 885.5,343.1 886.0,343.8 886.5,343.4 887.0,344.1 887.5,344.2 888.0,343.3 888.5,343.8 889.0,344.3 889.5,344.2 890.0,343.6 890.5,344.6 891.0,344.7 891.5,343.2 892.0,344.6 892.5,342.7 893.0,343.6 893.5,343.3 894.0,343.5 894.5,343.8 895.0,343.2 895.5,343.6 896.0,344.5 896.5,343.9 897.0,344.6 897.5,344.4 898.0,342.9 898.5,344.7 899.0,344.2 899.5,344.0 900.0,343.5 900.5,343.5 901.0,343.3 901.5,343.6 902.0,343.6 902.5,343.4 903.0,343.2 903.5,342.3 904.0,342.9 904.5,342.7 905.0,343.1 905.5,342.8 906.0,342.8 906.5,343.1 907.0,342.9 907.5,342.9 908.0,343.5 908.5,343.0 909.0,342.6 909.5,343.4 910.0,343.4 910.5,343.1 911.0,342.1 911.5,343.3 912.0,343.1 912.5,343.2 913.0,343.3 913.5,343.6 914.0,343.7 914.5,344.3 915.0,343.7 915.5,343.5 916.0,343.8 916.5,343.4 917.0,344.1 917.5,343.6 918.0,343.7 918.5,343.2 919.0,343.8 919.5,343.7 920.0,343.1 920.5,343.3 921.0,343.5 921.5,342.6 922.0,342.7 922.5,343.4 923.0,343.3 923.5,343.8 924.0,342.3 924.5,342.7 925.0,342.0 925.5,343.7 926.0,342.2 926.5,342.8 927.0,343.8 927.5,343.5 928.0,342.3 928.5,343.9 929.0,342.9 929.5,342.1 930.0,342.7 930.5,342.9 931.0,342.8 931.5,341.5 932.0,343.4 932.5,341.7 933.0,342.3 933.5,343.1 934.0,342.5 934.5,342.2 935.0,341.9 935.5,342.4 936.0,342.7 936.5,341.6 937.0,342.0 937.5,341.6 938.0,341.5 938.5,340.8 939.0,341.8 939.5,342.0 940.0,341.4 940.5,341.8 941.0,341.5 941.5,342.0 942.0,341.4 942.5,341.1 943.0,340.9 943.5,341.1 944.0,341.0 944.5,340.6 945.0,340.8 945.5,340.1 946.0,339.9 946.5,340.5 947.0,340.3 947.5,340.4 948.0,340.0 948.5,339.9 949.0,340.3 949.5,339.0 950.0,339.2 950.5,339.6 951.0,339.5 951.5,338.7 952.0,338.3 952.5,337.6 953.0,337.7 953.5,337.3 954.0,336.9 954.5,336.8 955.0,336.4 955.5,335.7 956.0,335.1 956.5,334.6 957.0,334.3 957.5,334.0 958.0,332.6 958.5,332.7 959.0,331.5 959.5,331.0 960.0,330.1 960.5,328.7 961.0,327.3 961.5,326.1 962.0,324.8 962.5,323.0 963.0,321.1 963.5,318.9 964.0,316.6 964.5,313.8 965.0,310.9 965.5,307.3 966.0,303.3 966.5,298.4 967.0,293.3 967.5,287.2 968.0,280.4 968.5,272.6 969.0,263.9 969.5,254.6 970.0,244.4 970.5,234.2 971.0,224.7 971.5,216.6 972.0,210.8 972.5,208.2 973.0,209.9 973.5,216.6 974.0,226.8 974.5,238.8 975.0,251.4 975.5,263.2 976.0,273.7 976.5,283.1 977.0,291.0 977.5,297.8 978.0,303.5 978.5,308.2 979.0,312.4 979.5,315.9 980.0,318.9 980.5,321.3 981.0,323.3 981.5,325.5 982.0,327.1 982.5,328.4 983.0,329.7 983.5,331.1 984.0,331.6 984.5,332.3 985.0,332.9 985.5,334.1 986.0,334.9 986.5,335.1 987.0,336.4 987.5,336.1 988.0,336.7 988.5,337.0 989.0,337.9 989.5,337.5 990.0,338.6 990.5,338.3 991.0,338.0 991.5,338.5 992.0,338.9 992.5,339.8 993.0,339.1 993.5,339.5 994.0,340.6 994.5,340.0 995.0,339.6 995.5,339.6 996.0,339.4 996.5,340.4 997.0,341.0 997.5,340.4 998.0,340.2 998.5,340.8 999.0,340.8 999.5,340.9 1000.0,341.5 1000.5,341.5 1001.0,341.2 1001.5,341.9 1002.0,340.5 1002.5,340.8 1003.0,341.3 1003.5,340.7 1004.0,342.1 1004.5,340.2 1005.0,341.6 1005.5,341.6 1006.0,341.6 1006.5,341.8 1007.0,341.3 1007.5,341.2 1008.0,342.4 1008.5,341.6 1009.0,341.1 1009.5,341.1 1010.0,340.9 1010.5,341.7 1011.0,342.1 1011.5,341.4 1012.0,341.7 1012.5,341.4 1013.0,342.2 1013.5,342.2 1014.0,342.3 1014.5,342.8 1015.0,341.5 1015.5,342.6 1016.0,341.4 1016.5,342.5 1017.0,342.5 1017.5,342.4 1018.0,342.4 1018.5,341.8 1019.0,341.6 1019.5,342.3 1020.0,341.6 1020.5,342.2 1021.0,341.5 1021.5,342.2 1022.0,342.2 1022.5,341.7 1023.0,342.1 1023.5,342.7 1024.0,342.4 1024.5,342.6 1025.0,342.1 1025.5,342.5 1026.0,341.8 1026.5,342.2 1027.0,343.1 1027.5,342.8 1028.0,342.5 1028.5,342.5 1029.0,341.7 1029.5,342.5 1030.0,341.6 1030.5,341.8 1031.0,342.7 1031.5,342.1 1032.0,342.1 1032.5,342.2 1033.0,342.4 1033.5,343.1 1034.0,341.6 1034.5,342.5 1035.0,343.0 1035.5,342.2 1036.0,342.1 1036.5,341.9 1037.0,342.2 1037.5,342.7 1038.0,342.9 1038.5,342.4 1039.0,342.9 1039.5,342.2 1040.0,341.4 1040.5,342.6 1041.0,341.2 1041.5,342.4 1042.0,342.5 1042.5,342.0 1043.0,342.4 1043.5,342.3 1044.0,342.6 1044.5,342.3 1045.0,342.8 1045.5,342.2 1046.0,342.6 1046.5,342.2 1047.0,342.4 1047.5,342.3 1048.0,342.0 1048.5,342.7 1049.0,342.3 1049.5,340.9 1050.0,341.5 1050.5,343.1 1051.0,342.0 1051.5,343.6 1052.0,342.3 1052.5,342.3 1053.0,341.9 1053.5,342.0 1054.0,342.3 1054.5,342.8 1055.0,342.3 1055.5,342.2 1056.0,341.7 1056.5,341.9 1057.0,341.8 1057.5,342.0 1058.0,341.9 1058.5,341.4 1059.0,341.8 1059.5,340.6 1060.0,341.2 1060.5,341.5 1061.0,342.2 1061.5,341.8 1062.0,341.7 1062.5,342.4 1063.0,342.2 1063.5,342.8 1064.0,342.0 1064.5,341.7 1065.0,342.0 1065.5,343.1 1066.0,342.8 1066.5,341.9 1067.0,342.5 1067.5,341.2 1068.0,342.6 1068.5,342.1 1069.0,341.9 1069.5,342.0 1070.0,342.2 1070.5,341.8 1071.0,341.9 1071.5,341.5 1072.0,342.8 1072.5,341.6 1073.0,342.0 1073.5,342.6 1074.0,342.6 1074.5,342.6 1075.0,341.7 1075.5,341.9 1076.0,342.2 1076.5,341.3 1077.0,342.6 1077.5,341.4 1078.0,342.3 1078.5,342.8 1079.0,343.0 1079.5,342.3 1080.0,342.9 1080.5,342.9 1081.0,341.5 1081.5,342.4 1082.0,342.9 1082.5,342.6 1083.0,342.3 1083.5,342.2 1084.0,343.3 1084.5,342.0 1085.0,342.6 1085.5,341.5 1086.0,342.2 1086.5,342.4 1087.0,341.7 1087.5,341.6 1088.0,342.8 1088.5,341.8 1089.0,342.3 1089.5,341.1 1090.0,342.7 1090.5,340.9 1091.0,341.6 1091.5,341.7 1092.0,342.0 1092.5,342.2 1093.0,342.9 1093.5,343.1 1094.0,343.1 1094.5,342.6 1095.0,342.2 1095.5,340.9 1096.0,342.0 1096.5,341.7 1097.0,342.1 1097.5,341.5 1098.0,341.5 1098.5,341.4 1099.0,342.1 1099.5,341.8 1100.0,341.2 1100.5,340.7 1101.0,341.2 1101.5,341.3 1102.0,341.3 1102.5,341.6 1103.0,341.7 1103.5,341.7 1104.0,341.0 1104.5,341.0 1105.0,342.0 1105.5,341.1 1106.0,341.4 1106.5,341.1 1107.0,341.0 1107.5,341.6 1108.0,340.7 1108.5,341.3 1109.0,340.9 1109.5,340.5 1110.0,340.3 1110.5,340.2 1111.0,340.7 1111.5,340.6 1112.0,339.7 1112.5,340.1 1113.0,339.1 1113.5,339.7 1114.0,340.3 1114.5,338.8 1115.0,339.3 1115.5,338.7 1116.0,338.8 1116.5,338.1 1117.0,338.1 1117.5,336.9 1118.0,337.2 1118.5,336.9 1119.0,336.6 1119.5,336.7 1120.0,335.2 1120.5,334.8 1121.0,334.0 1121.5,334.0 1122.0,333.1 1122.5,332.1 1123.0,331.8 1123.5,330.7 1124.0,330.0 1124.5,328.6 1125.0,327.1 1125.5,325.4 1126.0,323.6 1126.5,322.1 1127.0,320.6 1127.5,318.3 1128.0,315.9 1128.5,313.8 1129.0,311.7 1129.5,309.7 1130.0,307.2 1130.5,305.5 1131.0,304.1 1131.5,303.3 1132.0,303.2 1132.5,303.5 1133.0,304.4 1133.5,306.5 1134.0,308.6 1134.5,310.9 1135.0,313.2 1135.5,315.7 1136.0,318.5 1136.5,320.4 1137.0,322.7 1137.5,324.4 1138.0,326.9 1138.5,327.8 1139.0,329.3 1139.5,330.4 1140.0,331.5 1140.5,332.3 1141.0,333.8 1141.5,334.0 1142.0,335.4 1142.5,335.3 1143.0,336.6 1143.5,337.4 1144.0,337.1 1144.5,338.1 1145.0,338.2 1145.5,338.4 1146.0,339.1 1146.5,338.7 1147.0,339.5 1147.5,339.3 1148.0,340.3 1148.5,340.9 1149.0,340.9 1149.5,340.2 1150.0,340.6 1150.5,341.7 1151.0,341.7 1151.5,341.5 1152.0,340.5 1152.5,341.5 1153.0,342.8 1153.5,342.3 1154.0,342.0 1154.5,342.4 1155.0,343.5 1155.5,343.2 1156.0,342.1 1156.5,342.1 1157.0,342.7 1157.5,343.3 1158.0,342.4 1158.5,342.5 1159.0,341.5 1159.5,342.5 1160.0,343.0 1160.5,342.9 1161.0,342.2 1161.5,343.3 1162.0,342.5 1162.5,342.2 1163.0,343.2 1163.5,342.4 1164.0,343.0 1164.5,342.8 1165.0,343.3 1165.5,343.4 1166.0,343.2 1166.5,343.1 1167.0,343.2 1167.5,342.2 1168.0,343.3 1168.5,344.4 1169.0,343.6 1169.5,344.1 1170.0,343.6 1170.5,343.7 1171.0,343.9 1171.5,344.1 1172.0,344.2 1172.5,343.5 1173.0,343.9 1173.5,343.2 1174.0,344.4 1174.5,343.8 1175.0,343.7 1175.5,343.3 1176.0,344.1 1176.5,344.4 1177.0,344.2 1177.5,344.6 1178.0,343.6 1178.5,344.5 1179.0,343.9 1179.5,342.5 1180.0,344.1 1180.5,343.6 1181.0,344.1 1181.5,343.9 1182.0,343.8 1182.5,344.8 1183.0,343.9 1183.5,344.3 1184.0,344.6 1184.5,344.0 1185.0,343.6 1185.5,344.0 1186.0,344.0 1186.5,343.6 1187.0,344.0 1187.5,344.8 1188.0,344.8 1188.5,345.1 1189.0,345.2 1189.5,344.6 1190.0,344.7 1190.5,344.1 1191.0,345.4 1191.5,344.6 1192.0,345.2 1192.5,345.8 1193.0,345.0 1193.5,344.2 1194.0,344.3 1194.5,344.8 1195.0,345.8 1195.5,344.9 1196.0,345.1 1196.5,344.6 1197.0,345.3 1197.5,345.1 1198.0,345.5 1198.5,344.6 1199.0,345.2 1199.5,343.9 1200.0,344.3 1200.5,344.4 1201.0,344.6 1201.5,345.0 1202.0,343.6 1202.5,344.7 1203.0,344.6 1203.5,344.0 1204.0,344.6 1204.5,345.0 1205.0,344.4 1205.5,344.4 1206.0,344.9 1206.5,344.1 1207.0,345.0 1207.5,344.6 1208.0,344.7 1208.5,344.8 1209.0,345.3 1209.5,344.3 1210.0,345.2 1210.5,344.3 1211.0,345.0 1211.5,345.1 1212.0,345.0 1212.5,344.4 1213.0,344.4 1213.5,344.3 1214.0,344.8 1214.5,344.8 1215.0,345.1 1215.5,343.8 1216.0,344.8 1216.5,345.2 1217.0,344.9 1217.5,344.7 1218.0,345.2 1218.5,345.5 1219.0,345.4 1219.5,345.4 1220.0,344.1 1220.5,345.5 1221.0,344.7 1221.5,345.3 1222.0,344.7 1222.5,345.3 1223.0,344.9 1223.5,345.1 1224.0,346.3 1224.5,344.7 1225.0,345.7 1225.5,345.1 1226.0,344.5 1226.5,345.7 1227.0,345.1 1227.5,344.7 1228.0,345.2 1228.5,344.6 1229.0,345.9 1229.5,344.3 1230.0,345.0 1230.5,344.2 1231.0,345.3 1231.5,345.6 1232.0,345.9 1232.5,346.4 1233.0,345.5 1233.5,345.4 1234.0,346.1 1234.5,345.2 1235.0,345.6 1235.5,345.3 1236.0,345.1 1236.5,345.3 1237.0,345.7 1237.5,345.7 1238.0,345.2 1238.5,343.8 1239.0,345.2 1239.5,345.5 1240.0,345.6 1240.5,345.0 1241.0,346.0 1241.5,345.7 1242.0,344.5 1242.5,345.9 1243.0,346.5 1243.5,345.8 1244.0,345.1 1244.5,346.3 1245.0,345.8 1245.5,344.4 1246.0,346.0 1246.5,345.6 1247.0,345.7 1247.5,344.6 1248.0,344.5 1248.5,345.5 1249.0,346.4 1249.5,345.6 1250.0,345.7 1250.5,345.3 1251.0,345.4 1251.5,345.9 1252.0,345.1 1252.5,346.5 1253.0,345.8 1253.5,345.6 1254.0,345.3 1254.5,344.9 1255.0,345.0 1255.5,344.5 1256.0,345.4 1256.5,344.5 1257.0,346.6 1257.5,345.4 1258.0,344.8 1258.5,345.8 1259.0,345.7 1259.5,345.4 1260.0,346.0 1260.5,345.2 1261.0,345.6 1261.5,345.6 1262.0,346.1 1262.5,345.6 1263.0,346.0 1263.5,344.4 1264.0,346.4 1264.5,345.7 1265.0,346.0 1265.5,345.5 1266.0,346.0 1266.5,345.4 1267.0,345.4 1267.5,345.5 1268.0,345.1 1268.5,344.9 1269.0,345.8 1269.5,345.9 1270.0,345.5 1270.5,346.2 1271.0,345.5 1271.5,345.7 1272.0,346.0 1272.5,345.9 1273.0,345.4 1273.5,345.0 1274.0,345.2 1274.5,345.1 1275.0,345.9 1275.5,343.8 1276.0,346.6 1276.5,345.2 1277.0,346.2 1277.5,345.8 1278.0,345.8 1278.5,344.9 1279.0,346.1 1279.5,345.7 1280.0,346.2 1280.5,345.5 1281.0,345.8 1281.5,345.5 1282.0,346.1 1282.5,346.4 1283.0,346.0 1283.5,346.4 1284.0,346.4 1284.5,346.2 1285.0,346.2 1285.5,345.3 1286.0,346.8 1286.5,346.1 1287.0,345.8 1287.5,346.0 1288.0,345.7 1288.5,345.7 1289.0,345.9 1289.5,344.7 1290.0,345.4 1290.5,345.8 1291.0,344.9 1291.5,345.2 1292.0,346.2 1292.5,346.6 1293.0,345.6 1293.5,346.0 1294.0,345.3 1294.5,346.5 1295.0,345.7 1295.5,345.9 1296.0,346.0 1296.5,345.6 1297.0,345.6 1297.5,346.0 1298.0,345.3 1298.5,345.5 1299.0,344.3 1299.5,345.2 1300.0,345.9 1300.5,346.2 1301.0,345.9 1301.5,345.2 1302.0,345.6 1302.5,345.3 1303.0,345.3 1303.5,346.4 1304.0,345.7 1304.5,345.7 1305.0,346.0 1305.5,346.5 1306.0,346.1 1306.5,346.1 1307.0,346.3 1307.5,346.1 1308.0,346.1 1308.5,345.3 1309.0,345.9 1309.5,346.2 1310.0,345.7 1310.5,347.1 1311.0,347.2 1311.5,346.9 1312.0,345.6 1312.5,346.4 1313.0,346.3 1313.5,346.3 1314.0,345.3 1314.5,346.5 1315.0,346.9 1315.5,346.5 1316.0,347.2 1316.5,345.8 1317.0,346.2 1317.5,346.3 1318.0,345.1 1318.5,345.5 1319.0,345.3 1319.5,346.2 1320.0,345.4 1320.5,346.0 1321.0,345.6 1321.5,346.5 1322.0,346.0 1322.5,346.3 1323.0,346.4 1323.5,346.0 1324.0,346.1 1324.5,346.1 1325.0,345.9 1325.5,346.4 1326.0,345.8 1326.5,346.1 1327.0,346.0 1327.5,345.9 1328.0,345.5 1328.5,345.1 1329.0,345.6 1329.5,346.3 1330.0,345.9 1330.5,346.8 1331.0,345.5 1331.5,345.7 1332.0,345.2 1332.5,346.6 1333.0,345.4 1333.5,346.3 1334.0,346.3 1334.5,347.4 1335.0,346.8 1335.5,346.7 1336.0,346.4 1336.5,347.4 1337.0,346.3 1337.5,345.8 1338.0,346.9 1338.5,346.4 1339.0,346.1 1339.5,346.5 1340.0,346.6 1340.5,345.5 1341.0,346.6 1341.5,347.1 1342.0,345.9 1342.5,345.3 1343.0,346.2 1343.5,346.0 1344.0,346.5 1344.5,346.5 1345.0,346.1 1345.5,346.8 1346.0,345.2 1346.5,345.6 1347.0,346.0 1347.5,346.1 1348.0,345.8 1348.5,346.1 1349.0,345.1 1349.5,344.7 1350.0,346.3 1350.5,346.6 1351.0,346.0 1351.5,345.5 1352.0,345.9 1352.5,346.5 1353.0,346.2 1353.5,346.8 1354.0,346.8 1354.5,346.7 1355.0,345.9 1355.5,346.5 1356.0,346.3 1356.5,346.1 1357.0,346.1 1357.5,346.1 1358.0,345.5 1358.5,346.3 1359.0,345.8 1359.5,346.0 1360.0,346.6 1360.5,346.4 1361.0,345.0 1361.5,345.5 1362.0,345.3 1362.5,346.1 1363.0,345.6 1363.5,346.5 1364.0,345.9 1364.5,346.3 1365.0,345.7 1365.5,345.9 1366.0,346.2 1366.5,346.6 1367.0,345.3 1367.5,346.3 1368.0,345.5 1368.5,346.3 1369.0,345.4 1369.5,346.0 1370.0,346.9 1370.5,347.0 1371.0,345.8 1371.5,347.2 1372.0,346.2 1372.5,346.4 1373.0,346.7 1373.5,346.4 1374.0,346.5 1374.5,346.3 1375.0,346.6 1375.5,346.3 1376.0,345.9 1376.5,345.6 1377.0,345.5 1377.5,345.9 1378.0,346.3 1378.5,346.1 1379.0,345.8 1379.5,346.1 1380.0,345.7 1380.5,346.0 1381.0,346.0 1381.5,345.6 1382.0,346.5 1382.5,346.3 1383.0,345.7 1383.5,346.3 1384.0,346.1 1384.5,346.0 1385.0,346.0 1385.5,346.7 1386.0,346.4 1386.5,346.4 1387.0,346.6 1387.5,346.6 1388.0,346.9 1388.5,345.6 1389.0,346.6 1389.5,345.4 1390.0,346.1 1390.5,345.6 1391.0,345.6 1391.5,346.4 1392.0,346.0 1392.5,346.6 1393.0,345.4 1393.5,347.3 1394.0,345.4 1394.5,346.6 1395.0,347.8 1395.5,346.4 1396.0,347.8 1396.5,347.5 1397.0,346.6 1397.5,346.4 1398.0,346.5 1398.5,346.7 1399.0,347.0 1399.5,347.0 1400.0,345.2 1400.5,346.5 1401.0,346.3 1401.5,345.6 1402.0,346.7 1402.5,346.7 1403.0,346.7 1403.5,346.1 1404.0,346.5 1404.5,346.8 1405.0,345.9 1405.5,345.9 1406.0,345.9 1406.5,346.7 1407.0,346.2 1407.5,345.8 1408.0,345.8 1408.5,345.7 1409.0,346.4 1409.5,346.8 1410.0,347.1 1410.5,345.9 1411.0,345.9 1411.5,345.9 1412.0,346.1 1412.5,345.6 1413.0,347.0 1413.5,346.7 1414.0,346.1 1414.5,345.0 1415.0,346.9 1415.5,346.6 1416.0,346.4 1416.5,346.5 1417.0,345.8 1417.5,346.6 1418.0,345.8 1418.5,346.4 1419.0,346.2 1419.5,345.6 1420.0,345.8 1420.5,346.8 1421.0,346.9 1421.5,346.3 1422.0,346.0 1422.5,346.2 1423.0,346.6 1423.5,345.7 1424.0,346.9 1424.5,346.0 1425.0,345.9 1425.5,346.5 1426.0,347.6 1426.5,346.4 1427.0,346.6 1427.5,346.1 1428.0,346.8 1428.5,346.8 1429.0,346.7 1429.5,346.5 1430.0,346.7 1430.5,346.9 1431.0,346.1 1431.5,346.2 1432.0,346.1 1432.5,346.1 1433.0,347.0 1433.5,345.8 1434.0,346.5 1434.5,347.0 1435.0,346.3 1435.5,346.8 1436.0,346.9 1436.5,345.8 1437.0,347.0 1437.5,346.1 1438.0,346.6 1438.5,345.7 1439.0,345.6 1439.5,346.2 1440.0,347.1 1440.5,347.5 1441.0,347.8 1441.5,347.2 1442.0,347.0 1442.5,346.6 1443.0,346.6 1443.5,346.1 1444.0,346.2 1444.5,346.6 1445.0,346.7 1445.5,346.1 1446.0,345.8 1446.5,346.1 1447.0,348.2 1447.5,346.1 1448.0,347.2 1448.5,347.1 1449.0,347.0 1449.5,346.2 1450.0,347.4 1450.5,346.5 1451.0,346.0 1451.5,346.0 1452.0,346.3 1452.5,347.5 1453.0,345.8 1453.5,346.1 1454.0,346.2 1454.5,346.6 1455.0,345.9 1455.5,346.0 1456.0,346.2 1456.5,346.8 1457.0,346.3 1457.5,346.4 1458.0,346.6 1458.5,346.6 1459.0,346.9 1459.5,346.0 1460.0,346.4 1460.5,346.1 1461.0,346.7 1461.5,346.7 1462.0,346.2 1462.5,346.9 1463.0,346.2 1463.5,347.2 1464.0,346.4 1464.5,346.5 1465.0,345.9 1465.5,346.0 1466.0,346.2 1466.5,345.4 1467.0,346.4 1467.5,346.9 1468.0,346.5 1468.5,346.3 1469.0,346.4 1469.5,346.0 1470.0,346.3 1470.5,347.0 1471.0,346.4 1471.5,347.0 1472.0,346.3 1472.5,346.9 1473.0,347.2 1473.5,346.6 1474.0,347.3 1474.5,347.1 1475.0,345.1 1475.5,347.7 1476.0,345.5 1476.5,347.5 1477.0,345.8 1477.5,345.3 1478.0,345.6 1478.5,346.6 1479.0,345.9 1479.5,346.1 1480.0,347.0 1480.5,346.0 1481.0,346.7 1481.5,347.2 1482.0,345.5 1482.5,345.9 1483.0,346.7 1483.5,346.7 1484.0,346.8 1484.5,345.6 1485.0,346.2 1485.5,346.9 1486.0,346.9 1486.5,347.2 1487.0,346.3 1487.5,346.0 1488.0,345.9 1488.5,345.9 1489.0,345.4 1489.5,347.3 1490.0,346.2 1490.5,346.2 1491.0,346.3 1491.5,347.0 1492.0,346.7 1492.5,346.1 1493.0,347.1 1493.5,346.6 1494.0,346.2 1494.5,346.4 1495.0,346.9 1495.5,346.7 1496.0,346.3 1496.5,346.8 1497.0,345.3 1497.5,346.7 1498.0,346.0 1498.5,346.1 1499.0,346.3 1499.5,347.4 1500.0,346.3 1500.5,346.2 1501.0,346.6 1501.5,345.3 1502.0,346.3 1502.5,346.7 1503.0,345.9 1503.5,346.6 1504.0,346.0 1504.5,345.6 1505.0,346.7 1505.5,346.4 1506.0,346.8 1506.5,346.5 1507.0,345.9 1507.5,346.9 1508.0,346.6 1508.5,346.5 1509.0,346.1 1509.5,345.8 1510.0,347.1 1510.5,346.7 1511.0,346.3 1511.5,346.0 1512.0,347.0 1512.5,346.0 1513.0,345.9 1513.5,347.4 1514.0,346.6 1514.5,346.8 1515.0,346.8 1515.5,347.5 1516.0,346.8 1516.5,346.8 1517.0,346.0 1517.5,346.6 1518.0,345.8 1518.5,346.5 1519.0,346.6 1519.5,346.9 1520.0,347.3 1520.5,346.1 1521.0,345.9 1521.5,346.6 1522.0,346.0 1522.5,347.2 1523.0,347.0 1523.5,345.8 1524.0,346.3 1524.5,346.6 1525.0,345.6 1525.5,345.9 1526.0,346.1 1526.5,346.9 1527.0,346.5 1527.5,346.2 1528.0,346.4 1528.5,346.4 1529.0,346.5 1529.5,346.6 1530.0,346.4 1530.5,346.6 1531.0,346.3 1531.5,346.1 1532.0,346.1 1532.5,345.7 1533.0,346.3 1533.5,347.5 1534.0,346.5 1534.5,346.7 1535.0,346.8 1535.5,346.4 1536.0,346.3 1536.5,346.7 1537.0,345.9 1537.5,347.0 1538.0,347.0 1538.5,346.8 1539.0,346.9 1539.5,347.2 1540.0,346.6 1540.5,345.3 1541.0,346.8 1541.5,346.0 1542.0,346.0 1542.5,346.1 1543.0,346.0 1543.5,345.3 1544.0,345.3 1544.5,346.2 1545.0,346.3 1545.5,346.4 1546.0,345.6 1546.5,346.1 1547.0,346.6 1547.5,345.9 1548.0,345.9 1548.5,347.3 1549.0,345.6 1549.5,346.2 1550.0,346.2 1550.5,346.5 1551.0,348.1 1551.5,346.0 1552.0,346.5 1552.5,346.3 1553.0,346.0 1553.5,346.7 1554.0,346.0 1554.5,346.6 1555.0,346.6 1555.5,345.7 1556.0,346.6 1556.5,345.3 1557.0,346.2 1557.5,346.6 1558.0,345.6 1558.5,345.9 1559.0,346.2 1559.5,346.4 1560.0,346.5 1560.5,347.4 1561.0,346.5 1561.5,347.1 1562.0,347.5 1562.5,346.2 1563.0,346.5 1563.5,346.2 1564.0,346.9 1564.5,347.1 1565.0,345.6 1565.5,346.0 1566.0,346.1 1566.5,347.6 1567.0,346.3 1567.5,346.6 1568.0,345.7 1568.5,346.8 1569.0,345.8 1569.5,346.2 1570.0,345.7 1570.5,346.1 1571.0,346.2 1571.5,346.3 1572.0,346.3 1572.5,347.2 1573.0,346.0 1573.5,347.0 1574.0,346.6 1574.5,346.2 1575.0,346.4 1575.5,346.3 1576.0,346.6 1576.5,346.6 1577.0,346.5 1577.5,346.3 1578.0,345.3 1578.5,346.5 1579.0,346.7 1579.5,346.5 1580.0,346.3 1580.5,345.8 1581.0,346.4 1581.5,346.7 1582.0,345.7 1582.5,346.1 1583.0,346.1 1583.5,347.0 1584.0,346.2 1584.5,345.5 1585.0,346.5 1585.5,347.0 1586.0,346.1 1586.5,346.0 1587.0,346.3 1587.5,346.9 1588.0,345.9 1588.5,345.8 1589.0,346.2 1589.5,345.6 1590.0,345.1 1590.5,346.0 1591.0,345.8 1591.5,346.3 1592.0,346.3 1592.5,346.6 1593.0,345.9 1593.5,346.5 1594.0,346.0 1594.5,346.6 1595.0,346.2 1595.5,347.2 1596.0,346.0 1596.5,345.1 1597.0,346.3 1597.5,345.8 1598.0,345.6 1598.5,346.0 1599.0,346.7 1599.5,345.8 1600.0,345.5 1600.5,346.5 1601.0,346.3 1601.5,345.9 1602.0,345.7 1602.5,346.3 1603.0,345.7 1603.5,345.6 1604.0,345.6 1604.5,346.3 1605.0,346.6 1605.5,346.0 1606.0,346.7 1606.5,344.8 1607.0,345.8 1607.5,345.0 1608.0,346.3 1608.5,346.4 1609.0,344.8 1609.5,345.3 1610.0,345.6 1610.5,344.8 1611.0,345.1 1611.5,345.0 1612.0,345.5 1612.5,345.1 1613.0,344.8 1613.5,345.1 1614.0,345.4 1614.5,345.5 1615.0,345.4 1615.5,346.1 1616.0,345.4 1616.5,345.7 1617.0,345.8 1617.5,345.3 1618.0,346.1 1618.5,345.8 1619.0,345.8 1619.5,345.1 1620.0,345.3 1620.5,345.4 1621.0,345.4 1621.5,344.7 1622.0,344.8 1622.5,344.4 1623.0,344.3 1623.5,345.3 1624.0,344.8 1624.5,345.1 1625.0,345.3 1625.5,344.8 1626.0,344.8 1626.5,344.2 1627.0,344.2 1627.5,344.7 1628.0,345.0 1628.5,344.7 1629.0,343.9 1629.5,343.8 1630.0,344.2 1630.5,344.1 1631.0,344.0 1631.5,343.7 1632.0,343.9 1632.5,343.4 1633.0,343.6 1633.5,343.0 1634.0,342.7 1634.5,342.1 1635.0,342.4 1635.5,342.4 1636.0,341.9 1636.5,341.3 1637.0,340.6 1637.5,340.9 1638.0,341.2 1638.5,339.8 1639.0,339.5 1639.5,339.2 1640.0,338.9 1640.5,337.8 1641.0,337.5 1641.5,336.9 1642.0,335.8 1642.5,335.5 1643.0,334.2 1643.5,333.6 1644.0,332.8 1644.5,331.6 1645.0,330.1 1645.5,329.3 1646.0,328.0 1646.5,326.6 1647.0,325.4 1647.5,323.9 1648.0,322.6 1648.5,321.7 1649.0,320.9 1649.5,320.3 1650.0,319.7 1650.5,319.7 1651.0,320.0 1651.5,320.6 1652.0,321.3 1652.5,322.7 1653.0,324.5 1653.5,325.6 1654.0,327.1 1654.5,328.6 1655.0,330.3 1655.5,332.1 1656.0,333.1 1656.5,334.1 1657.0,335.2 1657.5,336.4 1658.0,337.1 1658.5,337.3 1659.0,338.8 1659.5,339.3 1660.0,339.2 1660.5,339.9 1661.0,340.5 1661.5,340.8 1662.0,341.0 1662.5,341.4 1663.0,342.4 1663.5,341.9 1664.0,342.7 1664.5,342.7 1665.0,342.5 1665.5,343.3 1666.0,343.5 1666.5,343.9 1667.0,344.4 1667.5,344.3 1668.0,344.2 1668.5,344.4 1669.0,344.7 1669.5,344.0 1670.0,344.1 1670.5,344.9 1671.0,344.3 1671.5,344.7 1672.0,345.7 1672.5,345.5 1673.0,345.7 1673.5,345.1 1674.0,345.7 1674.5,344.8 1675.0,344.7 1675.5,345.0 1676.0,344.8 1676.5,345.8 1677.0,345.1 1677.5,344.8 1678.0,345.6 1678.5,345.6 1679.0,345.9 1679.5,344.9 1680.0,345.2 1680.5,344.6 1681.0,345.8 1681.5,345.6 1682.0,345.5 1682.5,346.5 1683.0,345.6 1683.5,345.7 1684.0,345.6 1684.5,345.5 1685.0,345.9 1685.5,345.8 1686.0,345.9 1686.5,345.4 1687.0,345.3 1687.5,345.6 1688.0,345.9 1688.5,345.4 1689.0,345.6 1689.5,345.7 1690.0,345.2 1690.5,344.9 1691.0,345.5 1691.5,346.3 1692.0,345.8 1692.5,345.6 1693.0,345.3 1693.5,345.4 1694.0,346.2 1694.5,345.3 1695.0,346.6 1695.5,345.8 1696.0,346.0 1696.5,345.6 1697.0,346.3 1697.5,346.3 1698.0,345.6 1698.5,346.8 1699.0,346.1 1699.5,345.4 1700.0,346.3 1700.5,346.3 1701.0,346.4 1701.5,346.8 1702.0,346.8 1702.5,345.8 1703.0,346.3 1703.5,346.3 1704.0,346.3 1704.5,345.5 1705.0,346.4 1705.5,346.3 1706.0,346.9 1706.5,345.7 1707.0,345.9 1707.5,346.3 1708.0,346.2 1708.5,346.9 1709.0,347.1 1709.5,346.1 1710.0,346.6 1710.5,347.0 1711.0,346.3 1711.5,347.8 1712.0,346.8 1712.5,346.8 1713.0,346.0 1713.5,346.2 1714.0,345.7 1714.5,346.9 1715.0,346.1 1715.5,346.5 1716.0,346.4 1716.5,346.3 1717.0,346.0 1717.5,346.4 1718.0,345.7 1718.5,345.3 1719.0,345.4 1719.5,346.5 1720.0,346.8 1720.5,346.0 1721.0,346.1 1721.5,346.5 1722.0,345.5 1722.5,346.0 1723.0,345.5 1723.5,346.4 1724.0,344.8 1724.5,345.6 1725.0,345.4 1725.5,346.2 1726.0,346.4 1726.5,346.1 1727.0,347.1 1727.5,346.0 1728.0,345.5 1728.5,345.8 1729.0,346.3 1729.5,346.2 1730.0,347.2 1730.5,346.2 1731.0,345.7 1731.5,345.7 1732.0,346.5 1732.5,344.8 1733.0,346.4 1733.5,346.6 1734.0,346.0 1734.5,346.2 1735.0,346.8 1735.5,346.9 1736.0,346.9 1736.5,346.7 1737.0,346.1 1737.5,345.5 1738.0,345.0 1738.5,347.0 1739.0,346.6 1739.5,345.4 1740.0,346.5 1740.5,345.6 1741.0,345.6 1741.5,345.3 1742.0,347.1 1742.5,345.5 1743.0,345.6 1743.5,346.5 1744.0,346.6 1744.5,346.4 1745.0,345.7 1745.5,346.3 1746.0,345.9 1746.5,346.1 1747.0,347.2 1747.5,346.4 1748.0,346.7 1748.5,345.8 1749.0,346.1 1749.5,346.5 1750.0,346.7 1750.5,346.0 1751.0,346.9 1751.5,347.2 1752.0,345.3 1752.5,346.1 1753.0,346.5 1753.5,346.1 1754.0,347.1 1754.5,346.3 1755.0,346.5 1755.5,345.6 1756.0,346.9 1756.5,346.0 1757.0,346.5 1757.5,346.0 1758.0,345.8 1758.5,346.0 1759.0,345.4 1759.5,345.7 1760.0,346.2 1760.5,346.2 1761.0,345.4 1761.5,346.2 1762.0,345.6 1762.5,345.7 1763.0,346.4 1763.5,346.5 1764.0,345.9 1764.5,346.8 1765.0,346.4 1765.5,347.4 1766.0,345.7 1766.5,346.3 1767.0,346.4 1767.5,345.9 1768.0,345.5 1768.5,346.9 1769.0,346.3 1769.5,345.4 1770.0,345.7 1770.5,345.8 1771.0,346.2 1771.5,345.4 1772.0,346.7 1772.5,345.9 1773.0,346.5 1773.5,346.1 1774.0,345.9 1774.5,346.1 1775.0,346.2 1775.5,345.9 1776.0,346.2 1776.5,346.5 1777.0,346.8 1777.5,345.9 1778.0,345.6 1778.5,345.9 1779.0,346.9 1779.5,346.4 1780.0,346.3 1780.5,346.6 1781.0,346.9 1781.5,346.0 1782.0,345.9 1782.5,346.3 1783.0,346.3 1783.5,346.0 1784.0,347.5 1784.5,346.9 1785.0,346.1 1785.5,346.4 1786.0,345.3 1786.5,346.4 1787.0,345.9 1787.5,345.7 1788.0,345.2 1788.5,346.2 1789.0,345.8 1789.5,345.5 1790.0,346.4 1790.5,345.9 1791.0,346.3 1791.5,345.9 1792.0,346.3 1792.5,345.6 1793.0,345.9 1793.5,346.2 1794.0,345.8 1794.5,346.0 1795.0,346.5 1795.5,345.8 1796.0,346.7 1796.5,346.3 1797.0,346.3 1797.5,345.5 1798.0,347.0 1798.5,346.8 1799.0,346.2 1799.5,346.2 1800.0,346.4 1800.5,346.0 1801.0,346.1 1801.5,346.4 1802.0,345.6 1802.5,346.3 1803.0,346.5 1803.5,345.4 1804.0,346.0 1804.5,345.4 1805.0,345.5 1805.5,346.5 1806.0,345.6 1806.5,347.5 1807.0,346.1 1807.5,345.9 1808.0,346.2 1808.5,346.1 1809.0,346.3 1809.5,346.4 1810.0,346.4 1810.5,346.7 1811.0,346.7 1811.5,346.1 1812.0,346.2 1812.5,345.8 1813.0,346.0 1813.5,346.1 1814.0,346.8 1814.5,346.0 1815.0,346.5 1815.5,346.5 1816.0,346.9 1816.5,346.3 1817.0,346.3 1817.5,347.0 1818.0,346.6 1818.5,346.2 1819.0,346.7 1819.5,346.1 1820.0,345.9 1820.5,346.6 1821.0,347.0 1821.5,346.0 1822.0,345.9 1822.5,345.4 1823.0,347.4 1823.5,346.4 1824.0,346.8 1824.5,346.3 1825.0,346.8 1825.5,346.4 1826.0,347.6 1826.5,347.0 1827.0,346.3 1827.5,345.9 1828.0,346.7 1828.5,345.9 1829.0,346.9 1829.5,346.3 1830.0,346.0 1830.5,345.4 1831.0,346.2 1831.5,345.5 1832.0,346.8 1832.5,345.3 1833.0,346.1 1833.5,347.5 1834.0,346.1 1834.5,346.8 1835.0,347.0 1835.5,346.6 1836.0,346.3 1836.5,346.9 1837.0,347.0 1837.5,346.2 1838.0,347.2 1838.5,347.1 1839.0,345.9 1839.5,346.7 1840.0,346.7 1840.5,346.5 1841.0,346.0 1841.5,345.6 1842.0,346.4 1842.5,345.5 1843.0,346.0 1843.5,345.4 1844.0,345.9 1844.5,346.3 1845.0,345.6 1845.5,346.7 1846.0,346.9 1846.5,346.5 1847.0,346.5 1847.5,346.7 1848.0,346.5 1848.5,345.3 1849.0,346.0 1849.5,345.6 1850.0,345.9 1850.5,345.1 1851.0,346.0 1851.5,345.8 1852.0,346.4 1852.5,345.5 1853.0,345.8 1853.5,345.0 1854.0,346.0 1854.5,346.1 1855.0,345.5 1855.5,346.2 1856.0,345.7 1856.5,346.3 1857.0,345.7 1857.5,345.9 1858.0,347.0 1858.5,346.4 1859.0,346.8 1859.5,346.5 1860.0,345.8 1860.5,346.6 1861.0,346.0 1861.5,345.9 1862.0,345.8 1862.5,345.4 1863.0,346.3 1863.5,345.9 1864.0,346.3 1864.5,346.2 1865.0,346.4 1865.5,345.8 1866.0,345.9 1866.5,346.3 1867.0,346.6 1867.5,345.8 1868.0,345.3 1868.5,346.5 1869.0,346.3 1869.5,345.5 1870.0,346.6 1870.5,346.3 1871.0,345.7 1871.5,346.3 1872.0,345.7 1872.5,346.2 1873.0,346.4 1873.5,346.6 1874.0,347.2 1874.5,346.0 1875.0,345.2 1875.5,346.9 1876.0,346.3 1876.5,346.8 1877.0,346.6 1877.5,346.9 1878.0,345.0 1878.5,346.7 1879.0,345.9 1879.5,345.6 1880.0,346.6 1880.5,346.4 1881.0,345.1 1881.5,345.6 1882.0,346.7 1882.5,345.4 1883.0,346.3 1883.5,346.4 1884.0,346.0 1884.5,345.9 1885.0,346.7 1885.5,346.2 1886.0,345.8 1886.5,346.5 1887.0,345.3 1887.5,345.9 1888.0,346.3 1888.5,345.5 1889.0,347.0 1889.5,346.3 1890.0,346.1 1890.5,345.7 1891.0,346.4 1891.5,346.3 1892.0,346.5 1892.5,346.2 1893.0,346.6 1893.5,345.6 1894.0,345.7 1894.5,346.1 1895.0,345.3 1895.5,346.1 1896.0,346.2 1896.5,345.3 1897.0,345.9 1897.5,345.6 1898.0,345.7 1898.5,346.5 1899.0,345.7 1899.5,346.0 1900.0,345.7 1900.5,345.7 1901.0,346.1 1901.5,346.1 1902.0,346.1 1902.5,346.6 1903.0,346.1 1903.5,346.2 1904.0,347.0 1904.5,346.3 1905.0,346.6 1905.5,346.4 1906.0,345.8 1906.5,346.7 1907.0,346.2 1907.5,346.1 1908.0,346.0 1908.5,346.3 1909.0,346.5 1909.5,345.2 1910.0,346.8 1910.5,345.3 1911.0,345.5 1911.5,346.3 1912.0,346.0 1912.5,346.3 1913.0,345.2 1913.5,345.8 1914.0,345.9 1914.5,345.2 1915.0,345.2 1915.5,345.7 1916.0,345.9 1916.5,344.4 1917.0,345.3 1917.5,345.8 1918.0,346.3 1918.5,345.2 1919.0,345.8 1919.5,345.2 1920.0,345.3 1920.5,345.5 1921.0,346.6 1921.5,346.2 1922.0,346.2 1922.5,345.8 1923.0,346.3 1923.5,345.8 1924.0,346.2 1924.5,345.1 1925.0,345.4 1925.5,346.1 1926.0,346.7 1926.5,346.7 1927.0,345.4 1927.5,345.8 1928.0,345.7 1928.5,347.0 1929.0,345.4 1929.5,345.8 1930.0,346.3 1930.5,346.2 1931.0,345.2 1931.5,346.6 1932.0,344.6 1932.5,345.7 1933.0,345.2 1933.5,344.8 1934.0,345.3 1934.5,345.3 1935.0,345.0 1935.5,345.3 1936.0,345.4 1936.5,345.6 1937.0,344.6 1937.5,345.5 1938.0,345.8 1938.5,346.2 1939.0,346.2 1939.5,344.8 1940.0,345.4 1940.5,345.8 1941.0,346.0 1941.5,346.4 1942.0,345.2 1942.5,344.9 1943.0,345.4 1943.5,345.5 1944.0,345.1 1944.5,345.0 1945.0,345.8 1945.5,344.9 1946.0,345.2 1946.5,345.6 1947.0,345.5 1947.5,345.5 1948.0,344.8 1948.5,343.6 1949.0,344.7 1949.5,345.2 1950.0,345.3 1950.5,345.5 1951.0,345.0 1951.5,345.3 1952.0,344.5 1952.5,344.8 1953.0,345.5 1953.5,344.3 1954.0,344.3 1954.5,344.9 1955.0,344.8 1955.5,343.6 1956.0,344.9 1956.5,343.9 1957.0,343.8 1957.5,344.5 1958.0,344.0 1958.5,344.0 1959.0,344.3 1959.5,344.1 1960.0,342.5 1960.5,343.7 1961.0,343.8 1961.5,343.3 1962.0,343.1 1962.5,343.2 1963.0,343.1 1963.5,342.9 1964.0,342.7 1964.5,342.1 1965.0,342.4 1965.5,341.8 1966.0,342.2 1966.5,341.5 1967.0,341.4 1967.5,340.9 1968.0,341.0 1968.5,341.0 1969.0,340.1 1969.5,340.6 1970.0,339.9 1970.5,339.4 1971.0,339.3 1971.5,338.7 1972.0,337.6 1972.5,337.9 1973.0,337.2 1973.5,336.4 1974.0,335.1 1974.5,334.2 1975.0,334.0 1975.5,333.9 1976.0,333.0 1976.5,331.9 1977.0,331.0 1977.5,329.4 1978.0,328.9 1978.5,327.5 1979.0,326.5 1979.5,325.0 1980.0,324.1 1980.5,322.6 1981.0,321.5 1981.5,320.3 1982.0,319.2 1982.5,318.3 1983.0,317.7 1983.5,317.4 1984.0,317.4 1984.5,317.8 1985.0,318.2 1985.5,319.0 1986.0,320.3 1986.5,321.3 1987.0,323.0 1987.5,324.5 1988.0,325.5 1988.5,327.4 1989.0,328.7 1989.5,330.1 1990.0,331.3 1990.5,332.5 1991.0,333.3 1991.5,334.7 1992.0,335.5 1992.5,335.8 1993.0,336.8 1993.5,337.3 1994.0,338.4 1994.5,338.4 1995.0,339.1 1995.5,339.5 1996.0,339.6 1996.5,340.9 1997.0,341.1 1997.5,340.9 1998.0,342.0 1998.5,342.3 1999.0,341.5 1999.5,342.3 2000.0,342.5 2000.5,342.5 2001.0,342.7 2001.5,342.6 2002.0,342.2 2002.5,342.9 2003.0,342.5 2003.5,343.0 2004.0,343.4 2004.5,344.2 2005.0,344.3 2005.5,343.6 2006.0,343.9 2006.5,344.8 2007.0,344.6 2007.5,344.9 2008.0,344.2 2008.5,345.0 2009.0,345.0 2009.5,345.3 2010.0,345.6 2010.5,344.5 2011.0,345.5 2011.5,344.7 2012.0,344.8 2012.5,345.5 2013.0,345.0 2013.5,345.2 2014.0,345.8 2014.5,346.0 2015.0,345.4 2015.5,344.6 2016.0,345.2 2016.5,345.0 2017.0,345.1 2017.5,345.5 2018.0,345.2 2018.5,345.4 2019.0,345.4 2019.5,345.4 2020.0,344.6 2020.5,345.3 2021.0,345.4 2021.5,346.0 2022.0,345.8 2022.5,345.5 2023.0,345.1 2023.5,345.7 2024.0,344.7 2024.5,345.7 2025.0,345.1 2025.5,345.1 2026.0,346.1 2026.5,345.5 2027.0,345.4 2027.5,344.9 2028.0,346.2 2028.5,344.3 2029.0,345.8 2029.5,345.7 2030.0,345.9 2030.5,345.4 2031.0,345.1 2031.5,346.5 2032.0,346.0 2032.5,346.2 2033.0,344.9 2033.5,346.3 2034.0,346.5 2034.5,346.2 2035.0,344.9 2035.5,345.2 2036.0,344.5 2036.5,345.8 2037.0,346.2 2037.5,345.9 2038.0,345.5 2038.5,345.2 2039.0,346.1 2039.5,345.0 2040.0,346.5 2040.5,345.9 2041.0,346.6 2041.5,345.9 2042.0,345.8 2042.5,346.2 2043.0,345.6 2043.5,345.9 2044.0,346.1 2044.5,345.6 2045.0,346.3 2045.5,345.3 2046.0,344.8 2046.5,345.6 2047.0,345.7 2047.5,345.5 2048.0,345.5 2048.5,345.6 2049.0,345.7 2049.5,345.5 2050.0,345.7 2050.5,344.8 2051.0,345.8 2051.5,346.0 2052.0,345.4 2052.5,345.3 2053.0,346.3 2053.5,345.4 2054.0,345.8 2054.5,345.9 2055.0,346.3 2055.5,347.3 2056.0,345.7 2056.5,344.1 2057.0,345.9 2057.5,345.5 2058.0,346.3 2058.5,346.1 2059.0,346.3 2059.5,345.9 2060.0,346.5 2060.5,345.8 2061.0,346.4 2061.5,345.5 2062.0,345.4 2062.5,345.8 2063.0,346.2"/>
<g fill="#000000" shape-rendering="crispEdges">
<rect x="136" y="31" width="2" height="1415"/>
<rect x="136" y="31" width="1928" height="2"/>
<rect x="2062" y="31" width="2" height="1415"/>
<rect x="136" y="1443" width="1928" height="6"/>
<rect x="133" y="1445" width="7" height="15"/>
<rect x="262" y="1445" width="7" height="28"/>
<rect x="390" y="1445" width="7" height="15"/>
<rect x="519" y="1445" width="7" height="28"/>
<rect x="647" y="1445" width="7" height="15"/>
<rect x="775" y="1445" width="7" height="28"/>
<rect x="904" y="1445" width="7" height="15"/>
<rect x="1032" y="1445" width="7" height="28"/>
<rect x="1161" y="1445" width="7" height="15"/>
<rect x="1289" y="1445" width="7" height="28"/>
<rect x="1418" y="1445" width="7" height="15"/>
<rect x="1546" y="1445" width="7" height="28"/>
<rect x="1675" y="1445" width="7" height="15"/>
<rect x="1803" y="1445" width="7" height="28"/>
<rect x="1932" y="1445" width="7" height="15"/>
<rect x="2060" y="1445" width="7" height="28"/>
</g>
<g font-family="'Liberation Serif', 'Times New Roman', serif" font-size="73" fill="#000000" text-anchor="middle" style="font-kerning:none;font-variant-ligatures:none">
<text transform="translate(486.40,298.90) scale(0.9761,1.0000)">PTFE (100)</text>
<text transform="translate(987.90,162.00) scale(0.9750,1.0000)">Ag (111)</text>
<text transform="translate(1198.80,267.80) scale(0.9745,1.0000)">Ag (200)</text>
<text transform="translate(1641.20,289.60) scale(0.9762,1.0000)">Ag (220)</text>
<text transform="translate(1928.80,286.60) scale(0.9781,1.0000)">Ag (311)</text>
<text transform="translate(1685.80,428.80) scale(0.9666,1.0000)">PTFE@Ag+Ni@PVDF</text>
<text transform="translate(1858.50,588.00) scale(0.9706,1.0000)">PTFE@Ag</text>
<text transform="translate(1806.50,950.80) scale(0.9627,1.0000)">PTFE @PDA</text>
<text transform="translate(1918.10,1388.80) scale(0.9804,1.0000)">PTFE</text>
<text transform="translate(265.40,1545.70) scale(0.9750,1.0220)">10</text>
<text transform="translate(522.20,1545.70) scale(0.9750,1.0220)">20</text>
<text transform="translate(779.00,1545.70) scale(0.9750,1.0220)">30</text>
<text transform="translate(1035.80,1545.70) scale(0.9750,1.0220)">40</text>
<text transform="translate(1292.60,1545.70) scale(0.9750,1.0220)">50</text>
<text transform="translate(1549.40,1545.70) scale(0.9750,1.0220)">60</text>
<text transform="translate(1806.20,1545.70) scale(0.9750,1.0220)">70</text>
<text transform="translate(2063.00,1545.70) scale(0.9750,1.0220)">80</text>
<text y="1644.8"><tspan x="1082.00" font-size="73.00" textLength="38.70" lengthAdjust="spacingAndGlyphs">2</tspan><tspan x="1116.50" font-size="65.30" textLength="36.30" lengthAdjust="spacingAndGlyphs">θ</tspan><tspan x="1181.75" font-size="71.60" textLength="92.10" lengthAdjust="spacingAndGlyphs"> (°)</tspan></text>
<text transform="translate(76.40,759.20) rotate(-90) scale(1.0170,1.0350)">Intensity (a.u.)</text>
</g>
</svg>
</body>
</html>
